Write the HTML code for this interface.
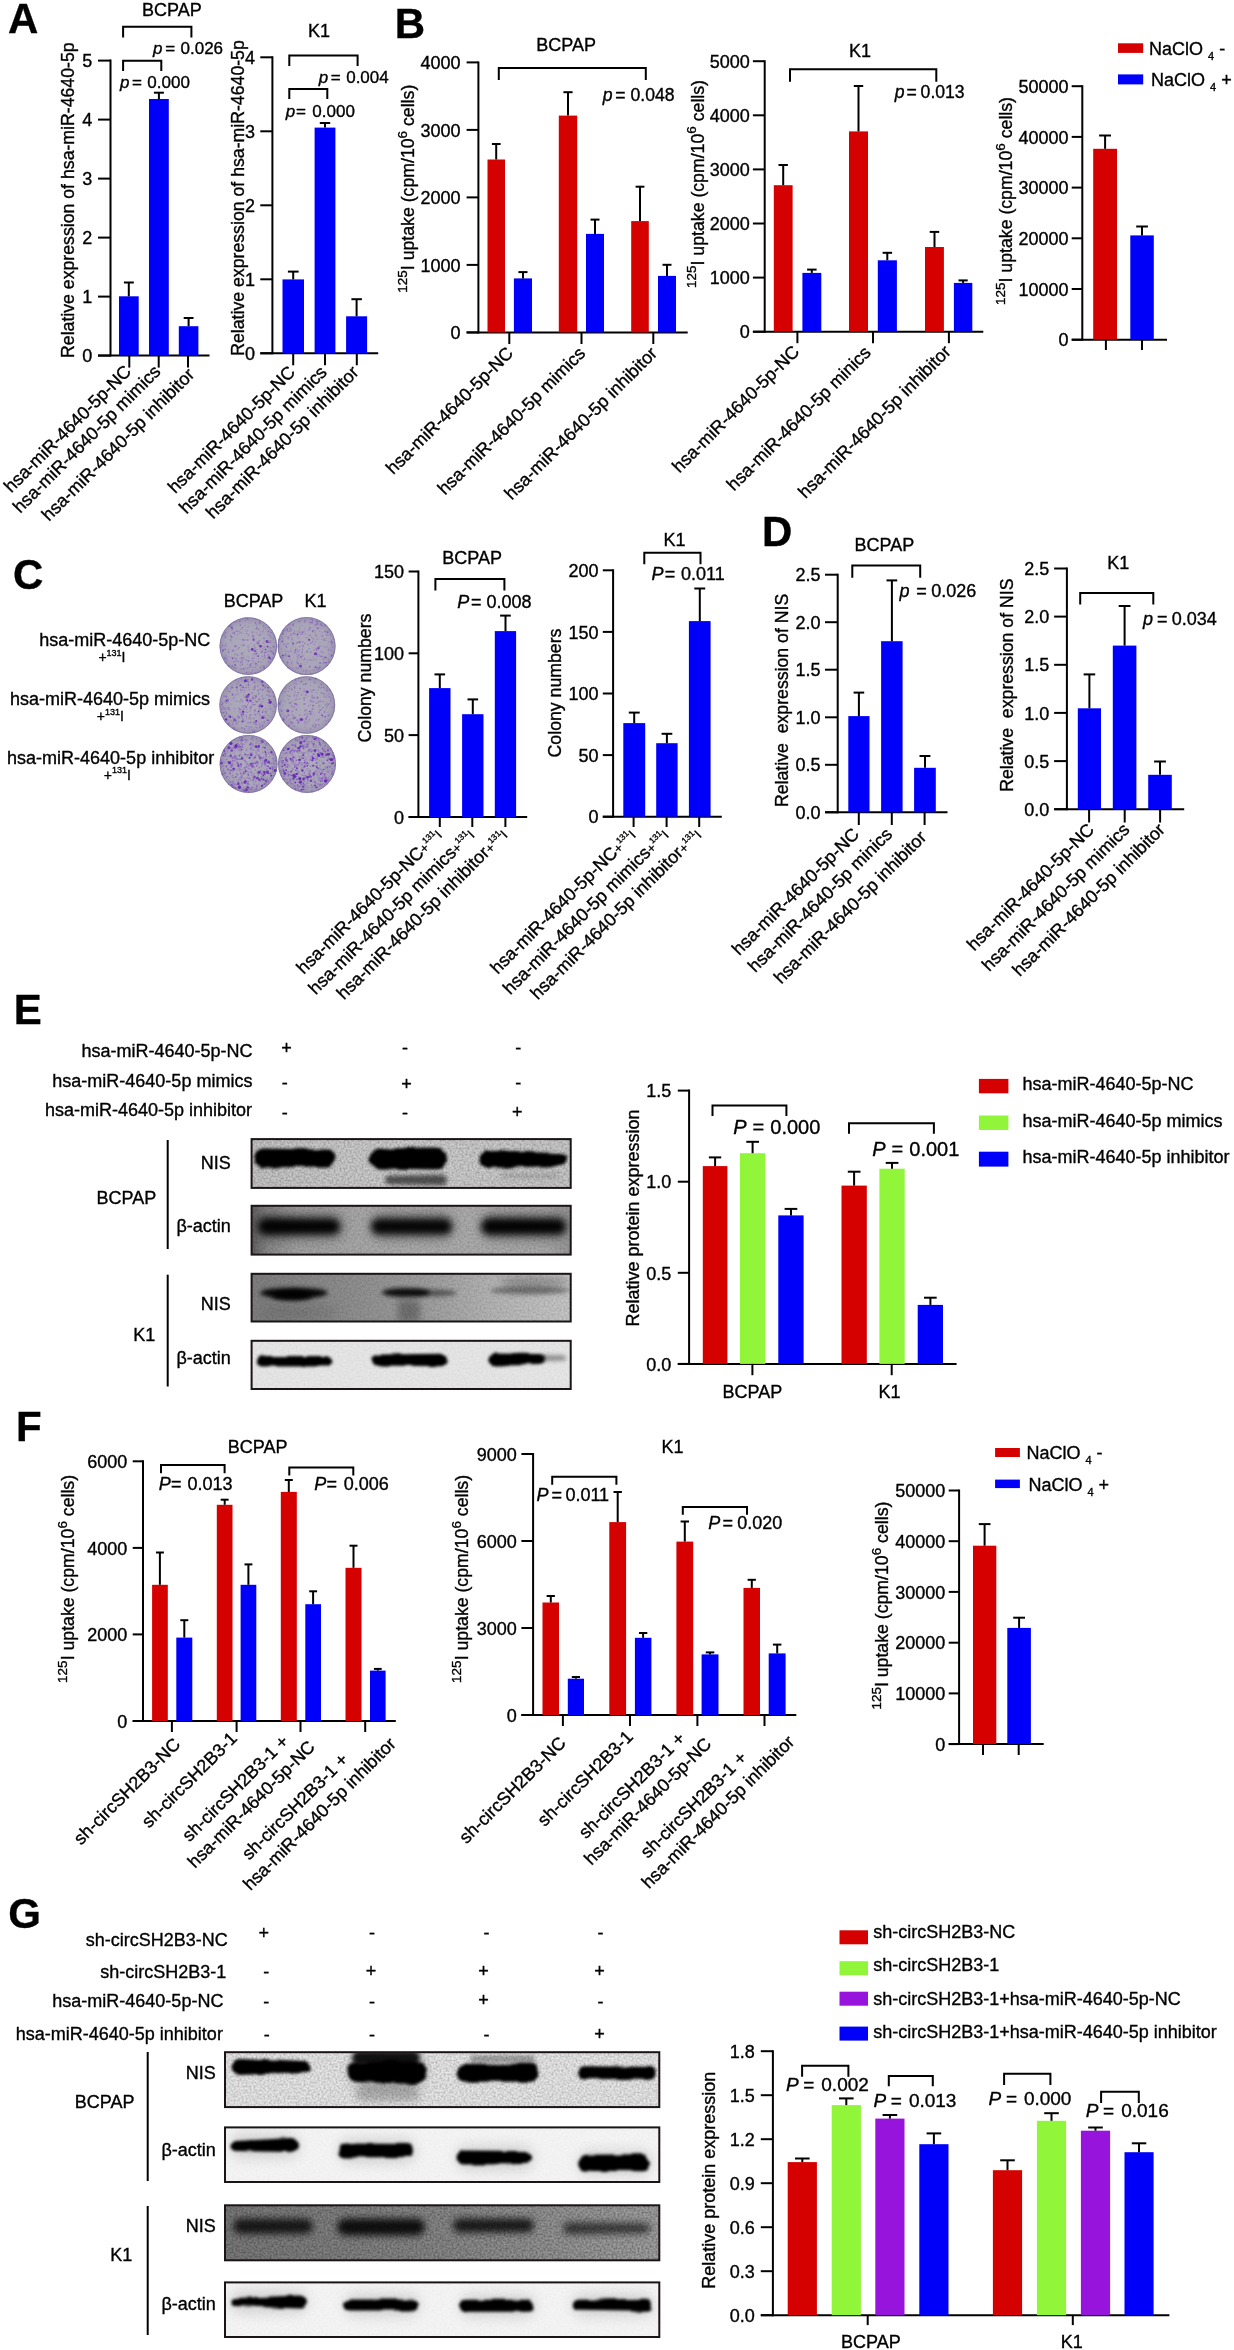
<!DOCTYPE html>
<html><head><meta charset="utf-8"><style>
html,body{margin:0;padding:0;background:#fff;overflow:hidden;}
svg{display:block;will-change:transform;}
text{font-family:"Liberation Sans",sans-serif;fill:#000;stroke:#000;stroke-width:0.35px;}
</style></head><body>
<svg width="1234" height="2350" viewBox="0 0 1234 2350">
<defs>
<radialGradient id="dishg" cx="0.5" cy="0.5" r="0.5"><stop offset="0" stop-color="#aeabbc"/><stop offset="0.75" stop-color="#a9a5b8"/><stop offset="1" stop-color="#9a94ae"/></radialGradient>
<filter id="b05" x="-5%" y="-5%" width="110%" height="110%"><feGaussianBlur stdDeviation="0.45"/></filter>
<filter id="b1" x="-20%" y="-80%" width="140%" height="260%"><feTurbulence type="fractalNoise" baseFrequency="0.045 0.12" numOctaves="2" seed="4" result="t"/><feDisplacementMap in="SourceGraphic" in2="t" scale="5" xChannelSelector="R" yChannelSelector="G" result="d"/><feGaussianBlur in="d" stdDeviation="1.4"/></filter>
<filter id="b2" x="-20%" y="-80%" width="140%" height="260%"><feGaussianBlur stdDeviation="2.2"/></filter>
<filter id="b3" x="-30%" y="-100%" width="160%" height="300%"><feGaussianBlur stdDeviation="3.5"/></filter>
<filter id="b5" x="-30%" y="-100%" width="160%" height="300%"><feGaussianBlur stdDeviation="6"/></filter>
<filter id="noise" x="0" y="0" width="100%" height="100%"><feTurbulence type="fractalNoise" baseFrequency="0.5" numOctaves="2" seed="3" result="n"/><feColorMatrix type="matrix" values="0 0 0 0 0  0 0 0 0 0  0 0 0 0 0  0 0 0 0.9 -0.3"/><feComposite in2="SourceGraphic" operator="in"/></filter>
</defs>
<rect width="1234" height="2350" fill="#fff"/>
<text x="7.9" y="33.0" font-size="42" font-weight="bold">A</text>
<text x="394.8" y="37.7" font-size="42" font-weight="bold">B</text>
<text x="12.9" y="589.4" font-size="42" font-weight="bold">C</text>
<text x="761.9" y="546.3" font-size="42" font-weight="bold">D</text>
<text x="13.8" y="1023.6" font-size="42" font-weight="bold">E</text>
<text x="16.0" y="1440.8" font-size="42" font-weight="bold">F</text>
<text x="8.2" y="1928.2" font-size="42" font-weight="bold">G</text>
<line x1="110.5" y1="59.6" x2="110.5" y2="356.6" stroke="#000" stroke-width="2"/>
<line x1="98.0" y1="355.6" x2="209.5" y2="355.6" stroke="#000" stroke-width="2"/>
<line x1="98.0" y1="355.6" x2="110.5" y2="355.6" stroke="#000" stroke-width="2"/>
<text x="92.3" y="362.3" font-size="18" text-anchor="end">0</text>
<line x1="98.0" y1="296.6" x2="110.5" y2="296.6" stroke="#000" stroke-width="2"/>
<text x="92.3" y="303.3" font-size="18" text-anchor="end">1</text>
<line x1="98.0" y1="237.6" x2="110.5" y2="237.6" stroke="#000" stroke-width="2"/>
<text x="92.3" y="244.3" font-size="18" text-anchor="end">2</text>
<line x1="98.0" y1="178.6" x2="110.5" y2="178.6" stroke="#000" stroke-width="2"/>
<text x="92.3" y="185.3" font-size="18" text-anchor="end">3</text>
<line x1="98.0" y1="119.6" x2="110.5" y2="119.6" stroke="#000" stroke-width="2"/>
<text x="92.3" y="126.3" font-size="18" text-anchor="end">4</text>
<line x1="98.0" y1="60.6" x2="110.5" y2="60.6" stroke="#000" stroke-width="2"/>
<text x="92.3" y="67.3" font-size="18" text-anchor="end">5</text>
<rect x="119.0" y="296.3" width="19.7" height="59.3" fill="#0000fa"/>
<line x1="128.8" y1="296.3" x2="128.8" y2="282.5" stroke="#000" stroke-width="2"/>
<line x1="123.9" y1="282.5" x2="133.8" y2="282.5" stroke="#000" stroke-width="2"/>
<rect x="149.0" y="99.0" width="19.8" height="256.6" fill="#0000fa"/>
<line x1="158.9" y1="99.0" x2="158.9" y2="92.7" stroke="#000" stroke-width="2"/>
<line x1="153.9" y1="92.7" x2="163.9" y2="92.7" stroke="#000" stroke-width="2"/>
<rect x="178.8" y="326.2" width="19.6" height="29.4" fill="#0000fa"/>
<line x1="188.6" y1="326.2" x2="188.6" y2="318.0" stroke="#000" stroke-width="2"/>
<line x1="183.7" y1="318.0" x2="193.5" y2="318.0" stroke="#000" stroke-width="2"/>
<line x1="129.3" y1="355.6" x2="129.3" y2="367.6" stroke="#000" stroke-width="2"/>
<line x1="158.7" y1="355.6" x2="158.7" y2="367.6" stroke="#000" stroke-width="2"/>
<line x1="188.0" y1="355.6" x2="188.0" y2="367.6" stroke="#000" stroke-width="2"/>
<polyline points="123.1,37.5 123.1,26.8 191.4,26.8 191.4,37.5" fill="none" stroke="#000" stroke-width="2" stroke-linejoin="miter"/>
<polyline points="123.1,71.0 123.1,60.7 161.3,60.7 161.3,71.0" fill="none" stroke="#000" stroke-width="2" stroke-linejoin="miter"/>
<text x="171.8" y="15.9" font-size="18" text-anchor="middle">BCPAP</text>
<text x="152.9" y="54.0" font-size="17" font-style="italic">p</text>
<text x="165.2" y="54.0" font-size="17">=</text>
<text x="180.5" y="54.0" font-size="17">0.026</text>
<text x="119.9" y="88.2" font-size="17" font-style="italic">p</text>
<text x="132.0" y="88.2" font-size="17">=</text>
<text x="147.3" y="88.2" font-size="17">0.000</text>
<text x="73.7" y="200.2" font-size="17.7" text-anchor="middle" transform="rotate(-90 73.7 200.2)">Relative expression of hsa-miR-4640-5p</text>
<text x="132.3" y="372.6" font-size="18" text-anchor="end" transform="rotate(-45 132.3 372.6)">hsa-miR-4640-5p-NC</text>
<text x="161.7" y="372.6" font-size="18" text-anchor="end" transform="rotate(-45 161.7 372.6)">hsa-miR-4640-5p mimics</text>
<text x="195.5" y="375.6" font-size="18" text-anchor="end" transform="rotate(-45 195.5 375.6)">hsa-miR-4640-5p inhibitor</text>
<line x1="272.4" y1="56.3" x2="272.4" y2="354.3" stroke="#000" stroke-width="2"/>
<line x1="260.3" y1="353.3" x2="378.2" y2="353.3" stroke="#000" stroke-width="2"/>
<line x1="260.3" y1="353.3" x2="272.4" y2="353.3" stroke="#000" stroke-width="2"/>
<text x="254.9" y="360.0" font-size="18" text-anchor="end">0</text>
<line x1="260.3" y1="279.3" x2="272.4" y2="279.3" stroke="#000" stroke-width="2"/>
<text x="254.9" y="286.0" font-size="18" text-anchor="end">1</text>
<line x1="260.3" y1="205.3" x2="272.4" y2="205.3" stroke="#000" stroke-width="2"/>
<text x="254.9" y="212.0" font-size="18" text-anchor="end">2</text>
<line x1="260.3" y1="131.3" x2="272.4" y2="131.3" stroke="#000" stroke-width="2"/>
<text x="254.9" y="138.0" font-size="18" text-anchor="end">3</text>
<line x1="260.3" y1="57.3" x2="272.4" y2="57.3" stroke="#000" stroke-width="2"/>
<text x="254.9" y="64.0" font-size="18" text-anchor="end">4</text>
<rect x="282.5" y="279.4" width="21.5" height="73.9" fill="#0000fa"/>
<line x1="293.2" y1="279.4" x2="293.2" y2="271.6" stroke="#000" stroke-width="2"/>
<line x1="287.9" y1="271.6" x2="298.6" y2="271.6" stroke="#000" stroke-width="2"/>
<rect x="314.6" y="127.6" width="20.8" height="225.7" fill="#0000fa"/>
<line x1="325.0" y1="127.6" x2="325.0" y2="123.0" stroke="#000" stroke-width="2"/>
<line x1="319.8" y1="123.0" x2="330.2" y2="123.0" stroke="#000" stroke-width="2"/>
<rect x="346.1" y="316.3" width="21.0" height="37.0" fill="#0000fa"/>
<line x1="356.6" y1="316.3" x2="356.6" y2="299.2" stroke="#000" stroke-width="2"/>
<line x1="351.4" y1="299.2" x2="361.9" y2="299.2" stroke="#000" stroke-width="2"/>
<line x1="293.2" y1="353.3" x2="293.2" y2="365.3" stroke="#000" stroke-width="2"/>
<line x1="325.0" y1="353.3" x2="325.0" y2="365.3" stroke="#000" stroke-width="2"/>
<line x1="356.8" y1="353.3" x2="356.8" y2="365.3" stroke="#000" stroke-width="2"/>
<polyline points="289.3,66.0 289.3,55.4 357.6,55.4 357.6,66.0" fill="none" stroke="#000" stroke-width="2" stroke-linejoin="miter"/>
<polyline points="289.3,99.0 289.3,89.0 327.3,89.0 327.3,99.0" fill="none" stroke="#000" stroke-width="2" stroke-linejoin="miter"/>
<text x="319.1" y="37.4" font-size="18" text-anchor="middle">K1</text>
<text x="318.8" y="83.0" font-size="17" font-style="italic">p</text>
<text x="330.8" y="83.0" font-size="17">=</text>
<text x="346.2" y="83.0" font-size="17">0.004</text>
<text x="285.8" y="116.8" font-size="17" font-style="italic">p</text>
<text x="296.1" y="116.8" font-size="17">=</text>
<text x="312.3" y="116.8" font-size="17">0.000</text>
<text x="243.5" y="198.0" font-size="17.7" text-anchor="middle" transform="rotate(-90 243.5 198.0)">Relative expression of hsa-miR-4640-5p</text>
<text x="296.2" y="373.3" font-size="18" text-anchor="end" transform="rotate(-45 296.2 373.3)">hsa-miR-4640-5p-NC</text>
<text x="328.0" y="373.3" font-size="18" text-anchor="end" transform="rotate(-45 328.0 373.3)">hsa-miR-4640-5p mimics</text>
<text x="359.8" y="373.3" font-size="18" text-anchor="end" transform="rotate(-45 359.8 373.3)">hsa-miR-4640-5p inhibitor</text>
<line x1="478.4" y1="61.4" x2="478.4" y2="333.4" stroke="#000" stroke-width="2"/>
<line x1="466.6" y1="332.4" x2="687.7" y2="332.4" stroke="#000" stroke-width="2"/>
<line x1="466.6" y1="332.4" x2="478.4" y2="332.4" stroke="#000" stroke-width="2"/>
<text x="460.5" y="339.1" font-size="18" text-anchor="end">0</text>
<line x1="466.6" y1="264.9" x2="478.4" y2="264.9" stroke="#000" stroke-width="2"/>
<text x="460.5" y="271.6" font-size="18" text-anchor="end">1000</text>
<line x1="466.6" y1="197.4" x2="478.4" y2="197.4" stroke="#000" stroke-width="2"/>
<text x="460.5" y="204.1" font-size="18" text-anchor="end">2000</text>
<line x1="466.6" y1="129.9" x2="478.4" y2="129.9" stroke="#000" stroke-width="2"/>
<text x="460.5" y="136.6" font-size="18" text-anchor="end">3000</text>
<line x1="466.6" y1="62.4" x2="478.4" y2="62.4" stroke="#000" stroke-width="2"/>
<text x="460.5" y="69.1" font-size="18" text-anchor="end">4000</text>
<rect x="487.5" y="159.5" width="17.5" height="172.9" fill="#d50000"/>
<line x1="496.2" y1="159.5" x2="496.2" y2="144.0" stroke="#000" stroke-width="2"/>
<line x1="491.9" y1="144.0" x2="500.6" y2="144.0" stroke="#000" stroke-width="2"/>
<rect x="513.9" y="278.4" width="18.1" height="54.0" fill="#0000fa"/>
<line x1="523.0" y1="278.4" x2="523.0" y2="272.1" stroke="#000" stroke-width="2"/>
<line x1="518.4" y1="272.1" x2="527.5" y2="272.1" stroke="#000" stroke-width="2"/>
<rect x="558.8" y="115.6" width="18.4" height="216.8" fill="#d50000"/>
<line x1="568.0" y1="115.6" x2="568.0" y2="92.2" stroke="#000" stroke-width="2"/>
<line x1="563.4" y1="92.2" x2="572.6" y2="92.2" stroke="#000" stroke-width="2"/>
<rect x="586.0" y="233.9" width="18.0" height="98.5" fill="#0000fa"/>
<line x1="595.0" y1="233.9" x2="595.0" y2="219.6" stroke="#000" stroke-width="2"/>
<line x1="590.5" y1="219.6" x2="599.5" y2="219.6" stroke="#000" stroke-width="2"/>
<rect x="631.2" y="221.1" width="17.6" height="111.3" fill="#d50000"/>
<line x1="640.0" y1="221.1" x2="640.0" y2="186.7" stroke="#000" stroke-width="2"/>
<line x1="635.6" y1="186.7" x2="644.4" y2="186.7" stroke="#000" stroke-width="2"/>
<rect x="658.0" y="275.9" width="18.0" height="56.5" fill="#0000fa"/>
<line x1="667.0" y1="275.9" x2="667.0" y2="264.8" stroke="#000" stroke-width="2"/>
<line x1="662.5" y1="264.8" x2="671.5" y2="264.8" stroke="#000" stroke-width="2"/>
<line x1="509.3" y1="332.4" x2="509.3" y2="344.0" stroke="#000" stroke-width="2"/>
<line x1="581.5" y1="332.4" x2="581.5" y2="344.0" stroke="#000" stroke-width="2"/>
<line x1="653.3" y1="332.4" x2="653.3" y2="344.0" stroke="#000" stroke-width="2"/>
<polyline points="498.8,80.0 498.8,68.0 645.8,68.0 645.8,80.0" fill="none" stroke="#000" stroke-width="2" stroke-linejoin="miter"/>
<text x="566.2" y="51.0" font-size="18" text-anchor="middle">BCPAP</text>
<text x="602.7" y="100.5" font-size="17.6" font-style="italic">p</text>
<text x="615.2" y="100.5" font-size="17.6">=</text>
<text x="630.5" y="100.5" font-size="17.6">0.048</text>
<text x="414.5" y="188.7" font-size="17.7" text-anchor="middle" transform="rotate(-90 414.5 188.7)"><tspan font-size="13.5" dy="-7.3">125</tspan><tspan dy="7.3">I uptake (cpm/10</tspan><tspan font-size="13.5" dy="-7.3">6</tspan><tspan dy="7.3"> cells)</tspan></text>
<text x="514.3" y="354.4" font-size="18" text-anchor="end" transform="rotate(-45 514.3 354.4)">hsa-miR-4640-5p-NC</text>
<text x="586.5" y="354.4" font-size="18" text-anchor="end" transform="rotate(-45 586.5 354.4)">hsa-miR-4640-5p mimics</text>
<text x="658.3" y="354.4" font-size="18" text-anchor="end" transform="rotate(-45 658.3 354.4)">hsa-miR-4640-5p inhibitor</text>
<line x1="764.7" y1="60.2" x2="764.7" y2="332.7" stroke="#000" stroke-width="2"/>
<line x1="752.9" y1="331.7" x2="983.3" y2="331.7" stroke="#000" stroke-width="2"/>
<line x1="752.9" y1="331.7" x2="764.7" y2="331.7" stroke="#000" stroke-width="2"/>
<text x="749.7" y="338.4" font-size="18" text-anchor="end">0</text>
<line x1="752.9" y1="277.6" x2="764.7" y2="277.6" stroke="#000" stroke-width="2"/>
<text x="749.7" y="284.3" font-size="18" text-anchor="end">1000</text>
<line x1="752.9" y1="223.5" x2="764.7" y2="223.5" stroke="#000" stroke-width="2"/>
<text x="749.7" y="230.2" font-size="18" text-anchor="end">2000</text>
<line x1="752.9" y1="169.4" x2="764.7" y2="169.4" stroke="#000" stroke-width="2"/>
<text x="749.7" y="176.1" font-size="18" text-anchor="end">3000</text>
<line x1="752.9" y1="115.3" x2="764.7" y2="115.3" stroke="#000" stroke-width="2"/>
<text x="749.7" y="122.0" font-size="18" text-anchor="end">4000</text>
<line x1="752.9" y1="61.2" x2="764.7" y2="61.2" stroke="#000" stroke-width="2"/>
<text x="749.7" y="67.9" font-size="18" text-anchor="end">5000</text>
<rect x="773.8" y="185.2" width="18.8" height="146.5" fill="#d50000"/>
<line x1="783.2" y1="185.2" x2="783.2" y2="165.0" stroke="#000" stroke-width="2"/>
<line x1="778.5" y1="165.0" x2="787.9" y2="165.0" stroke="#000" stroke-width="2"/>
<rect x="802.4" y="272.9" width="18.9" height="58.8" fill="#0000fa"/>
<line x1="811.8" y1="272.9" x2="811.8" y2="269.6" stroke="#000" stroke-width="2"/>
<line x1="807.1" y1="269.6" x2="816.6" y2="269.6" stroke="#000" stroke-width="2"/>
<rect x="849.0" y="131.4" width="19.0" height="200.3" fill="#d50000"/>
<line x1="858.5" y1="131.4" x2="858.5" y2="86.0" stroke="#000" stroke-width="2"/>
<line x1="853.8" y1="86.0" x2="863.2" y2="86.0" stroke="#000" stroke-width="2"/>
<rect x="877.8" y="260.3" width="19.1" height="71.4" fill="#0000fa"/>
<line x1="887.3" y1="260.3" x2="887.3" y2="252.8" stroke="#000" stroke-width="2"/>
<line x1="882.6" y1="252.8" x2="892.1" y2="252.8" stroke="#000" stroke-width="2"/>
<rect x="925.0" y="247.0" width="18.9" height="84.7" fill="#d50000"/>
<line x1="934.5" y1="247.0" x2="934.5" y2="231.9" stroke="#000" stroke-width="2"/>
<line x1="929.7" y1="231.9" x2="939.2" y2="231.9" stroke="#000" stroke-width="2"/>
<rect x="953.9" y="282.9" width="18.4" height="48.8" fill="#0000fa"/>
<line x1="963.1" y1="282.9" x2="963.1" y2="280.4" stroke="#000" stroke-width="2"/>
<line x1="958.5" y1="280.4" x2="967.7" y2="280.4" stroke="#000" stroke-width="2"/>
<line x1="797.4" y1="331.7" x2="797.4" y2="343.2" stroke="#000" stroke-width="2"/>
<line x1="873.0" y1="331.7" x2="873.0" y2="343.2" stroke="#000" stroke-width="2"/>
<line x1="948.9" y1="331.7" x2="948.9" y2="343.2" stroke="#000" stroke-width="2"/>
<polyline points="790.0,81.7 790.0,69.3 936.3,69.3 936.3,81.7" fill="none" stroke="#000" stroke-width="2" stroke-linejoin="miter"/>
<text x="859.9" y="56.5" font-size="18" text-anchor="middle">K1</text>
<text x="894.8" y="98.0" font-size="17.6" font-style="italic">p</text>
<text x="906.5" y="98.0" font-size="17.6">=</text>
<text x="920.6" y="98.0" font-size="17.6">0.013</text>
<text x="703.8" y="184.0" font-size="17.7" text-anchor="middle" transform="rotate(-90 703.8 184.0)"><tspan font-size="13.5" dy="-7.3">125</tspan><tspan dy="7.3">I uptake (cpm/10</tspan><tspan font-size="13.5" dy="-7.3">6</tspan><tspan dy="7.3"> cells)</tspan></text>
<text x="800.4" y="352.7" font-size="18" text-anchor="end" transform="rotate(-45 800.4 352.7)">hsa-miR-4640-5p-NC</text>
<text x="872.0" y="353.7" font-size="18" text-anchor="end" transform="rotate(-45 872.0 353.7)">hsa-miR-4640-5p minics</text>
<text x="951.9" y="352.7" font-size="18" text-anchor="end" transform="rotate(-45 951.9 352.7)">hsa-miR-4640-5p inhibitor</text>
<line x1="1082.3" y1="85.2" x2="1082.3" y2="340.7" stroke="#000" stroke-width="2"/>
<line x1="1071.7" y1="339.7" x2="1167.0" y2="339.7" stroke="#000" stroke-width="2"/>
<line x1="1071.7" y1="339.7" x2="1082.3" y2="339.7" stroke="#000" stroke-width="2"/>
<text x="1068.5" y="346.4" font-size="18" text-anchor="end">0</text>
<line x1="1071.7" y1="289.0" x2="1082.3" y2="289.0" stroke="#000" stroke-width="2"/>
<text x="1068.5" y="295.7" font-size="18" text-anchor="end">10000</text>
<line x1="1071.7" y1="238.3" x2="1082.3" y2="238.3" stroke="#000" stroke-width="2"/>
<text x="1068.5" y="245.0" font-size="18" text-anchor="end">20000</text>
<line x1="1071.7" y1="187.6" x2="1082.3" y2="187.6" stroke="#000" stroke-width="2"/>
<text x="1068.5" y="194.3" font-size="18" text-anchor="end">30000</text>
<line x1="1071.7" y1="136.9" x2="1082.3" y2="136.9" stroke="#000" stroke-width="2"/>
<text x="1068.5" y="143.6" font-size="18" text-anchor="end">40000</text>
<line x1="1071.7" y1="86.2" x2="1082.3" y2="86.2" stroke="#000" stroke-width="2"/>
<text x="1068.5" y="92.9" font-size="18" text-anchor="end">50000</text>
<rect x="1093.2" y="148.8" width="23.8" height="190.9" fill="#d50000"/>
<line x1="1105.1" y1="148.8" x2="1105.1" y2="135.5" stroke="#000" stroke-width="2"/>
<line x1="1099.1" y1="135.5" x2="1111.0" y2="135.5" stroke="#000" stroke-width="2"/>
<rect x="1130.3" y="235.4" width="23.5" height="104.3" fill="#0000fa"/>
<line x1="1142.0" y1="235.4" x2="1142.0" y2="226.5" stroke="#000" stroke-width="2"/>
<line x1="1136.2" y1="226.5" x2="1147.9" y2="226.5" stroke="#000" stroke-width="2"/>
<line x1="1105.9" y1="339.7" x2="1105.9" y2="350.0" stroke="#000" stroke-width="2"/>
<line x1="1142.0" y1="339.7" x2="1142.0" y2="350.0" stroke="#000" stroke-width="2"/>
<rect x="1118.0" y="43.3" width="25.2" height="9.6" fill="#d50000"/>
<rect x="1118.0" y="74.4" width="25.2" height="10.0" fill="#0000fa"/>
<text x="1149.0" y="54.9" font-size="18">NaClO <tspan font-size="11" dy="5">4</tspan><tspan dy="-5"> -</tspan></text>
<text x="1151.0" y="85.5" font-size="18">NaClO <tspan font-size="11" dy="5">4</tspan><tspan dy="-5"> +</tspan></text>
<text x="1012.0" y="201.0" font-size="17.7" text-anchor="middle" transform="rotate(-90 1012.0 201.0)"><tspan font-size="13.5" dy="-7.3">125</tspan><tspan dy="7.3">I uptake (cpm/10</tspan><tspan font-size="13.5" dy="-7.3">6</tspan><tspan dy="7.3"> cells)</tspan></text>
<text x="253.5" y="607.4" font-size="18" text-anchor="middle">BCPAP</text>
<text x="315.5" y="607.3" font-size="18" text-anchor="middle">K1</text>
<circle cx="248.3" cy="646.1" r="28.8" fill="url(#dishg)"/>
<g filter="url(#b05)">
<circle cx="243.4" cy="655.9" r="0.8" fill="#7438c0" opacity="0.18"/>
<circle cx="231.7" cy="642.3" r="0.5" fill="#7438c0" opacity="0.33"/>
<circle cx="266.4" cy="650.4" r="0.5" fill="#7438c0" opacity="0.18"/>
<circle cx="225.5" cy="657.8" r="0.5" fill="#7438c0" opacity="0.23"/>
<circle cx="229.2" cy="626.4" r="0.8" fill="#7438c0" opacity="0.29"/>
<circle cx="254.3" cy="645.2" r="1.0" fill="#7438c0" opacity="0.25"/>
<circle cx="254.3" cy="653.7" r="0.6" fill="#7438c0" opacity="0.44"/>
<circle cx="257.4" cy="665.6" r="0.8" fill="#7438c0" opacity="0.28"/>
<circle cx="241.5" cy="644.0" r="0.5" fill="#7438c0" opacity="0.22"/>
<circle cx="240.5" cy="629.4" r="0.6" fill="#7438c0" opacity="0.35"/>
<circle cx="233.5" cy="650.6" r="0.9" fill="#7438c0" opacity="0.39"/>
<circle cx="249.1" cy="667.5" r="0.8" fill="#7438c0" opacity="0.46"/>
<circle cx="246.3" cy="631.1" r="1.0" fill="#7438c0" opacity="0.19"/>
<circle cx="226.9" cy="658.2" r="0.5" fill="#7438c0" opacity="0.32"/>
<circle cx="270.7" cy="651.7" r="0.9" fill="#7438c0" opacity="0.35"/>
<circle cx="259.5" cy="635.0" r="0.9" fill="#7438c0" opacity="0.36"/>
<circle cx="231.6" cy="636.9" r="1.0" fill="#7438c0" opacity="0.48"/>
<circle cx="225.6" cy="649.8" r="0.5" fill="#7438c0" opacity="0.40"/>
<circle cx="231.4" cy="623.6" r="0.9" fill="#7438c0" opacity="0.25"/>
<circle cx="230.9" cy="661.3" r="0.5" fill="#7438c0" opacity="0.31"/>
<circle cx="253.1" cy="654.5" r="0.5" fill="#7438c0" opacity="0.42"/>
<circle cx="258.0" cy="656.3" r="0.7" fill="#7438c0" opacity="0.45"/>
<circle cx="264.8" cy="655.3" r="0.8" fill="#7438c0" opacity="0.46"/>
<circle cx="259.4" cy="622.3" r="0.6" fill="#7438c0" opacity="0.30"/>
<circle cx="231.5" cy="666.7" r="1.0" fill="#7438c0" opacity="0.20"/>
<circle cx="254.4" cy="658.3" r="0.6" fill="#7438c0" opacity="0.32"/>
<circle cx="236.0" cy="638.4" r="0.5" fill="#7438c0" opacity="0.30"/>
<circle cx="233.8" cy="661.7" r="1.0" fill="#7438c0" opacity="0.39"/>
<circle cx="226.2" cy="643.9" r="0.9" fill="#7438c0" opacity="0.17"/>
<circle cx="268.4" cy="631.4" r="1.0" fill="#7438c0" opacity="0.43"/>
<circle cx="234.4" cy="657.3" r="0.5" fill="#7438c0" opacity="0.37"/>
<circle cx="255.1" cy="648.9" r="0.6" fill="#7438c0" opacity="0.21"/>
<circle cx="244.8" cy="651.6" r="0.5" fill="#7438c0" opacity="0.20"/>
<circle cx="262.0" cy="656.2" r="0.5" fill="#7438c0" opacity="0.46"/>
<circle cx="240.1" cy="639.0" r="0.6" fill="#7438c0" opacity="0.27"/>
<circle cx="241.8" cy="653.6" r="1.0" fill="#7438c0" opacity="0.50"/>
<circle cx="229.1" cy="650.3" r="0.5" fill="#7438c0" opacity="0.19"/>
<circle cx="240.3" cy="658.2" r="0.9" fill="#7438c0" opacity="0.21"/>
<circle cx="275.5" cy="650.1" r="0.8" fill="#7438c0" opacity="0.20"/>
<circle cx="243.8" cy="644.9" r="0.8" fill="#7438c0" opacity="0.49"/>
<circle cx="263.7" cy="628.3" r="0.6" fill="#7438c0" opacity="0.28"/>
<circle cx="260.6" cy="667.6" r="0.8" fill="#7438c0" opacity="0.42"/>
<circle cx="241.9" cy="657.8" r="0.9" fill="#7438c0" opacity="0.49"/>
<circle cx="263.5" cy="625.8" r="0.9" fill="#7438c0" opacity="0.41"/>
<circle cx="251.3" cy="666.2" r="0.7" fill="#7438c0" opacity="0.16"/>
<circle cx="263.0" cy="648.7" r="0.6" fill="#7438c0" opacity="0.39"/>
<circle cx="266.5" cy="641.0" r="1.0" fill="#7438c0" opacity="0.50"/>
<circle cx="264.7" cy="641.3" r="0.6" fill="#7438c0" opacity="0.23"/>
<circle cx="252.5" cy="658.2" r="0.8" fill="#7438c0" opacity="0.47"/>
<circle cx="258.8" cy="629.6" r="0.8" fill="#7438c0" opacity="0.43"/>
<circle cx="268.1" cy="657.7" r="1.0" fill="#7438c0" opacity="0.42"/>
<circle cx="248.3" cy="626.6" r="0.6" fill="#7438c0" opacity="0.43"/>
<circle cx="235.8" cy="668.0" r="1.0" fill="#7438c0" opacity="0.29"/>
<circle cx="225.9" cy="662.0" r="0.9" fill="#7438c0" opacity="0.21"/>
<circle cx="256.0" cy="654.0" r="1.0" fill="#7438c0" opacity="0.43"/>
<circle cx="263.9" cy="666.5" r="1.0" fill="#7438c0" opacity="0.38"/>
<circle cx="236.0" cy="663.0" r="0.5" fill="#7438c0" opacity="0.15"/>
<circle cx="270.7" cy="642.0" r="0.8" fill="#7438c0" opacity="0.48"/>
<circle cx="224.2" cy="656.7" r="0.9" fill="#7438c0" opacity="0.22"/>
<circle cx="248.1" cy="661.4" r="0.6" fill="#7438c0" opacity="0.36"/>
<circle cx="247.2" cy="664.3" r="0.5" fill="#7438c0" opacity="0.47"/>
<circle cx="236.7" cy="661.3" r="0.8" fill="#7438c0" opacity="0.47"/>
<circle cx="224.6" cy="659.0" r="0.8" fill="#7438c0" opacity="0.34"/>
<circle cx="244.5" cy="645.5" r="0.7" fill="#7438c0" opacity="0.21"/>
<circle cx="273.5" cy="646.7" r="0.6" fill="#7438c0" opacity="0.32"/>
<circle cx="245.0" cy="625.3" r="0.6" fill="#7438c0" opacity="0.33"/>
<circle cx="224.8" cy="637.6" r="0.5" fill="#7438c0" opacity="0.35"/>
<circle cx="248.4" cy="661.0" r="0.9" fill="#7438c0" opacity="0.33"/>
<circle cx="225.5" cy="636.8" r="1.0" fill="#7438c0" opacity="0.31"/>
<circle cx="233.0" cy="633.1" r="0.8" fill="#7438c0" opacity="0.39"/>
<circle cx="228.6" cy="652.2" r="0.7" fill="#7438c0" opacity="0.48"/>
<circle cx="240.0" cy="621.0" r="1.0" fill="#7438c0" opacity="0.24"/>
<circle cx="222.8" cy="636.1" r="1.0" fill="#7438c0" opacity="0.20"/>
<circle cx="261.8" cy="659.1" r="0.5" fill="#7438c0" opacity="0.23"/>
<circle cx="269.0" cy="656.3" r="0.9" fill="#7438c0" opacity="0.46"/>
<circle cx="261.8" cy="665.8" r="0.8" fill="#7438c0" opacity="0.20"/>
<circle cx="268.9" cy="627.5" r="0.6" fill="#7438c0" opacity="0.48"/>
<circle cx="232.5" cy="657.9" r="1.0" fill="#7438c0" opacity="0.44"/>
<circle cx="258.1" cy="661.8" r="0.8" fill="#7438c0" opacity="0.27"/>
<circle cx="253.6" cy="661.1" r="0.9" fill="#7438c0" opacity="0.16"/>
<circle cx="230.6" cy="639.9" r="0.5" fill="#7438c0" opacity="0.27"/>
<circle cx="233.9" cy="631.9" r="0.5" fill="#7438c0" opacity="0.49"/>
<circle cx="254.9" cy="619.1" r="0.5" fill="#7438c0" opacity="0.24"/>
<circle cx="272.4" cy="652.2" r="0.6" fill="#7438c0" opacity="0.20"/>
<circle cx="224.5" cy="658.7" r="0.9" fill="#7438c0" opacity="0.24"/>
<circle cx="264.3" cy="667.9" r="0.8" fill="#7438c0" opacity="0.40"/>
<circle cx="254.0" cy="649.7" r="0.9" fill="#7438c0" opacity="0.30"/>
<circle cx="272.9" cy="658.1" r="0.8" fill="#7438c0" opacity="0.43"/>
<circle cx="270.9" cy="659.2" r="0.5" fill="#7438c0" opacity="0.45"/>
<circle cx="232.6" cy="650.8" r="0.8" fill="#7438c0" opacity="0.47"/>
<circle cx="247.2" cy="656.2" r="0.8" fill="#7438c0" opacity="0.23"/>
<circle cx="257.1" cy="653.3" r="0.5" fill="#7438c0" opacity="0.22"/>
<circle cx="242.4" cy="660.5" r="0.9" fill="#7438c0" opacity="0.25"/>
<circle cx="236.4" cy="646.1" r="0.7" fill="#7438c0" opacity="0.16"/>
<circle cx="248.3" cy="649.6" r="0.9" fill="#7438c0" opacity="0.34"/>
<circle cx="255.5" cy="664.2" r="1.0" fill="#7438c0" opacity="0.19"/>
<circle cx="256.1" cy="629.3" r="0.7" fill="#7438c0" opacity="0.44"/>
<circle cx="232.6" cy="658.6" r="0.9" fill="#7438c0" opacity="0.49"/>
<circle cx="234.1" cy="667.6" r="0.9" fill="#7438c0" opacity="0.37"/>
<circle cx="234.6" cy="655.5" r="0.5" fill="#7438c0" opacity="0.20"/>
<circle cx="270.2" cy="656.5" r="0.6" fill="#7438c0" opacity="0.21"/>
<circle cx="270.6" cy="659.2" r="1.0" fill="#7438c0" opacity="0.38"/>
<circle cx="245.5" cy="659.7" r="0.6" fill="#7438c0" opacity="0.31"/>
<circle cx="258.6" cy="661.9" r="0.6" fill="#7438c0" opacity="0.49"/>
<circle cx="268.9" cy="642.5" r="0.6" fill="#7438c0" opacity="0.49"/>
<circle cx="242.1" cy="661.8" r="0.5" fill="#7438c0" opacity="0.28"/>
<circle cx="228.5" cy="649.3" r="0.6" fill="#7438c0" opacity="0.33"/>
<circle cx="262.8" cy="646.6" r="0.5" fill="#7438c0" opacity="0.29"/>
<circle cx="252.4" cy="647.2" r="0.6" fill="#7438c0" opacity="0.23"/>
<circle cx="230.7" cy="635.6" r="0.9" fill="#7438c0" opacity="0.38"/>
<circle cx="242.7" cy="620.2" r="0.7" fill="#7438c0" opacity="0.26"/>
<circle cx="259.2" cy="645.1" r="0.9" fill="#7438c0" opacity="0.38"/>
<circle cx="273.1" cy="653.1" r="1.0" fill="#7438c0" opacity="0.37"/>
<circle cx="245.7" cy="620.8" r="0.5" fill="#7438c0" opacity="0.33"/>
<circle cx="222.5" cy="645.4" r="0.9" fill="#7438c0" opacity="0.44"/>
<circle cx="225.3" cy="632.7" r="0.9" fill="#7438c0" opacity="0.39"/>
<circle cx="248.9" cy="651.0" r="0.5" fill="#7438c0" opacity="0.28"/>
<circle cx="268.7" cy="661.9" r="0.8" fill="#7438c0" opacity="0.37"/>
<circle cx="232.0" cy="629.5" r="0.7" fill="#7438c0" opacity="0.15"/>
<circle cx="255.5" cy="622.8" r="0.8" fill="#7438c0" opacity="0.34"/>
<circle cx="244.4" cy="640.0" r="0.9" fill="#7438c0" opacity="0.24"/>
<circle cx="261.3" cy="652.7" r="0.9" fill="#7438c0" opacity="0.22"/>
<circle cx="246.5" cy="618.3" r="0.7" fill="#7438c0" opacity="0.28"/>
<circle cx="225.2" cy="649.2" r="0.9" fill="#7438c0" opacity="0.37"/>
<circle cx="243.4" cy="640.0" r="0.5" fill="#7438c0" opacity="0.24"/>
<circle cx="247.6" cy="630.5" r="0.8" fill="#7438c0" opacity="0.15"/>
<circle cx="261.9" cy="651.5" r="0.9" fill="#7438c0" opacity="0.39"/>
<circle cx="241.4" cy="632.5" r="0.8" fill="#7438c0" opacity="0.31"/>
<circle cx="238.8" cy="648.1" r="1.0" fill="#7438c0" opacity="0.22"/>
<circle cx="275.4" cy="642.4" r="0.5" fill="#7438c0" opacity="0.31"/>
<circle cx="260.1" cy="621.0" r="0.7" fill="#7438c0" opacity="0.24"/>
<circle cx="255.2" cy="672.7" r="0.6" fill="#7438c0" opacity="0.35"/>
<circle cx="261.2" cy="662.0" r="1.0" fill="#7438c0" opacity="0.20"/>
<circle cx="256.9" cy="627.9" r="1.0" fill="#7438c0" opacity="0.40"/>
<circle cx="251.4" cy="672.7" r="0.7" fill="#7438c0" opacity="0.16"/>
<circle cx="268.1" cy="646.5" r="0.7" fill="#7438c0" opacity="0.26"/>
<circle cx="258.8" cy="658.9" r="0.6" fill="#7438c0" opacity="0.44"/>
<circle cx="272.8" cy="646.4" r="1.0" fill="#7438c0" opacity="0.19"/>
<circle cx="269.6" cy="635.5" r="1.0" fill="#7438c0" opacity="0.25"/>
<circle cx="236.0" cy="658.8" r="1.0" fill="#7438c0" opacity="0.36"/>
<circle cx="236.5" cy="660.3" r="0.6" fill="#7438c0" opacity="0.17"/>
<circle cx="269.0" cy="661.5" r="0.6" fill="#7438c0" opacity="0.48"/>
<circle cx="248.4" cy="660.6" r="0.8" fill="#7438c0" opacity="0.22"/>
<circle cx="229.0" cy="665.8" r="1.0" fill="#7438c0" opacity="0.43"/>
<circle cx="229.9" cy="626.3" r="1.0" fill="#7438c0" opacity="0.34"/>
<circle cx="247.1" cy="639.9" r="0.9" fill="#7438c0" opacity="0.31"/>
<circle cx="248.7" cy="623.4" r="0.6" fill="#7438c0" opacity="0.17"/>
<circle cx="257.3" cy="641.6" r="0.7" fill="#7438c0" opacity="0.27"/>
<circle cx="241.1" cy="669.3" r="1.0" fill="#7438c0" opacity="0.24"/>
<circle cx="239.7" cy="633.2" r="0.8" fill="#7438c0" opacity="0.29"/>
<circle cx="253.9" cy="656.0" r="0.6" fill="#7438c0" opacity="0.47"/>
<circle cx="235.1" cy="646.3" r="1.0" fill="#7438c0" opacity="0.50"/>
<circle cx="238.3" cy="649.4" r="0.6" fill="#7438c0" opacity="0.18"/>
<circle cx="243.6" cy="653.2" r="0.6" fill="#7438c0" opacity="0.24"/>
<circle cx="224.2" cy="634.8" r="0.9" fill="#7438c0" opacity="0.29"/>
<circle cx="230.8" cy="656.6" r="0.7" fill="#7438c0" opacity="0.27"/>
<circle cx="262.1" cy="651.8" r="1.0" fill="#7438c0" opacity="0.19"/>
<circle cx="225.9" cy="645.6" r="1.0" fill="#7438c0" opacity="0.23"/>
<circle cx="246.4" cy="660.0" r="0.7" fill="#7438c0" opacity="0.31"/>
<circle cx="273.2" cy="638.7" r="1.0" fill="#7438c0" opacity="0.16"/>
<circle cx="271.6" cy="650.9" r="1.0" fill="#7438c0" opacity="0.32"/>
<circle cx="248.0" cy="645.9" r="0.7" fill="#7438c0" opacity="0.47"/>
<circle cx="260.2" cy="622.9" r="1.0" fill="#7438c0" opacity="0.24"/>
<circle cx="256.9" cy="653.1" r="0.8" fill="#7438c0" opacity="0.39"/>
<circle cx="270.7" cy="637.5" r="0.8" fill="#7438c0" opacity="0.42"/>
<circle cx="228.1" cy="651.7" r="0.5" fill="#7438c0" opacity="0.42"/>
<circle cx="251.3" cy="673.0" r="0.8" fill="#7438c0" opacity="0.26"/>
<circle cx="258.1" cy="656.3" r="0.8" fill="#7438c0" opacity="0.39"/>
<circle cx="254.0" cy="650.9" r="0.8" fill="#7438c0" opacity="0.35"/>
<circle cx="238.1" cy="654.7" r="0.8" fill="#7438c0" opacity="0.15"/>
<circle cx="242.2" cy="664.3" r="1.0" fill="#7438c0" opacity="0.38"/>
<circle cx="262.8" cy="633.1" r="0.6" fill="#7438c0" opacity="0.24"/>
<circle cx="271.3" cy="640.3" r="0.6" fill="#7438c0" opacity="0.16"/>
<circle cx="225.1" cy="646.3" r="0.7" fill="#7438c0" opacity="0.24"/>
<circle cx="234.8" cy="622.5" r="0.6" fill="#7438c0" opacity="0.16"/>
<circle cx="238.7" cy="661.7" r="0.9" fill="#7438c0" opacity="0.22"/>
<circle cx="255.4" cy="622.9" r="0.8" fill="#7438c0" opacity="0.22"/>
<circle cx="263.8" cy="643.1" r="0.9" fill="#7438c0" opacity="0.23"/>
<circle cx="252.7" cy="670.3" r="0.6" fill="#7438c0" opacity="0.48"/>
<circle cx="236.1" cy="646.4" r="0.6" fill="#7438c0" opacity="0.30"/>
<circle cx="234.3" cy="622.4" r="0.5" fill="#7438c0" opacity="0.29"/>
<circle cx="254.7" cy="673.2" r="0.5" fill="#7438c0" opacity="0.17"/>
<circle cx="264.8" cy="652.6" r="1.0" fill="#7438c0" opacity="0.46"/>
<circle cx="245.2" cy="618.1" r="1.0" fill="#7438c0" opacity="0.27"/>
<circle cx="259.1" cy="671.2" r="0.9" fill="#7438c0" opacity="0.16"/>
<circle cx="239.4" cy="631.2" r="0.7" fill="#7438c0" opacity="0.27"/>
<circle cx="249.0" cy="647.4" r="0.6" fill="#7438c0" opacity="0.27"/>
<circle cx="257.8" cy="643.4" r="1.0" fill="#7438c0" opacity="0.22"/>
<circle cx="232.4" cy="666.2" r="0.9" fill="#7438c0" opacity="0.30"/>
<circle cx="266.8" cy="652.0" r="0.7" fill="#7438c0" opacity="0.47"/>
<circle cx="254.3" cy="662.1" r="1.0" fill="#7438c0" opacity="0.16"/>
<circle cx="226.8" cy="659.6" r="0.9" fill="#7438c0" opacity="0.16"/>
<circle cx="255.2" cy="647.6" r="1.0" fill="#7438c0" opacity="0.24"/>
<circle cx="247.8" cy="619.3" r="0.7" fill="#7438c0" opacity="0.25"/>
<circle cx="269.7" cy="640.3" r="0.6" fill="#7438c0" opacity="0.40"/>
<circle cx="242.3" cy="659.6" r="0.5" fill="#7438c0" opacity="0.41"/>
<circle cx="267.7" cy="634.8" r="1.0" fill="#7438c0" opacity="0.16"/>
<circle cx="250.3" cy="665.5" r="1.0" fill="#7438c0" opacity="0.48"/>
<circle cx="237.6" cy="655.4" r="0.7" fill="#7438c0" opacity="0.32"/>
<circle cx="259.2" cy="640.8" r="0.9" fill="#7438c0" opacity="0.41"/>
<circle cx="259.3" cy="623.8" r="0.8" fill="#7438c0" opacity="0.26"/>
<circle cx="241.1" cy="661.5" r="0.9" fill="#7438c0" opacity="0.18"/>
<circle cx="256.3" cy="669.3" r="0.6" fill="#7438c0" opacity="0.17"/>
<circle cx="268.8" cy="650.5" r="0.6" fill="#7438c0" opacity="0.49"/>
<circle cx="269.2" cy="627.3" r="0.6" fill="#7438c0" opacity="0.18"/>
<circle cx="264.7" cy="657.4" r="0.9" fill="#7438c0" opacity="0.31"/>
<circle cx="250.1" cy="664.2" r="0.8" fill="#7438c0" opacity="0.39"/>
<circle cx="248.0" cy="620.1" r="0.8" fill="#7438c0" opacity="0.19"/>
<circle cx="256.6" cy="633.2" r="0.8" fill="#7438c0" opacity="0.28"/>
<circle cx="247.4" cy="633.5" r="0.6" fill="#7438c0" opacity="0.24"/>
<circle cx="263.4" cy="667.9" r="0.8" fill="#7438c0" opacity="0.26"/>
<circle cx="226.0" cy="663.2" r="0.8" fill="#7438c0" opacity="0.23"/>
<circle cx="256.5" cy="624.8" r="1.0" fill="#7438c0" opacity="0.19"/>
<circle cx="223.1" cy="650.1" r="1.0" fill="#7438c0" opacity="0.47"/>
<circle cx="263.1" cy="649.9" r="0.5" fill="#7438c0" opacity="0.22"/>
<circle cx="269.5" cy="642.5" r="1.0" fill="#7438c0" opacity="0.28"/>
<circle cx="260.9" cy="632.0" r="0.6" fill="#7438c0" opacity="0.42"/>
<circle cx="257.0" cy="643.0" r="0.8" fill="#7438c0" opacity="0.37"/>
<circle cx="251.8" cy="662.9" r="0.5" fill="#7438c0" opacity="0.22"/>
<circle cx="247.6" cy="667.9" r="0.8" fill="#7438c0" opacity="0.22"/>
<circle cx="264.4" cy="647.3" r="0.9" fill="#7438c0" opacity="0.21"/>
<circle cx="243.5" cy="657.9" r="0.9" fill="#7438c0" opacity="0.34"/>
<circle cx="256.6" cy="649.6" r="0.7" fill="#7438c0" opacity="0.34"/>
<circle cx="242.8" cy="639.6" r="0.5" fill="#7438c0" opacity="0.39"/>
<circle cx="235.6" cy="654.2" r="0.6" fill="#7438c0" opacity="0.48"/>
<circle cx="240.2" cy="665.7" r="0.7" fill="#7438c0" opacity="0.30"/>
<circle cx="266.8" cy="624.9" r="0.7" fill="#7438c0" opacity="0.22"/>
<circle cx="246.5" cy="633.5" r="0.5" fill="#7438c0" opacity="0.47"/>
<circle cx="225.6" cy="657.9" r="0.7" fill="#7438c0" opacity="0.46"/>
<circle cx="237.3" cy="648.9" r="0.5" fill="#7438c0" opacity="0.34"/>
<circle cx="231.2" cy="625.3" r="0.5" fill="#7438c0" opacity="0.37"/>
<circle cx="234.5" cy="660.6" r="0.5" fill="#7438c0" opacity="0.25"/>
<circle cx="221.4" cy="642.5" r="0.5" fill="#7438c0" opacity="0.32"/>
<circle cx="257.7" cy="620.0" r="0.6" fill="#7438c0" opacity="0.19"/>
<circle cx="274.4" cy="636.3" r="0.7" fill="#7438c0" opacity="0.17"/>
<circle cx="264.0" cy="638.2" r="1.0" fill="#7438c0" opacity="0.37"/>
<circle cx="253.4" cy="636.0" r="0.9" fill="#7438c0" opacity="0.23"/>
<circle cx="226.9" cy="660.8" r="0.9" fill="#7438c0" opacity="0.21"/>
<circle cx="251.8" cy="663.6" r="0.8" fill="#7438c0" opacity="0.28"/>
<circle cx="258.3" cy="655.9" r="0.9" fill="#7438c0" opacity="0.46"/>
<circle cx="268.8" cy="651.5" r="0.9" fill="#7438c0" opacity="0.16"/>
<circle cx="253.4" cy="637.9" r="0.8" fill="#7438c0" opacity="0.34"/>
<circle cx="237.4" cy="634.9" r="0.7" fill="#7438c0" opacity="0.35"/>
<circle cx="227.8" cy="656.4" r="0.7" fill="#7438c0" opacity="0.30"/>
<circle cx="270.3" cy="649.3" r="0.7" fill="#7438c0" opacity="0.23"/>
<circle cx="250.4" cy="621.3" r="0.7" fill="#7438c0" opacity="0.21"/>
<circle cx="239.2" cy="647.6" r="0.5" fill="#7438c0" opacity="0.30"/>
<circle cx="264.0" cy="656.3" r="0.8" fill="#7438c0" opacity="0.16"/>
<circle cx="243.0" cy="640.0" r="0.9" fill="#7438c0" opacity="0.42"/>
<circle cx="241.7" cy="645.6" r="0.8" fill="#7438c0" opacity="0.28"/>
<circle cx="258.2" cy="642.9" r="1.0" fill="#7438c0" opacity="0.50"/>
<circle cx="245.4" cy="620.8" r="0.6" fill="#7438c0" opacity="0.49"/>
<circle cx="220.7" cy="647.5" r="1.0" fill="#7438c0" opacity="0.21"/>
<circle cx="254.8" cy="619.7" r="0.5" fill="#7438c0" opacity="0.27"/>
<circle cx="248.7" cy="634.9" r="1.0" fill="#7438c0" opacity="0.25"/>
<circle cx="252.6" cy="636.3" r="0.8" fill="#7438c0" opacity="0.47"/>
<circle cx="252.0" cy="660.1" r="0.8" fill="#7438c0" opacity="0.26"/>
<circle cx="260.0" cy="648.9" r="0.5" fill="#7438c0" opacity="0.48"/>
<circle cx="236.9" cy="622.0" r="0.6" fill="#7438c0" opacity="0.42"/>
<circle cx="263.7" cy="659.7" r="0.8" fill="#7438c0" opacity="0.28"/>
<circle cx="263.0" cy="631.0" r="0.8" fill="#7438c0" opacity="0.46"/>
<circle cx="270.6" cy="663.3" r="0.8" fill="#7438c0" opacity="0.29"/>
<circle cx="252.6" cy="632.2" r="1.0" fill="#7438c0" opacity="0.35"/>
<circle cx="232.5" cy="665.1" r="0.7" fill="#7438c0" opacity="0.21"/>
<circle cx="248.1" cy="639.9" r="0.9" fill="#7438c0" opacity="0.24"/>
<circle cx="230.4" cy="624.6" r="0.8" fill="#7438c0" opacity="0.38"/>
<circle cx="247.8" cy="647.2" r="0.5" fill="#7438c0" opacity="0.20"/>
<circle cx="234.5" cy="633.7" r="0.8" fill="#7438c0" opacity="0.46"/>
<circle cx="257.4" cy="656.0" r="0.8" fill="#7438c0" opacity="0.16"/>
<circle cx="265.1" cy="646.4" r="0.5" fill="#7438c0" opacity="0.28"/>
<circle cx="251.8" cy="667.4" r="0.8" fill="#7438c0" opacity="0.22"/>
<circle cx="234.5" cy="632.4" r="0.5" fill="#7438c0" opacity="0.48"/>
<circle cx="248.7" cy="657.0" r="0.5" fill="#7438c0" opacity="0.37"/>
<circle cx="265.5" cy="628.0" r="0.7" fill="#7438c0" opacity="0.24"/>
<circle cx="270.9" cy="647.7" r="0.8" fill="#7438c0" opacity="0.27"/>
<circle cx="236.8" cy="631.2" r="1.0" fill="#7438c0" opacity="0.41"/>
<circle cx="248.6" cy="672.9" r="0.5" fill="#7438c0" opacity="0.34"/>
<circle cx="236.9" cy="653.8" r="0.5" fill="#7438c0" opacity="0.42"/>
<circle cx="269.2" cy="647.7" r="1.0" fill="#7438c0" opacity="0.20"/>
<circle cx="255.2" cy="667.0" r="0.8" fill="#7438c0" opacity="0.37"/>
<circle cx="252.9" cy="635.2" r="0.6" fill="#7438c0" opacity="0.26"/>
<circle cx="273.7" cy="654.1" r="0.9" fill="#7438c0" opacity="0.40"/>
<circle cx="274.2" cy="647.1" r="0.9" fill="#7438c0" opacity="0.31"/>
<circle cx="247.3" cy="627.1" r="0.6" fill="#7438c0" opacity="0.19"/>
<circle cx="248.9" cy="651.6" r="0.7" fill="#7438c0" opacity="0.41"/>
<circle cx="239.5" cy="621.7" r="0.9" fill="#7438c0" opacity="0.24"/>
<circle cx="230.7" cy="639.9" r="0.9" fill="#7438c0" opacity="0.33"/>
<circle cx="246.1" cy="668.6" r="1.0" fill="#7438c0" opacity="0.23"/>
<circle cx="250.8" cy="643.7" r="0.6" fill="#7438c0" opacity="0.23"/>
<circle cx="247.2" cy="618.7" r="0.9" fill="#7438c0" opacity="0.26"/>
<circle cx="260.1" cy="635.0" r="0.6" fill="#7438c0" opacity="0.47"/>
<circle cx="232.3" cy="628.9" r="0.8" fill="#7438c0" opacity="0.49"/>
<circle cx="222.9" cy="651.0" r="0.9" fill="#7438c0" opacity="0.45"/>
<circle cx="226.1" cy="655.3" r="0.8" fill="#7438c0" opacity="0.26"/>
<circle cx="253.6" cy="667.7" r="0.5" fill="#7438c0" opacity="0.47"/>
<circle cx="251.1" cy="649.8" r="0.5" fill="#7438c0" opacity="0.48"/>
<circle cx="242.3" cy="654.9" r="0.5" fill="#7438c0" opacity="0.16"/>
<circle cx="240.4" cy="625.1" r="0.9" fill="#7438c0" opacity="0.41"/>
<circle cx="268.2" cy="654.8" r="0.7" fill="#7438c0" opacity="0.44"/>
<circle cx="259.6" cy="622.0" r="0.5" fill="#7438c0" opacity="0.45"/>
<circle cx="271.1" cy="632.5" r="0.6" fill="#6420b8" opacity="0.59"/>
<circle cx="252.2" cy="649.4" r="1.4" fill="#6420b8" opacity="0.87"/>
<circle cx="231.8" cy="627.5" r="1.0" fill="#6420b8" opacity="0.63"/>
<circle cx="255.2" cy="651.1" r="1.2" fill="#6420b8" opacity="0.59"/>
<circle cx="240.8" cy="662.3" r="0.6" fill="#6420b8" opacity="0.62"/>
<circle cx="243.6" cy="668.8" r="0.7" fill="#6420b8" opacity="0.64"/>
<circle cx="267.2" cy="641.7" r="1.4" fill="#6420b8" opacity="0.78"/>
<circle cx="265.5" cy="649.5" r="0.8" fill="#6420b8" opacity="0.85"/>
<circle cx="235.2" cy="664.9" r="0.9" fill="#6420b8" opacity="0.60"/>
<circle cx="253.6" cy="639.8" r="1.3" fill="#6420b8" opacity="0.58"/>
<circle cx="260.6" cy="646.2" r="1.2" fill="#6420b8" opacity="0.94"/>
<circle cx="267.5" cy="646.6" r="0.9" fill="#6420b8" opacity="0.86"/>
<circle cx="256.0" cy="663.7" r="0.7" fill="#6420b8" opacity="0.87"/>
<circle cx="246.5" cy="672.6" r="0.7" fill="#6420b8" opacity="0.60"/>
<circle cx="242.3" cy="627.8" r="0.6" fill="#6420b8" opacity="0.79"/>
<circle cx="269.5" cy="657.9" r="1.1" fill="#6420b8" opacity="0.85"/>
</g>
<circle cx="248.3" cy="646.1" r="28.3" fill="none" stroke="#6e5a9e" stroke-width="1" stroke-opacity="0.5"/>
<circle cx="306.6" cy="646.1" r="29" fill="url(#dishg)"/>
<g filter="url(#b05)">
<circle cx="294.8" cy="633.9" r="0.7" fill="#7438c0" opacity="0.29"/>
<circle cx="313.0" cy="640.8" r="1.0" fill="#7438c0" opacity="0.16"/>
<circle cx="310.6" cy="660.1" r="1.0" fill="#7438c0" opacity="0.33"/>
<circle cx="287.2" cy="664.5" r="0.6" fill="#7438c0" opacity="0.31"/>
<circle cx="282.4" cy="641.2" r="0.9" fill="#7438c0" opacity="0.38"/>
<circle cx="297.2" cy="659.3" r="0.5" fill="#7438c0" opacity="0.45"/>
<circle cx="293.8" cy="625.3" r="0.6" fill="#7438c0" opacity="0.30"/>
<circle cx="309.8" cy="624.7" r="0.5" fill="#7438c0" opacity="0.31"/>
<circle cx="317.0" cy="636.9" r="0.6" fill="#7438c0" opacity="0.26"/>
<circle cx="299.0" cy="621.1" r="0.5" fill="#7438c0" opacity="0.20"/>
<circle cx="306.8" cy="662.3" r="0.8" fill="#7438c0" opacity="0.21"/>
<circle cx="300.8" cy="657.0" r="1.0" fill="#7438c0" opacity="0.41"/>
<circle cx="329.0" cy="662.7" r="0.5" fill="#7438c0" opacity="0.28"/>
<circle cx="331.8" cy="643.5" r="0.9" fill="#7438c0" opacity="0.30"/>
<circle cx="314.1" cy="667.5" r="0.5" fill="#7438c0" opacity="0.22"/>
<circle cx="302.6" cy="649.5" r="0.7" fill="#7438c0" opacity="0.43"/>
<circle cx="299.6" cy="627.3" r="0.8" fill="#7438c0" opacity="0.31"/>
<circle cx="320.5" cy="663.3" r="0.7" fill="#7438c0" opacity="0.41"/>
<circle cx="322.2" cy="635.9" r="0.8" fill="#7438c0" opacity="0.41"/>
<circle cx="294.6" cy="652.6" r="0.9" fill="#7438c0" opacity="0.46"/>
<circle cx="310.2" cy="622.6" r="1.0" fill="#7438c0" opacity="0.39"/>
<circle cx="294.5" cy="631.2" r="0.6" fill="#7438c0" opacity="0.37"/>
<circle cx="321.6" cy="656.7" r="0.9" fill="#7438c0" opacity="0.40"/>
<circle cx="296.8" cy="635.8" r="0.7" fill="#7438c0" opacity="0.31"/>
<circle cx="293.5" cy="633.5" r="0.9" fill="#7438c0" opacity="0.48"/>
<circle cx="316.0" cy="667.1" r="0.9" fill="#7438c0" opacity="0.29"/>
<circle cx="278.6" cy="647.9" r="0.5" fill="#7438c0" opacity="0.34"/>
<circle cx="320.0" cy="667.4" r="1.0" fill="#7438c0" opacity="0.33"/>
<circle cx="323.9" cy="658.9" r="0.8" fill="#7438c0" opacity="0.40"/>
<circle cx="283.9" cy="644.4" r="0.9" fill="#7438c0" opacity="0.33"/>
<circle cx="283.2" cy="660.9" r="0.6" fill="#7438c0" opacity="0.39"/>
<circle cx="287.2" cy="661.6" r="0.5" fill="#7438c0" opacity="0.49"/>
<circle cx="302.4" cy="651.4" r="0.6" fill="#7438c0" opacity="0.29"/>
<circle cx="324.9" cy="647.6" r="0.7" fill="#7438c0" opacity="0.39"/>
<circle cx="297.8" cy="657.8" r="0.6" fill="#7438c0" opacity="0.41"/>
<circle cx="325.8" cy="638.5" r="0.6" fill="#7438c0" opacity="0.43"/>
<circle cx="296.4" cy="654.3" r="0.5" fill="#7438c0" opacity="0.42"/>
<circle cx="314.9" cy="625.0" r="0.7" fill="#7438c0" opacity="0.35"/>
<circle cx="310.8" cy="673.7" r="0.7" fill="#7438c0" opacity="0.37"/>
<circle cx="317.3" cy="622.8" r="0.7" fill="#7438c0" opacity="0.25"/>
<circle cx="297.0" cy="643.1" r="1.0" fill="#7438c0" opacity="0.27"/>
<circle cx="315.3" cy="634.2" r="0.7" fill="#7438c0" opacity="0.24"/>
<circle cx="295.6" cy="651.6" r="0.5" fill="#7438c0" opacity="0.40"/>
<circle cx="303.9" cy="659.9" r="0.6" fill="#7438c0" opacity="0.32"/>
<circle cx="286.2" cy="656.0" r="0.8" fill="#7438c0" opacity="0.28"/>
<circle cx="330.3" cy="634.7" r="0.5" fill="#7438c0" opacity="0.44"/>
<circle cx="327.5" cy="632.1" r="0.5" fill="#7438c0" opacity="0.44"/>
<circle cx="304.3" cy="643.5" r="0.5" fill="#7438c0" opacity="0.48"/>
<circle cx="298.7" cy="634.3" r="0.5" fill="#7438c0" opacity="0.20"/>
<circle cx="309.2" cy="671.0" r="0.7" fill="#7438c0" opacity="0.20"/>
<circle cx="327.4" cy="631.8" r="0.6" fill="#7438c0" opacity="0.46"/>
<circle cx="287.1" cy="630.3" r="0.9" fill="#7438c0" opacity="0.46"/>
<circle cx="312.8" cy="620.8" r="0.6" fill="#7438c0" opacity="0.39"/>
<circle cx="282.6" cy="641.4" r="0.7" fill="#7438c0" opacity="0.46"/>
<circle cx="292.8" cy="641.1" r="0.6" fill="#7438c0" opacity="0.20"/>
<circle cx="299.7" cy="646.4" r="0.7" fill="#7438c0" opacity="0.20"/>
<circle cx="286.6" cy="647.2" r="0.8" fill="#7438c0" opacity="0.45"/>
<circle cx="332.6" cy="647.2" r="0.7" fill="#7438c0" opacity="0.35"/>
<circle cx="293.4" cy="623.6" r="0.7" fill="#7438c0" opacity="0.30"/>
<circle cx="314.2" cy="644.2" r="0.8" fill="#7438c0" opacity="0.37"/>
<circle cx="328.4" cy="650.1" r="0.9" fill="#7438c0" opacity="0.48"/>
<circle cx="293.0" cy="670.7" r="0.8" fill="#7438c0" opacity="0.32"/>
<circle cx="310.8" cy="643.0" r="0.9" fill="#7438c0" opacity="0.37"/>
<circle cx="292.7" cy="668.5" r="0.7" fill="#7438c0" opacity="0.32"/>
<circle cx="282.0" cy="642.1" r="0.6" fill="#7438c0" opacity="0.30"/>
<circle cx="287.9" cy="656.0" r="0.9" fill="#7438c0" opacity="0.25"/>
<circle cx="315.1" cy="630.2" r="0.8" fill="#7438c0" opacity="0.25"/>
<circle cx="278.6" cy="645.0" r="0.8" fill="#7438c0" opacity="0.43"/>
<circle cx="298.8" cy="660.1" r="0.6" fill="#7438c0" opacity="0.36"/>
<circle cx="289.9" cy="627.2" r="0.5" fill="#7438c0" opacity="0.40"/>
<circle cx="322.4" cy="632.3" r="0.5" fill="#7438c0" opacity="0.26"/>
<circle cx="319.0" cy="646.6" r="1.0" fill="#7438c0" opacity="0.36"/>
<circle cx="292.8" cy="625.0" r="1.0" fill="#7438c0" opacity="0.36"/>
<circle cx="289.9" cy="631.0" r="0.9" fill="#7438c0" opacity="0.36"/>
<circle cx="301.1" cy="634.2" r="0.9" fill="#7438c0" opacity="0.31"/>
<circle cx="307.3" cy="637.1" r="0.6" fill="#7438c0" opacity="0.16"/>
<circle cx="310.8" cy="619.3" r="0.8" fill="#7438c0" opacity="0.28"/>
<circle cx="317.7" cy="623.5" r="0.8" fill="#7438c0" opacity="0.24"/>
<circle cx="300.7" cy="663.6" r="0.6" fill="#7438c0" opacity="0.30"/>
<circle cx="289.3" cy="624.7" r="0.5" fill="#7438c0" opacity="0.35"/>
<circle cx="316.1" cy="648.5" r="0.9" fill="#7438c0" opacity="0.35"/>
<circle cx="323.2" cy="636.8" r="0.5" fill="#7438c0" opacity="0.29"/>
<circle cx="283.5" cy="631.1" r="1.0" fill="#7438c0" opacity="0.32"/>
<circle cx="298.9" cy="650.8" r="0.8" fill="#7438c0" opacity="0.22"/>
<circle cx="308.6" cy="649.0" r="0.5" fill="#7438c0" opacity="0.39"/>
<circle cx="326.8" cy="665.4" r="0.5" fill="#7438c0" opacity="0.45"/>
<circle cx="309.2" cy="648.8" r="0.9" fill="#7438c0" opacity="0.23"/>
<circle cx="305.3" cy="633.9" r="0.5" fill="#7438c0" opacity="0.42"/>
<circle cx="300.6" cy="620.5" r="0.9" fill="#7438c0" opacity="0.18"/>
<circle cx="290.1" cy="628.8" r="0.7" fill="#7438c0" opacity="0.48"/>
<circle cx="305.9" cy="674.0" r="0.9" fill="#7438c0" opacity="0.15"/>
<circle cx="329.4" cy="648.2" r="0.9" fill="#7438c0" opacity="0.18"/>
<circle cx="297.5" cy="668.6" r="0.5" fill="#7438c0" opacity="0.45"/>
<circle cx="299.7" cy="646.7" r="0.7" fill="#7438c0" opacity="0.35"/>
<circle cx="284.9" cy="654.9" r="0.5" fill="#7438c0" opacity="0.43"/>
<circle cx="291.7" cy="663.4" r="0.8" fill="#7438c0" opacity="0.30"/>
<circle cx="287.6" cy="662.7" r="1.0" fill="#7438c0" opacity="0.42"/>
<circle cx="292.6" cy="639.8" r="0.5" fill="#7438c0" opacity="0.49"/>
<circle cx="299.1" cy="621.4" r="0.6" fill="#7438c0" opacity="0.36"/>
<circle cx="332.3" cy="642.4" r="0.8" fill="#7438c0" opacity="0.26"/>
<circle cx="282.5" cy="657.7" r="0.7" fill="#7438c0" opacity="0.39"/>
<circle cx="285.0" cy="630.0" r="0.9" fill="#7438c0" opacity="0.25"/>
<circle cx="321.2" cy="646.3" r="0.7" fill="#7438c0" opacity="0.36"/>
<circle cx="317.4" cy="621.6" r="0.5" fill="#7438c0" opacity="0.44"/>
<circle cx="316.6" cy="621.6" r="0.8" fill="#7438c0" opacity="0.25"/>
<circle cx="321.8" cy="625.6" r="0.9" fill="#7438c0" opacity="0.47"/>
<circle cx="301.9" cy="652.9" r="0.8" fill="#7438c0" opacity="0.43"/>
<circle cx="314.1" cy="669.5" r="1.0" fill="#7438c0" opacity="0.23"/>
<circle cx="288.3" cy="631.5" r="0.7" fill="#7438c0" opacity="0.22"/>
<circle cx="305.9" cy="670.7" r="0.9" fill="#7438c0" opacity="0.31"/>
<circle cx="328.3" cy="659.5" r="0.9" fill="#7438c0" opacity="0.23"/>
<circle cx="283.0" cy="633.2" r="1.0" fill="#7438c0" opacity="0.33"/>
<circle cx="285.0" cy="649.3" r="0.6" fill="#7438c0" opacity="0.22"/>
<circle cx="316.6" cy="667.7" r="0.7" fill="#7438c0" opacity="0.35"/>
<circle cx="289.9" cy="657.9" r="0.5" fill="#7438c0" opacity="0.17"/>
<circle cx="324.0" cy="645.8" r="0.5" fill="#7438c0" opacity="0.37"/>
<circle cx="309.2" cy="635.2" r="0.8" fill="#7438c0" opacity="0.27"/>
<circle cx="302.6" cy="645.6" r="0.5" fill="#7438c0" opacity="0.50"/>
<circle cx="319.8" cy="631.3" r="0.8" fill="#7438c0" opacity="0.24"/>
<circle cx="310.0" cy="627.9" r="1.0" fill="#7438c0" opacity="0.42"/>
<circle cx="318.3" cy="620.8" r="0.6" fill="#7438c0" opacity="0.16"/>
<circle cx="310.3" cy="657.6" r="0.5" fill="#7438c0" opacity="0.17"/>
<circle cx="281.8" cy="636.7" r="0.7" fill="#7438c0" opacity="0.48"/>
<circle cx="312.7" cy="642.2" r="0.8" fill="#7438c0" opacity="0.29"/>
<circle cx="326.9" cy="665.1" r="0.6" fill="#7438c0" opacity="0.35"/>
<circle cx="289.0" cy="624.6" r="0.9" fill="#7438c0" opacity="0.29"/>
<circle cx="295.8" cy="649.7" r="1.0" fill="#7438c0" opacity="0.50"/>
<circle cx="307.6" cy="651.6" r="0.6" fill="#7438c0" opacity="0.27"/>
<circle cx="328.7" cy="630.6" r="1.0" fill="#7438c0" opacity="0.17"/>
<circle cx="312.0" cy="622.8" r="0.8" fill="#7438c0" opacity="0.49"/>
<circle cx="316.8" cy="649.8" r="0.9" fill="#7438c0" opacity="0.48"/>
<circle cx="299.7" cy="632.2" r="0.8" fill="#7438c0" opacity="0.42"/>
<circle cx="319.4" cy="656.0" r="0.6" fill="#7438c0" opacity="0.19"/>
<circle cx="295.0" cy="647.5" r="0.6" fill="#7438c0" opacity="0.20"/>
<circle cx="305.2" cy="643.2" r="0.9" fill="#7438c0" opacity="0.22"/>
<circle cx="333.3" cy="652.2" r="0.6" fill="#7438c0" opacity="0.48"/>
<circle cx="324.5" cy="626.2" r="0.5" fill="#7438c0" opacity="0.31"/>
<circle cx="329.1" cy="661.8" r="1.0" fill="#7438c0" opacity="0.37"/>
<circle cx="290.8" cy="651.0" r="0.9" fill="#7438c0" opacity="0.32"/>
<circle cx="299.2" cy="638.4" r="0.6" fill="#7438c0" opacity="0.17"/>
<circle cx="301.8" cy="625.5" r="0.5" fill="#7438c0" opacity="0.45"/>
<circle cx="304.7" cy="664.2" r="0.5" fill="#7438c0" opacity="0.24"/>
<circle cx="315.4" cy="632.2" r="0.6" fill="#7438c0" opacity="0.32"/>
<circle cx="295.4" cy="670.7" r="0.5" fill="#7438c0" opacity="0.49"/>
<circle cx="331.8" cy="655.5" r="0.9" fill="#7438c0" opacity="0.22"/>
<circle cx="291.5" cy="648.2" r="0.6" fill="#7438c0" opacity="0.22"/>
<circle cx="288.0" cy="667.4" r="1.0" fill="#7438c0" opacity="0.47"/>
<circle cx="319.1" cy="654.9" r="1.0" fill="#7438c0" opacity="0.17"/>
<circle cx="304.3" cy="630.9" r="1.0" fill="#7438c0" opacity="0.16"/>
<circle cx="312.4" cy="630.6" r="0.5" fill="#7438c0" opacity="0.15"/>
<circle cx="316.8" cy="628.2" r="0.6" fill="#7438c0" opacity="0.30"/>
<circle cx="317.9" cy="639.1" r="0.8" fill="#7438c0" opacity="0.20"/>
<circle cx="317.2" cy="668.7" r="0.9" fill="#7438c0" opacity="0.22"/>
<circle cx="314.0" cy="650.1" r="0.8" fill="#7438c0" opacity="0.32"/>
<circle cx="304.7" cy="658.9" r="0.8" fill="#7438c0" opacity="0.40"/>
<circle cx="314.8" cy="626.0" r="0.6" fill="#7438c0" opacity="0.17"/>
<circle cx="304.6" cy="628.1" r="0.9" fill="#7438c0" opacity="0.17"/>
<circle cx="312.7" cy="630.8" r="1.0" fill="#7438c0" opacity="0.45"/>
<circle cx="303.1" cy="646.3" r="1.0" fill="#7438c0" opacity="0.32"/>
<circle cx="316.8" cy="635.5" r="0.6" fill="#7438c0" opacity="0.44"/>
<circle cx="298.9" cy="654.6" r="0.7" fill="#7438c0" opacity="0.36"/>
<circle cx="327.1" cy="646.7" r="0.7" fill="#7438c0" opacity="0.33"/>
<circle cx="324.0" cy="662.6" r="0.9" fill="#7438c0" opacity="0.45"/>
<circle cx="296.3" cy="667.7" r="0.7" fill="#7438c0" opacity="0.41"/>
<circle cx="331.2" cy="656.1" r="1.0" fill="#7438c0" opacity="0.32"/>
<circle cx="286.0" cy="644.4" r="0.8" fill="#7438c0" opacity="0.16"/>
<circle cx="319.8" cy="643.4" r="0.6" fill="#7438c0" opacity="0.19"/>
<circle cx="306.5" cy="671.8" r="0.5" fill="#7438c0" opacity="0.18"/>
<circle cx="302.6" cy="634.2" r="0.5" fill="#7438c0" opacity="0.36"/>
<circle cx="288.4" cy="636.6" r="0.9" fill="#7438c0" opacity="0.19"/>
<circle cx="323.0" cy="628.5" r="0.5" fill="#7438c0" opacity="0.19"/>
<circle cx="286.5" cy="646.9" r="0.6" fill="#7438c0" opacity="0.19"/>
<circle cx="297.9" cy="652.0" r="0.8" fill="#7438c0" opacity="0.45"/>
<circle cx="319.5" cy="663.3" r="0.9" fill="#7438c0" opacity="0.21"/>
<circle cx="319.2" cy="621.7" r="0.7" fill="#7438c0" opacity="0.30"/>
<circle cx="317.6" cy="628.7" r="0.7" fill="#7438c0" opacity="0.48"/>
<circle cx="309.4" cy="629.8" r="0.6" fill="#7438c0" opacity="0.27"/>
<circle cx="280.7" cy="657.2" r="0.9" fill="#7438c0" opacity="0.47"/>
<circle cx="317.0" cy="622.1" r="0.5" fill="#7438c0" opacity="0.33"/>
<circle cx="333.1" cy="638.9" r="0.6" fill="#7438c0" opacity="0.30"/>
<circle cx="295.1" cy="633.4" r="0.8" fill="#7438c0" opacity="0.17"/>
<circle cx="288.2" cy="654.3" r="0.5" fill="#7438c0" opacity="0.20"/>
<circle cx="331.2" cy="641.4" r="1.0" fill="#7438c0" opacity="0.37"/>
<circle cx="316.3" cy="621.2" r="1.0" fill="#7438c0" opacity="0.16"/>
<circle cx="297.4" cy="634.7" r="0.9" fill="#7438c0" opacity="0.25"/>
<circle cx="280.2" cy="638.9" r="0.8" fill="#7438c0" opacity="0.24"/>
<circle cx="288.0" cy="643.7" r="1.0" fill="#7438c0" opacity="0.25"/>
<circle cx="298.8" cy="667.6" r="0.5" fill="#7438c0" opacity="0.36"/>
<circle cx="326.2" cy="640.6" r="0.6" fill="#7438c0" opacity="0.31"/>
<circle cx="295.9" cy="643.8" r="0.5" fill="#7438c0" opacity="0.20"/>
<circle cx="301.7" cy="663.5" r="0.6" fill="#7438c0" opacity="0.24"/>
<circle cx="324.5" cy="657.1" r="1.0" fill="#7438c0" opacity="0.36"/>
<circle cx="285.9" cy="636.3" r="0.6" fill="#7438c0" opacity="0.40"/>
<circle cx="286.2" cy="651.2" r="0.8" fill="#7438c0" opacity="0.31"/>
<circle cx="301.4" cy="659.1" r="0.6" fill="#7438c0" opacity="0.33"/>
<circle cx="290.5" cy="660.7" r="0.5" fill="#7438c0" opacity="0.27"/>
<circle cx="315.6" cy="635.5" r="0.8" fill="#7438c0" opacity="0.32"/>
<circle cx="300.5" cy="673.7" r="0.6" fill="#7438c0" opacity="0.42"/>
<circle cx="310.6" cy="652.3" r="1.0" fill="#7438c0" opacity="0.30"/>
<circle cx="323.0" cy="652.8" r="0.7" fill="#7438c0" opacity="0.41"/>
<circle cx="317.0" cy="654.6" r="1.0" fill="#7438c0" opacity="0.41"/>
<circle cx="315.9" cy="659.7" r="0.7" fill="#7438c0" opacity="0.39"/>
<circle cx="287.1" cy="628.6" r="0.9" fill="#7438c0" opacity="0.33"/>
<circle cx="304.9" cy="621.7" r="0.9" fill="#7438c0" opacity="0.32"/>
<circle cx="311.8" cy="622.8" r="1.0" fill="#7438c0" opacity="0.19"/>
<circle cx="307.9" cy="644.7" r="0.9" fill="#7438c0" opacity="0.36"/>
<circle cx="278.7" cy="646.5" r="0.8" fill="#7438c0" opacity="0.30"/>
<circle cx="312.2" cy="620.1" r="0.8" fill="#7438c0" opacity="0.28"/>
<circle cx="288.2" cy="651.8" r="0.9" fill="#7438c0" opacity="0.25"/>
<circle cx="290.2" cy="659.5" r="0.7" fill="#7438c0" opacity="0.26"/>
<circle cx="312.6" cy="620.6" r="0.7" fill="#7438c0" opacity="0.31"/>
<circle cx="312.9" cy="660.5" r="0.5" fill="#7438c0" opacity="0.35"/>
<circle cx="299.3" cy="642.0" r="1.0" fill="#7438c0" opacity="0.26"/>
<circle cx="321.0" cy="624.4" r="1.0" fill="#7438c0" opacity="0.22"/>
<circle cx="282.3" cy="658.2" r="0.5" fill="#7438c0" opacity="0.17"/>
<circle cx="288.2" cy="638.1" r="1.0" fill="#7438c0" opacity="0.42"/>
<circle cx="279.0" cy="639.3" r="0.8" fill="#7438c0" opacity="0.33"/>
<circle cx="299.6" cy="629.8" r="0.7" fill="#7438c0" opacity="0.36"/>
<circle cx="290.2" cy="668.4" r="0.9" fill="#7438c0" opacity="0.33"/>
<circle cx="320.7" cy="656.2" r="0.7" fill="#7438c0" opacity="0.35"/>
<circle cx="282.8" cy="634.1" r="1.0" fill="#7438c0" opacity="0.32"/>
<circle cx="285.7" cy="654.3" r="1.0" fill="#7438c0" opacity="0.27"/>
<circle cx="281.4" cy="641.3" r="0.6" fill="#7438c0" opacity="0.26"/>
<circle cx="332.2" cy="642.6" r="0.8" fill="#7438c0" opacity="0.19"/>
<circle cx="325.2" cy="631.6" r="0.9" fill="#7438c0" opacity="0.50"/>
<circle cx="320.7" cy="634.2" r="0.5" fill="#7438c0" opacity="0.25"/>
<circle cx="286.5" cy="644.6" r="0.6" fill="#7438c0" opacity="0.21"/>
<circle cx="291.5" cy="630.0" r="0.7" fill="#7438c0" opacity="0.50"/>
<circle cx="302.8" cy="641.7" r="0.7" fill="#7438c0" opacity="0.43"/>
<circle cx="298.4" cy="668.2" r="0.5" fill="#7438c0" opacity="0.26"/>
<circle cx="318.5" cy="627.9" r="0.9" fill="#7438c0" opacity="0.22"/>
<circle cx="285.5" cy="646.4" r="0.6" fill="#7438c0" opacity="0.38"/>
<circle cx="278.8" cy="640.5" r="0.8" fill="#7438c0" opacity="0.29"/>
<circle cx="314.7" cy="653.9" r="0.9" fill="#7438c0" opacity="0.19"/>
<circle cx="316.1" cy="653.0" r="0.8" fill="#7438c0" opacity="0.44"/>
<circle cx="287.2" cy="629.5" r="0.5" fill="#7438c0" opacity="0.15"/>
<circle cx="308.7" cy="630.1" r="0.9" fill="#7438c0" opacity="0.27"/>
<circle cx="313.7" cy="658.9" r="0.5" fill="#7438c0" opacity="0.47"/>
<circle cx="292.0" cy="637.8" r="0.7" fill="#7438c0" opacity="0.28"/>
<circle cx="331.9" cy="655.1" r="0.8" fill="#7438c0" opacity="0.49"/>
<circle cx="285.8" cy="654.4" r="0.6" fill="#7438c0" opacity="0.17"/>
<circle cx="330.4" cy="635.0" r="0.6" fill="#7438c0" opacity="0.46"/>
<circle cx="312.9" cy="631.8" r="0.8" fill="#7438c0" opacity="0.49"/>
<circle cx="278.9" cy="646.9" r="0.6" fill="#7438c0" opacity="0.29"/>
<circle cx="304.0" cy="633.0" r="0.6" fill="#7438c0" opacity="0.46"/>
<circle cx="281.4" cy="648.6" r="0.6" fill="#7438c0" opacity="0.21"/>
<circle cx="298.9" cy="655.6" r="1.0" fill="#7438c0" opacity="0.25"/>
<circle cx="297.7" cy="642.5" r="0.8" fill="#7438c0" opacity="0.28"/>
<circle cx="300.6" cy="650.3" r="0.5" fill="#7438c0" opacity="0.44"/>
<circle cx="298.2" cy="657.4" r="0.6" fill="#7438c0" opacity="0.25"/>
<circle cx="307.0" cy="651.4" r="0.8" fill="#7438c0" opacity="0.27"/>
<circle cx="319.9" cy="665.9" r="0.5" fill="#7438c0" opacity="0.24"/>
<circle cx="311.8" cy="637.4" r="0.7" fill="#7438c0" opacity="0.44"/>
<circle cx="310.4" cy="635.4" r="0.7" fill="#7438c0" opacity="0.40"/>
<circle cx="286.7" cy="665.5" r="0.6" fill="#7438c0" opacity="0.48"/>
<circle cx="293.1" cy="645.7" r="0.7" fill="#7438c0" opacity="0.20"/>
<circle cx="302.7" cy="632.1" r="1.0" fill="#7438c0" opacity="0.36"/>
<circle cx="297.1" cy="656.5" r="0.8" fill="#7438c0" opacity="0.22"/>
<circle cx="313.5" cy="638.9" r="0.8" fill="#7438c0" opacity="0.34"/>
<circle cx="303.4" cy="670.9" r="0.7" fill="#7438c0" opacity="0.38"/>
<circle cx="292.2" cy="639.6" r="0.7" fill="#7438c0" opacity="0.18"/>
<circle cx="318.2" cy="669.6" r="0.6" fill="#7438c0" opacity="0.38"/>
<circle cx="323.1" cy="659.6" r="0.7" fill="#7438c0" opacity="0.33"/>
<circle cx="304.5" cy="653.1" r="0.6" fill="#7438c0" opacity="0.23"/>
<circle cx="323.5" cy="663.2" r="0.6" fill="#7438c0" opacity="0.29"/>
<circle cx="327.6" cy="632.6" r="1.0" fill="#7438c0" opacity="0.45"/>
<circle cx="316.7" cy="657.1" r="0.5" fill="#7438c0" opacity="0.39"/>
<circle cx="297.9" cy="631.7" r="0.7" fill="#7438c0" opacity="0.38"/>
<circle cx="302.2" cy="632.6" r="1.0" fill="#7438c0" opacity="0.27"/>
<circle cx="298.2" cy="637.3" r="0.5" fill="#7438c0" opacity="0.47"/>
<circle cx="304.2" cy="622.2" r="0.5" fill="#7438c0" opacity="0.16"/>
<circle cx="313.2" cy="656.9" r="0.6" fill="#7438c0" opacity="0.28"/>
<circle cx="322.0" cy="650.0" r="0.8" fill="#7438c0" opacity="0.21"/>
<circle cx="318.0" cy="627.9" r="0.9" fill="#7438c0" opacity="0.24"/>
<circle cx="285.0" cy="655.4" r="0.7" fill="#7438c0" opacity="0.15"/>
<circle cx="319.2" cy="624.5" r="0.6" fill="#7438c0" opacity="0.17"/>
<circle cx="320.1" cy="628.5" r="0.5" fill="#7438c0" opacity="0.24"/>
<circle cx="326.0" cy="662.4" r="0.6" fill="#7438c0" opacity="0.47"/>
<circle cx="306.6" cy="637.8" r="0.9" fill="#7438c0" opacity="0.29"/>
<circle cx="306.2" cy="620.2" r="0.6" fill="#7438c0" opacity="0.18"/>
<circle cx="324.1" cy="640.0" r="1.0" fill="#7438c0" opacity="0.39"/>
<circle cx="304.7" cy="620.3" r="0.8" fill="#7438c0" opacity="0.31"/>
<circle cx="329.0" cy="654.0" r="0.7" fill="#7438c0" opacity="0.33"/>
<circle cx="315.7" cy="641.7" r="0.9" fill="#7438c0" opacity="0.17"/>
<circle cx="299.1" cy="621.7" r="0.6" fill="#7438c0" opacity="0.34"/>
<circle cx="328.9" cy="641.8" r="0.8" fill="#7438c0" opacity="0.24"/>
<circle cx="322.4" cy="652.3" r="0.7" fill="#7438c0" opacity="0.22"/>
<circle cx="302.7" cy="655.9" r="0.9" fill="#7438c0" opacity="0.38"/>
<circle cx="307.7" cy="660.0" r="0.8" fill="#7438c0" opacity="0.31"/>
<circle cx="322.1" cy="639.5" r="0.6" fill="#7438c0" opacity="0.46"/>
<circle cx="320.0" cy="662.7" r="0.7" fill="#7438c0" opacity="0.44"/>
<circle cx="282.9" cy="638.7" r="0.6" fill="#7438c0" opacity="0.38"/>
<circle cx="290.9" cy="634.9" r="0.9" fill="#7438c0" opacity="0.44"/>
<circle cx="318.1" cy="656.2" r="0.7" fill="#7438c0" opacity="0.22"/>
<circle cx="320.6" cy="651.7" r="0.6" fill="#7438c0" opacity="0.40"/>
<circle cx="297.6" cy="649.2" r="0.6" fill="#7438c0" opacity="0.31"/>
<circle cx="299.0" cy="654.9" r="0.5" fill="#7438c0" opacity="0.15"/>
<circle cx="331.2" cy="644.9" r="0.5" fill="#7438c0" opacity="0.40"/>
<circle cx="327.8" cy="643.5" r="0.5" fill="#7438c0" opacity="0.32"/>
<circle cx="295.3" cy="651.1" r="0.8" fill="#7438c0" opacity="0.15"/>
<circle cx="326.6" cy="635.1" r="0.8" fill="#7438c0" opacity="0.48"/>
<circle cx="298.4" cy="634.4" r="0.6" fill="#7438c0" opacity="0.20"/>
<circle cx="331.2" cy="650.4" r="1.0" fill="#7438c0" opacity="0.25"/>
<circle cx="315.5" cy="667.0" r="1.0" fill="#7438c0" opacity="0.47"/>
<circle cx="318.9" cy="668.0" r="0.9" fill="#7438c0" opacity="0.41"/>
<circle cx="300.9" cy="656.9" r="0.9" fill="#7438c0" opacity="0.26"/>
<circle cx="292.3" cy="661.6" r="0.7" fill="#7438c0" opacity="0.44"/>
<circle cx="307.0" cy="651.9" r="0.8" fill="#7438c0" opacity="0.37"/>
<circle cx="316.7" cy="624.5" r="1.0" fill="#7438c0" opacity="0.48"/>
<circle cx="286.5" cy="646.8" r="0.5" fill="#7438c0" opacity="0.25"/>
<circle cx="299.6" cy="642.2" r="0.9" fill="#7438c0" opacity="0.21"/>
<circle cx="280.4" cy="655.9" r="0.5" fill="#7438c0" opacity="0.16"/>
<circle cx="295.1" cy="650.7" r="0.9" fill="#7438c0" opacity="0.15"/>
<circle cx="320.8" cy="624.0" r="0.9" fill="#7438c0" opacity="0.30"/>
<circle cx="301.8" cy="668.7" r="0.8" fill="#7438c0" opacity="0.30"/>
<circle cx="296.6" cy="662.1" r="0.8" fill="#7438c0" opacity="0.44"/>
<circle cx="316.1" cy="639.6" r="0.6" fill="#7438c0" opacity="0.31"/>
<circle cx="291.1" cy="639.6" r="0.6" fill="#7438c0" opacity="0.18"/>
<circle cx="298.0" cy="663.4" r="1.0" fill="#7438c0" opacity="0.47"/>
<circle cx="325.2" cy="625.1" r="1.0" fill="#7438c0" opacity="0.37"/>
<circle cx="309.1" cy="639.8" r="1.1" fill="#6420b8" opacity="0.77"/>
<circle cx="300.5" cy="666.0" r="1.6" fill="#6420b8" opacity="0.72"/>
<circle cx="297.5" cy="634.1" r="0.7" fill="#6420b8" opacity="0.90"/>
<circle cx="318.4" cy="648.2" r="1.1" fill="#6420b8" opacity="0.70"/>
<circle cx="325.9" cy="657.5" r="0.8" fill="#6420b8" opacity="0.76"/>
<circle cx="289.2" cy="656.2" r="1.0" fill="#6420b8" opacity="0.68"/>
<circle cx="315.4" cy="653.8" r="1.5" fill="#6420b8" opacity="0.75"/>
<circle cx="326.1" cy="662.7" r="0.7" fill="#6420b8" opacity="0.54"/>
<circle cx="293.0" cy="643.4" r="0.9" fill="#6420b8" opacity="0.75"/>
<circle cx="309.7" cy="666.7" r="0.6" fill="#6420b8" opacity="0.73"/>
<circle cx="300.0" cy="642.0" r="0.8" fill="#6420b8" opacity="0.53"/>
<circle cx="282.8" cy="655.6" r="0.9" fill="#6420b8" opacity="0.82"/>
</g>
<circle cx="306.6" cy="646.1" r="28.5" fill="none" stroke="#6e5a9e" stroke-width="1" stroke-opacity="0.5"/>
<circle cx="248.1" cy="705" r="28.8" fill="url(#dishg)"/>
<g filter="url(#b05)">
<circle cx="248.5" cy="695.5" r="1.0" fill="#7438c0" opacity="0.40"/>
<circle cx="268.7" cy="720.4" r="0.7" fill="#7438c0" opacity="0.21"/>
<circle cx="268.6" cy="699.7" r="0.9" fill="#7438c0" opacity="0.20"/>
<circle cx="249.2" cy="698.3" r="0.6" fill="#7438c0" opacity="0.28"/>
<circle cx="269.8" cy="707.1" r="0.6" fill="#7438c0" opacity="0.25"/>
<circle cx="243.2" cy="687.2" r="1.0" fill="#7438c0" opacity="0.37"/>
<circle cx="262.8" cy="689.8" r="1.0" fill="#7438c0" opacity="0.45"/>
<circle cx="260.1" cy="726.2" r="0.7" fill="#7438c0" opacity="0.42"/>
<circle cx="237.3" cy="681.8" r="0.5" fill="#7438c0" opacity="0.28"/>
<circle cx="245.9" cy="677.6" r="0.9" fill="#7438c0" opacity="0.17"/>
<circle cx="241.0" cy="699.6" r="0.8" fill="#7438c0" opacity="0.43"/>
<circle cx="268.7" cy="722.7" r="0.9" fill="#7438c0" opacity="0.24"/>
<circle cx="254.7" cy="722.7" r="1.0" fill="#7438c0" opacity="0.35"/>
<circle cx="251.2" cy="707.7" r="0.5" fill="#7438c0" opacity="0.43"/>
<circle cx="256.4" cy="724.3" r="0.6" fill="#7438c0" opacity="0.39"/>
<circle cx="240.2" cy="712.3" r="1.0" fill="#7438c0" opacity="0.34"/>
<circle cx="238.7" cy="681.4" r="1.0" fill="#7438c0" opacity="0.15"/>
<circle cx="242.1" cy="714.2" r="0.8" fill="#7438c0" opacity="0.46"/>
<circle cx="249.8" cy="700.0" r="0.6" fill="#7438c0" opacity="0.44"/>
<circle cx="240.5" cy="689.0" r="0.7" fill="#7438c0" opacity="0.21"/>
<circle cx="258.1" cy="690.4" r="1.0" fill="#7438c0" opacity="0.36"/>
<circle cx="262.5" cy="712.4" r="0.6" fill="#7438c0" opacity="0.46"/>
<circle cx="243.1" cy="701.9" r="0.6" fill="#7438c0" opacity="0.28"/>
<circle cx="227.1" cy="709.3" r="0.7" fill="#7438c0" opacity="0.27"/>
<circle cx="269.6" cy="705.8" r="0.7" fill="#7438c0" opacity="0.16"/>
<circle cx="221.0" cy="712.1" r="0.5" fill="#7438c0" opacity="0.20"/>
<circle cx="241.1" cy="692.0" r="0.6" fill="#7438c0" opacity="0.33"/>
<circle cx="246.5" cy="726.2" r="0.8" fill="#7438c0" opacity="0.48"/>
<circle cx="253.3" cy="704.7" r="0.8" fill="#7438c0" opacity="0.42"/>
<circle cx="265.4" cy="687.2" r="0.8" fill="#7438c0" opacity="0.37"/>
<circle cx="238.3" cy="716.4" r="0.9" fill="#7438c0" opacity="0.46"/>
<circle cx="269.7" cy="696.2" r="0.6" fill="#7438c0" opacity="0.42"/>
<circle cx="246.8" cy="684.9" r="0.8" fill="#7438c0" opacity="0.27"/>
<circle cx="231.0" cy="699.4" r="0.5" fill="#7438c0" opacity="0.27"/>
<circle cx="235.6" cy="730.1" r="0.7" fill="#7438c0" opacity="0.28"/>
<circle cx="248.7" cy="718.7" r="0.7" fill="#7438c0" opacity="0.20"/>
<circle cx="274.4" cy="706.2" r="0.7" fill="#7438c0" opacity="0.31"/>
<circle cx="234.0" cy="698.5" r="0.6" fill="#7438c0" opacity="0.17"/>
<circle cx="243.1" cy="719.9" r="0.9" fill="#7438c0" opacity="0.34"/>
<circle cx="263.3" cy="698.7" r="1.0" fill="#7438c0" opacity="0.35"/>
<circle cx="258.6" cy="710.8" r="0.8" fill="#7438c0" opacity="0.50"/>
<circle cx="232.6" cy="724.4" r="0.7" fill="#7438c0" opacity="0.45"/>
<circle cx="266.0" cy="713.1" r="1.0" fill="#7438c0" opacity="0.25"/>
<circle cx="247.9" cy="709.3" r="0.5" fill="#7438c0" opacity="0.24"/>
<circle cx="244.4" cy="692.4" r="0.7" fill="#7438c0" opacity="0.22"/>
<circle cx="227.2" cy="689.2" r="0.8" fill="#7438c0" opacity="0.22"/>
<circle cx="245.3" cy="677.4" r="0.8" fill="#7438c0" opacity="0.18"/>
<circle cx="257.7" cy="680.4" r="0.7" fill="#7438c0" opacity="0.20"/>
<circle cx="255.9" cy="724.1" r="1.0" fill="#7438c0" opacity="0.37"/>
<circle cx="259.6" cy="698.9" r="0.6" fill="#7438c0" opacity="0.41"/>
<circle cx="237.4" cy="690.5" r="0.9" fill="#7438c0" opacity="0.27"/>
<circle cx="265.1" cy="711.4" r="0.5" fill="#7438c0" opacity="0.37"/>
<circle cx="238.0" cy="722.1" r="0.8" fill="#7438c0" opacity="0.24"/>
<circle cx="244.9" cy="705.8" r="1.0" fill="#7438c0" opacity="0.35"/>
<circle cx="254.8" cy="704.5" r="0.8" fill="#7438c0" opacity="0.40"/>
<circle cx="244.0" cy="712.6" r="0.5" fill="#7438c0" opacity="0.20"/>
<circle cx="249.0" cy="696.6" r="0.9" fill="#7438c0" opacity="0.30"/>
<circle cx="227.1" cy="699.8" r="0.8" fill="#7438c0" opacity="0.38"/>
<circle cx="235.1" cy="695.3" r="0.9" fill="#7438c0" opacity="0.24"/>
<circle cx="242.2" cy="681.1" r="0.9" fill="#7438c0" opacity="0.26"/>
<circle cx="252.0" cy="677.4" r="0.7" fill="#7438c0" opacity="0.25"/>
<circle cx="221.0" cy="701.0" r="0.5" fill="#7438c0" opacity="0.15"/>
<circle cx="225.5" cy="708.5" r="0.9" fill="#7438c0" opacity="0.28"/>
<circle cx="261.6" cy="704.1" r="0.9" fill="#7438c0" opacity="0.18"/>
<circle cx="258.3" cy="706.8" r="0.5" fill="#7438c0" opacity="0.33"/>
<circle cx="236.8" cy="700.9" r="1.0" fill="#7438c0" opacity="0.28"/>
<circle cx="255.1" cy="714.6" r="0.9" fill="#7438c0" opacity="0.47"/>
<circle cx="250.6" cy="709.1" r="0.9" fill="#7438c0" opacity="0.23"/>
<circle cx="267.9" cy="702.8" r="0.8" fill="#7438c0" opacity="0.27"/>
<circle cx="254.1" cy="686.8" r="0.6" fill="#7438c0" opacity="0.47"/>
<circle cx="266.9" cy="720.1" r="0.5" fill="#7438c0" opacity="0.38"/>
<circle cx="226.7" cy="720.2" r="0.5" fill="#7438c0" opacity="0.35"/>
<circle cx="225.3" cy="719.5" r="1.0" fill="#7438c0" opacity="0.37"/>
<circle cx="250.4" cy="719.0" r="0.6" fill="#7438c0" opacity="0.30"/>
<circle cx="249.6" cy="717.6" r="0.9" fill="#7438c0" opacity="0.37"/>
<circle cx="239.7" cy="731.8" r="0.6" fill="#7438c0" opacity="0.35"/>
<circle cx="262.6" cy="726.8" r="1.0" fill="#7438c0" opacity="0.24"/>
<circle cx="248.3" cy="679.4" r="0.6" fill="#7438c0" opacity="0.27"/>
<circle cx="221.6" cy="707.4" r="0.5" fill="#7438c0" opacity="0.39"/>
<circle cx="232.6" cy="694.1" r="0.8" fill="#7438c0" opacity="0.46"/>
<circle cx="254.7" cy="730.7" r="0.7" fill="#7438c0" opacity="0.42"/>
<circle cx="256.0" cy="695.9" r="1.0" fill="#7438c0" opacity="0.50"/>
<circle cx="246.8" cy="709.2" r="0.5" fill="#7438c0" opacity="0.49"/>
<circle cx="275.0" cy="706.6" r="0.5" fill="#7438c0" opacity="0.41"/>
<circle cx="257.6" cy="711.7" r="0.9" fill="#7438c0" opacity="0.18"/>
<circle cx="233.7" cy="727.9" r="0.9" fill="#7438c0" opacity="0.46"/>
<circle cx="253.2" cy="704.3" r="0.6" fill="#7438c0" opacity="0.43"/>
<circle cx="246.1" cy="699.9" r="0.8" fill="#7438c0" opacity="0.23"/>
<circle cx="239.8" cy="708.9" r="0.5" fill="#7438c0" opacity="0.50"/>
<circle cx="237.4" cy="729.2" r="0.5" fill="#7438c0" opacity="0.32"/>
<circle cx="260.2" cy="718.9" r="0.6" fill="#7438c0" opacity="0.39"/>
<circle cx="262.6" cy="724.4" r="0.8" fill="#7438c0" opacity="0.19"/>
<circle cx="236.1" cy="720.8" r="1.0" fill="#7438c0" opacity="0.27"/>
<circle cx="254.1" cy="732.1" r="1.0" fill="#7438c0" opacity="0.41"/>
<circle cx="246.4" cy="716.8" r="0.6" fill="#7438c0" opacity="0.17"/>
<circle cx="267.5" cy="710.4" r="0.7" fill="#7438c0" opacity="0.34"/>
<circle cx="246.2" cy="707.2" r="0.9" fill="#7438c0" opacity="0.38"/>
<circle cx="228.0" cy="699.3" r="0.9" fill="#7438c0" opacity="0.49"/>
<circle cx="264.9" cy="688.0" r="0.7" fill="#7438c0" opacity="0.26"/>
<circle cx="223.8" cy="718.5" r="0.7" fill="#7438c0" opacity="0.28"/>
<circle cx="239.1" cy="710.7" r="1.0" fill="#7438c0" opacity="0.15"/>
<circle cx="226.9" cy="688.0" r="0.6" fill="#7438c0" opacity="0.36"/>
<circle cx="238.2" cy="714.7" r="0.6" fill="#7438c0" opacity="0.19"/>
<circle cx="261.9" cy="684.2" r="1.0" fill="#7438c0" opacity="0.17"/>
<circle cx="242.6" cy="689.9" r="0.8" fill="#7438c0" opacity="0.34"/>
<circle cx="237.0" cy="730.5" r="0.5" fill="#7438c0" opacity="0.41"/>
<circle cx="260.3" cy="689.0" r="0.8" fill="#7438c0" opacity="0.50"/>
<circle cx="250.3" cy="727.3" r="0.9" fill="#7438c0" opacity="0.28"/>
<circle cx="243.9" cy="687.8" r="0.8" fill="#7438c0" opacity="0.36"/>
<circle cx="241.0" cy="690.6" r="0.8" fill="#7438c0" opacity="0.34"/>
<circle cx="251.8" cy="726.8" r="0.6" fill="#7438c0" opacity="0.47"/>
<circle cx="224.5" cy="709.0" r="0.8" fill="#7438c0" opacity="0.32"/>
<circle cx="250.0" cy="715.5" r="1.0" fill="#7438c0" opacity="0.34"/>
<circle cx="227.8" cy="701.9" r="0.9" fill="#7438c0" opacity="0.23"/>
<circle cx="260.1" cy="727.6" r="0.7" fill="#7438c0" opacity="0.37"/>
<circle cx="260.6" cy="681.4" r="1.0" fill="#7438c0" opacity="0.17"/>
<circle cx="229.2" cy="722.5" r="0.9" fill="#7438c0" opacity="0.19"/>
<circle cx="256.1" cy="716.6" r="0.5" fill="#7438c0" opacity="0.27"/>
<circle cx="254.8" cy="685.7" r="0.7" fill="#7438c0" opacity="0.18"/>
<circle cx="225.8" cy="722.2" r="0.9" fill="#7438c0" opacity="0.31"/>
<circle cx="223.1" cy="708.4" r="0.9" fill="#7438c0" opacity="0.20"/>
<circle cx="240.8" cy="689.5" r="0.8" fill="#7438c0" opacity="0.23"/>
<circle cx="236.8" cy="716.9" r="0.7" fill="#7438c0" opacity="0.16"/>
<circle cx="254.6" cy="725.3" r="0.5" fill="#7438c0" opacity="0.21"/>
<circle cx="245.2" cy="690.5" r="0.6" fill="#7438c0" opacity="0.23"/>
<circle cx="252.4" cy="697.6" r="0.8" fill="#7438c0" opacity="0.45"/>
<circle cx="253.6" cy="722.5" r="0.9" fill="#7438c0" opacity="0.37"/>
<circle cx="244.0" cy="709.3" r="0.7" fill="#7438c0" opacity="0.28"/>
<circle cx="244.5" cy="690.1" r="0.7" fill="#7438c0" opacity="0.38"/>
<circle cx="254.3" cy="689.5" r="0.7" fill="#7438c0" opacity="0.35"/>
<circle cx="259.1" cy="699.4" r="1.0" fill="#7438c0" opacity="0.40"/>
<circle cx="232.1" cy="721.6" r="0.6" fill="#7438c0" opacity="0.17"/>
<circle cx="248.8" cy="687.6" r="0.8" fill="#7438c0" opacity="0.32"/>
<circle cx="268.1" cy="690.7" r="0.5" fill="#7438c0" opacity="0.36"/>
<circle cx="229.4" cy="709.5" r="1.0" fill="#7438c0" opacity="0.30"/>
<circle cx="221.8" cy="709.4" r="0.7" fill="#7438c0" opacity="0.32"/>
<circle cx="222.5" cy="703.1" r="0.9" fill="#7438c0" opacity="0.41"/>
<circle cx="243.5" cy="708.3" r="0.9" fill="#7438c0" opacity="0.34"/>
<circle cx="251.1" cy="680.4" r="0.5" fill="#7438c0" opacity="0.23"/>
<circle cx="270.7" cy="716.9" r="0.5" fill="#7438c0" opacity="0.18"/>
<circle cx="248.5" cy="683.8" r="0.5" fill="#7438c0" opacity="0.39"/>
<circle cx="243.3" cy="686.0" r="0.5" fill="#7438c0" opacity="0.39"/>
<circle cx="229.3" cy="715.6" r="1.0" fill="#7438c0" opacity="0.44"/>
<circle cx="255.6" cy="697.2" r="0.7" fill="#7438c0" opacity="0.33"/>
<circle cx="276.1" cy="706.1" r="0.6" fill="#7438c0" opacity="0.24"/>
<circle cx="242.6" cy="718.1" r="1.0" fill="#7438c0" opacity="0.34"/>
<circle cx="229.8" cy="703.7" r="0.5" fill="#7438c0" opacity="0.26"/>
<circle cx="265.0" cy="686.2" r="1.0" fill="#7438c0" opacity="0.24"/>
<circle cx="250.0" cy="711.2" r="0.8" fill="#7438c0" opacity="0.28"/>
<circle cx="228.9" cy="709.4" r="0.8" fill="#7438c0" opacity="0.28"/>
<circle cx="252.1" cy="693.0" r="1.0" fill="#7438c0" opacity="0.34"/>
<circle cx="263.1" cy="710.0" r="0.8" fill="#7438c0" opacity="0.29"/>
<circle cx="233.4" cy="698.6" r="0.6" fill="#7438c0" opacity="0.43"/>
<circle cx="242.0" cy="728.0" r="0.9" fill="#7438c0" opacity="0.36"/>
<circle cx="221.9" cy="712.7" r="0.7" fill="#7438c0" opacity="0.46"/>
<circle cx="265.5" cy="711.6" r="0.8" fill="#7438c0" opacity="0.17"/>
<circle cx="253.0" cy="699.2" r="0.8" fill="#7438c0" opacity="0.21"/>
<circle cx="266.8" cy="695.1" r="0.9" fill="#7438c0" opacity="0.32"/>
<circle cx="237.4" cy="684.4" r="0.6" fill="#7438c0" opacity="0.22"/>
<circle cx="253.8" cy="695.8" r="1.0" fill="#7438c0" opacity="0.22"/>
<circle cx="255.1" cy="710.2" r="0.9" fill="#7438c0" opacity="0.48"/>
<circle cx="228.4" cy="716.7" r="0.6" fill="#7438c0" opacity="0.47"/>
<circle cx="243.7" cy="694.8" r="0.5" fill="#7438c0" opacity="0.39"/>
<circle cx="273.0" cy="711.7" r="0.6" fill="#7438c0" opacity="0.23"/>
<circle cx="234.2" cy="697.1" r="0.8" fill="#7438c0" opacity="0.20"/>
<circle cx="261.8" cy="696.5" r="1.0" fill="#7438c0" opacity="0.20"/>
<circle cx="256.6" cy="678.4" r="0.7" fill="#7438c0" opacity="0.16"/>
<circle cx="231.6" cy="720.5" r="0.6" fill="#7438c0" opacity="0.34"/>
<circle cx="264.1" cy="715.7" r="0.9" fill="#7438c0" opacity="0.30"/>
<circle cx="244.0" cy="696.4" r="0.9" fill="#7438c0" opacity="0.19"/>
<circle cx="273.1" cy="691.9" r="1.0" fill="#7438c0" opacity="0.33"/>
<circle cx="243.9" cy="721.1" r="0.9" fill="#7438c0" opacity="0.32"/>
<circle cx="255.9" cy="701.3" r="0.7" fill="#7438c0" opacity="0.45"/>
<circle cx="231.1" cy="693.0" r="0.5" fill="#7438c0" opacity="0.20"/>
<circle cx="244.6" cy="731.4" r="1.0" fill="#7438c0" opacity="0.23"/>
<circle cx="252.6" cy="702.7" r="0.8" fill="#7438c0" opacity="0.49"/>
<circle cx="232.8" cy="727.8" r="0.8" fill="#7438c0" opacity="0.17"/>
<circle cx="238.7" cy="721.4" r="0.6" fill="#7438c0" opacity="0.41"/>
<circle cx="258.9" cy="727.6" r="0.6" fill="#7438c0" opacity="0.17"/>
<circle cx="240.0" cy="701.8" r="0.8" fill="#7438c0" opacity="0.43"/>
<circle cx="232.3" cy="694.2" r="0.5" fill="#7438c0" opacity="0.33"/>
<circle cx="266.7" cy="718.0" r="0.5" fill="#7438c0" opacity="0.35"/>
<circle cx="237.7" cy="718.8" r="0.8" fill="#7438c0" opacity="0.21"/>
<circle cx="261.3" cy="729.0" r="0.6" fill="#7438c0" opacity="0.44"/>
<circle cx="261.8" cy="691.0" r="0.5" fill="#7438c0" opacity="0.18"/>
<circle cx="255.1" cy="698.3" r="0.7" fill="#7438c0" opacity="0.34"/>
<circle cx="262.4" cy="718.0" r="0.5" fill="#7438c0" opacity="0.34"/>
<circle cx="231.0" cy="704.3" r="0.6" fill="#7438c0" opacity="0.29"/>
<circle cx="251.0" cy="714.6" r="0.6" fill="#7438c0" opacity="0.46"/>
<circle cx="221.5" cy="704.7" r="0.5" fill="#7438c0" opacity="0.48"/>
<circle cx="223.1" cy="706.8" r="0.8" fill="#7438c0" opacity="0.39"/>
<circle cx="251.3" cy="729.2" r="0.5" fill="#7438c0" opacity="0.24"/>
<circle cx="265.5" cy="708.4" r="0.8" fill="#7438c0" opacity="0.25"/>
<circle cx="254.4" cy="699.8" r="0.8" fill="#7438c0" opacity="0.23"/>
<circle cx="227.5" cy="690.9" r="0.9" fill="#7438c0" opacity="0.17"/>
<circle cx="248.7" cy="726.8" r="1.0" fill="#7438c0" opacity="0.16"/>
<circle cx="230.8" cy="689.1" r="0.9" fill="#7438c0" opacity="0.27"/>
<circle cx="255.2" cy="687.2" r="1.0" fill="#7438c0" opacity="0.15"/>
<circle cx="265.0" cy="698.4" r="0.7" fill="#7438c0" opacity="0.18"/>
<circle cx="248.9" cy="729.2" r="0.9" fill="#7438c0" opacity="0.20"/>
<circle cx="242.2" cy="713.8" r="0.6" fill="#7438c0" opacity="0.23"/>
<circle cx="234.5" cy="729.3" r="1.0" fill="#7438c0" opacity="0.43"/>
<circle cx="228.4" cy="707.5" r="0.9" fill="#7438c0" opacity="0.47"/>
<circle cx="248.3" cy="682.5" r="0.6" fill="#7438c0" opacity="0.37"/>
<circle cx="262.3" cy="684.4" r="0.5" fill="#7438c0" opacity="0.40"/>
<circle cx="241.5" cy="714.2" r="1.0" fill="#7438c0" opacity="0.39"/>
<circle cx="247.8" cy="694.6" r="0.9" fill="#7438c0" opacity="0.48"/>
<circle cx="268.2" cy="691.3" r="0.9" fill="#7438c0" opacity="0.43"/>
<circle cx="232.4" cy="695.0" r="0.9" fill="#7438c0" opacity="0.42"/>
<circle cx="258.7" cy="693.8" r="1.0" fill="#7438c0" opacity="0.34"/>
<circle cx="257.2" cy="701.8" r="1.0" fill="#7438c0" opacity="0.43"/>
<circle cx="247.8" cy="730.8" r="0.6" fill="#7438c0" opacity="0.22"/>
<circle cx="234.8" cy="708.6" r="0.7" fill="#7438c0" opacity="0.47"/>
<circle cx="238.7" cy="683.1" r="0.7" fill="#7438c0" opacity="0.42"/>
<circle cx="254.4" cy="682.5" r="1.0" fill="#7438c0" opacity="0.44"/>
<circle cx="241.2" cy="709.6" r="0.8" fill="#7438c0" opacity="0.44"/>
<circle cx="236.5" cy="723.4" r="1.0" fill="#7438c0" opacity="0.43"/>
<circle cx="267.8" cy="705.6" r="0.5" fill="#7438c0" opacity="0.19"/>
<circle cx="255.1" cy="688.1" r="0.8" fill="#7438c0" opacity="0.31"/>
<circle cx="241.4" cy="716.2" r="0.7" fill="#7438c0" opacity="0.45"/>
<circle cx="236.9" cy="694.6" r="0.5" fill="#7438c0" opacity="0.24"/>
<circle cx="242.4" cy="687.1" r="0.8" fill="#7438c0" opacity="0.43"/>
<circle cx="265.0" cy="721.0" r="0.5" fill="#7438c0" opacity="0.44"/>
<circle cx="254.0" cy="718.5" r="1.0" fill="#7438c0" opacity="0.28"/>
<circle cx="252.4" cy="731.3" r="0.8" fill="#7438c0" opacity="0.46"/>
<circle cx="232.4" cy="717.3" r="1.0" fill="#7438c0" opacity="0.33"/>
<circle cx="260.4" cy="704.1" r="0.9" fill="#7438c0" opacity="0.21"/>
<circle cx="247.6" cy="704.9" r="0.6" fill="#7438c0" opacity="0.48"/>
<circle cx="223.7" cy="712.1" r="0.6" fill="#7438c0" opacity="0.27"/>
<circle cx="265.0" cy="717.4" r="1.0" fill="#7438c0" opacity="0.33"/>
<circle cx="228.7" cy="724.0" r="1.0" fill="#7438c0" opacity="0.38"/>
<circle cx="267.9" cy="715.2" r="0.7" fill="#7438c0" opacity="0.49"/>
<circle cx="233.3" cy="722.5" r="0.8" fill="#7438c0" opacity="0.28"/>
<circle cx="225.1" cy="701.8" r="1.0" fill="#7438c0" opacity="0.32"/>
<circle cx="229.8" cy="726.1" r="0.5" fill="#7438c0" opacity="0.44"/>
<circle cx="239.6" cy="685.7" r="0.7" fill="#7438c0" opacity="0.41"/>
<circle cx="266.8" cy="689.8" r="0.9" fill="#7438c0" opacity="0.16"/>
<circle cx="243.3" cy="714.3" r="1.0" fill="#7438c0" opacity="0.46"/>
<circle cx="261.4" cy="722.1" r="0.8" fill="#7438c0" opacity="0.17"/>
<circle cx="229.1" cy="720.3" r="0.8" fill="#7438c0" opacity="0.25"/>
<circle cx="249.3" cy="689.8" r="0.8" fill="#7438c0" opacity="0.30"/>
<circle cx="270.6" cy="701.9" r="0.9" fill="#7438c0" opacity="0.39"/>
<circle cx="227.9" cy="723.9" r="0.9" fill="#7438c0" opacity="0.39"/>
<circle cx="246.1" cy="716.2" r="0.8" fill="#7438c0" opacity="0.44"/>
<circle cx="252.6" cy="689.0" r="0.5" fill="#7438c0" opacity="0.33"/>
<circle cx="256.3" cy="697.1" r="0.9" fill="#7438c0" opacity="0.21"/>
<circle cx="245.6" cy="711.0" r="0.6" fill="#7438c0" opacity="0.28"/>
<circle cx="275.2" cy="699.3" r="0.6" fill="#7438c0" opacity="0.26"/>
<circle cx="259.9" cy="700.7" r="0.6" fill="#7438c0" opacity="0.30"/>
<circle cx="259.3" cy="714.1" r="0.7" fill="#7438c0" opacity="0.28"/>
<circle cx="262.3" cy="701.7" r="0.6" fill="#7438c0" opacity="0.47"/>
<circle cx="223.5" cy="712.9" r="0.8" fill="#7438c0" opacity="0.42"/>
<circle cx="243.7" cy="715.1" r="0.9" fill="#7438c0" opacity="0.31"/>
<circle cx="226.5" cy="696.7" r="0.9" fill="#7438c0" opacity="0.25"/>
<circle cx="230.5" cy="725.5" r="0.8" fill="#7438c0" opacity="0.25"/>
<circle cx="238.3" cy="694.5" r="0.9" fill="#7438c0" opacity="0.16"/>
<circle cx="257.9" cy="686.2" r="0.7" fill="#7438c0" opacity="0.48"/>
<circle cx="246.7" cy="718.9" r="0.5" fill="#7438c0" opacity="0.34"/>
<circle cx="248.6" cy="681.8" r="0.7" fill="#7438c0" opacity="0.43"/>
<circle cx="260.1" cy="715.1" r="0.8" fill="#7438c0" opacity="0.49"/>
<circle cx="232.5" cy="687.5" r="0.9" fill="#7438c0" opacity="0.29"/>
<circle cx="270.7" cy="696.1" r="0.7" fill="#7438c0" opacity="0.29"/>
<circle cx="253.8" cy="689.3" r="0.6" fill="#7438c0" opacity="0.46"/>
<circle cx="228.1" cy="701.0" r="0.9" fill="#7438c0" opacity="0.47"/>
<circle cx="259.1" cy="717.2" r="0.5" fill="#7438c0" opacity="0.29"/>
<circle cx="222.1" cy="704.7" r="0.9" fill="#7438c0" opacity="0.35"/>
<circle cx="230.5" cy="717.2" r="0.6" fill="#7438c0" opacity="0.45"/>
<circle cx="254.3" cy="679.9" r="0.5" fill="#7438c0" opacity="0.39"/>
<circle cx="248.6" cy="685.0" r="1.0" fill="#7438c0" opacity="0.46"/>
<circle cx="247.0" cy="679.5" r="0.8" fill="#7438c0" opacity="0.46"/>
<circle cx="264.2" cy="722.4" r="0.9" fill="#7438c0" opacity="0.36"/>
<circle cx="247.0" cy="712.2" r="0.8" fill="#7438c0" opacity="0.44"/>
<circle cx="246.2" cy="717.9" r="0.6" fill="#7438c0" opacity="0.18"/>
<circle cx="235.6" cy="680.1" r="0.9" fill="#7438c0" opacity="0.28"/>
<circle cx="245.7" cy="697.8" r="1.0" fill="#7438c0" opacity="0.26"/>
<circle cx="270.5" cy="705.5" r="0.5" fill="#7438c0" opacity="0.25"/>
<circle cx="265.7" cy="711.8" r="0.8" fill="#7438c0" opacity="0.43"/>
<circle cx="273.0" cy="711.3" r="0.5" fill="#7438c0" opacity="0.23"/>
<circle cx="236.8" cy="693.0" r="0.6" fill="#7438c0" opacity="0.35"/>
<circle cx="253.1" cy="729.6" r="0.6" fill="#7438c0" opacity="0.44"/>
<circle cx="255.6" cy="685.7" r="0.5" fill="#7438c0" opacity="0.42"/>
<circle cx="267.8" cy="708.6" r="0.7" fill="#7438c0" opacity="0.17"/>
<circle cx="231.7" cy="687.5" r="0.8" fill="#7438c0" opacity="0.29"/>
<circle cx="226.5" cy="703.4" r="0.6" fill="#7438c0" opacity="0.45"/>
<circle cx="273.4" cy="704.3" r="1.0" fill="#7438c0" opacity="0.27"/>
<circle cx="255.6" cy="704.3" r="0.7" fill="#7438c0" opacity="0.20"/>
<circle cx="225.7" cy="711.7" r="0.9" fill="#7438c0" opacity="0.31"/>
<circle cx="241.4" cy="715.3" r="0.7" fill="#7438c0" opacity="0.25"/>
<circle cx="256.4" cy="727.7" r="0.8" fill="#7438c0" opacity="0.30"/>
<circle cx="255.7" cy="727.4" r="0.6" fill="#7438c0" opacity="0.24"/>
<circle cx="226.1" cy="696.3" r="1.0" fill="#7438c0" opacity="0.41"/>
<circle cx="273.8" cy="696.4" r="0.9" fill="#7438c0" opacity="0.40"/>
<circle cx="259.9" cy="709.9" r="0.5" fill="#7438c0" opacity="0.45"/>
<circle cx="244.2" cy="682.9" r="0.6" fill="#7438c0" opacity="0.27"/>
<circle cx="259.7" cy="724.2" r="1.0" fill="#7438c0" opacity="0.26"/>
<circle cx="259.5" cy="708.2" r="0.7" fill="#7438c0" opacity="0.46"/>
<circle cx="254.5" cy="687.1" r="0.5" fill="#7438c0" opacity="0.19"/>
<circle cx="262.2" cy="725.5" r="0.7" fill="#7438c0" opacity="0.50"/>
<circle cx="269.5" cy="691.7" r="0.7" fill="#7438c0" opacity="0.44"/>
<circle cx="254.5" cy="711.7" r="0.8" fill="#7438c0" opacity="0.33"/>
<circle cx="251.7" cy="718.7" r="0.5" fill="#7438c0" opacity="0.47"/>
<circle cx="241.3" cy="678.4" r="1.0" fill="#7438c0" opacity="0.30"/>
<circle cx="246.2" cy="687.6" r="0.9" fill="#7438c0" opacity="0.44"/>
<circle cx="250.2" cy="707.4" r="0.6" fill="#7438c0" opacity="0.35"/>
<circle cx="246.1" cy="706.9" r="0.9" fill="#7438c0" opacity="0.43"/>
<circle cx="242.4" cy="706.3" r="1.0" fill="#7438c0" opacity="0.34"/>
<circle cx="262.6" cy="711.9" r="0.8" fill="#7438c0" opacity="0.46"/>
<circle cx="225.6" cy="707.2" r="0.6" fill="#7438c0" opacity="0.24"/>
<circle cx="262.6" cy="695.3" r="0.5" fill="#7438c0" opacity="0.36"/>
<circle cx="257.0" cy="714.0" r="0.7" fill="#7438c0" opacity="0.35"/>
<circle cx="232.6" cy="687.1" r="0.7" fill="#7438c0" opacity="0.17"/>
<circle cx="247.1" cy="698.5" r="0.7" fill="#7438c0" opacity="0.29"/>
<circle cx="237.0" cy="683.9" r="0.6" fill="#7438c0" opacity="0.38"/>
<circle cx="241.2" cy="686.9" r="0.5" fill="#7438c0" opacity="0.47"/>
<circle cx="242.4" cy="700.9" r="0.6" fill="#7438c0" opacity="0.50"/>
<circle cx="250.5" cy="722.5" r="0.9" fill="#7438c0" opacity="0.44"/>
<circle cx="231.9" cy="686.9" r="0.5" fill="#7438c0" opacity="0.18"/>
<circle cx="273.1" cy="701.2" r="0.5" fill="#7438c0" opacity="0.17"/>
<circle cx="249.7" cy="732.2" r="0.6" fill="#7438c0" opacity="0.39"/>
<circle cx="268.5" cy="695.4" r="1.0" fill="#7438c0" opacity="0.24"/>
<circle cx="250.3" cy="708.1" r="0.9" fill="#7438c0" opacity="0.19"/>
<circle cx="271.5" cy="701.0" r="0.6" fill="#7438c0" opacity="0.43"/>
<circle cx="258.6" cy="722.2" r="0.5" fill="#7438c0" opacity="0.43"/>
<circle cx="268.9" cy="687.7" r="0.5" fill="#7438c0" opacity="0.45"/>
<circle cx="224.1" cy="696.2" r="0.8" fill="#7438c0" opacity="0.37"/>
<circle cx="227.2" cy="690.9" r="0.5" fill="#7438c0" opacity="0.17"/>
<circle cx="233.5" cy="700.7" r="0.7" fill="#7438c0" opacity="0.15"/>
<circle cx="248.0" cy="700.6" r="0.9" fill="#7438c0" opacity="0.43"/>
<circle cx="238.6" cy="707.6" r="0.8" fill="#7438c0" opacity="0.22"/>
<circle cx="239.6" cy="709.0" r="1.0" fill="#7438c0" opacity="0.34"/>
<circle cx="243.1" cy="711.7" r="1.2" fill="#6420b8" opacity="0.88"/>
<circle cx="253.1" cy="697.9" r="0.7" fill="#6420b8" opacity="0.64"/>
<circle cx="248.9" cy="694.5" r="1.0" fill="#6420b8" opacity="0.94"/>
<circle cx="248.4" cy="702.7" r="0.6" fill="#6420b8" opacity="0.55"/>
<circle cx="240.6" cy="685.2" r="0.9" fill="#6420b8" opacity="0.71"/>
<circle cx="230.2" cy="716.8" r="1.1" fill="#6420b8" opacity="0.91"/>
<circle cx="245.4" cy="680.7" r="1.5" fill="#6420b8" opacity="0.88"/>
<circle cx="247.1" cy="700.3" r="1.1" fill="#6420b8" opacity="0.88"/>
<circle cx="224.8" cy="715.8" r="0.6" fill="#6420b8" opacity="0.92"/>
<circle cx="226.6" cy="713.2" r="0.7" fill="#6420b8" opacity="0.64"/>
<circle cx="239.1" cy="717.7" r="0.6" fill="#6420b8" opacity="0.70"/>
<circle cx="270.1" cy="702.3" r="1.6" fill="#6420b8" opacity="0.84"/>
<circle cx="262.3" cy="681.7" r="1.2" fill="#6420b8" opacity="0.62"/>
<circle cx="248.1" cy="722.6" r="0.6" fill="#6420b8" opacity="0.60"/>
<circle cx="267.9" cy="687.8" r="0.7" fill="#6420b8" opacity="0.85"/>
<circle cx="252.1" cy="679.5" r="1.3" fill="#6420b8" opacity="0.74"/>
<circle cx="267.8" cy="720.2" r="0.7" fill="#6420b8" opacity="0.78"/>
<circle cx="234.6" cy="719.9" r="1.6" fill="#6420b8" opacity="0.57"/>
<circle cx="226.5" cy="700.7" r="0.9" fill="#6420b8" opacity="0.92"/>
<circle cx="226.2" cy="719.4" r="1.1" fill="#6420b8" opacity="0.94"/>
<circle cx="258.8" cy="711.7" r="0.7" fill="#6420b8" opacity="0.91"/>
<circle cx="262.0" cy="706.2" r="1.2" fill="#6420b8" opacity="0.95"/>
<circle cx="256.2" cy="721.2" r="1.1" fill="#6420b8" opacity="0.81"/>
<circle cx="247.5" cy="681.3" r="0.7" fill="#6420b8" opacity="0.62"/>
<circle cx="270.5" cy="708.9" r="0.6" fill="#6420b8" opacity="0.62"/>
<circle cx="269.5" cy="700.1" r="1.0" fill="#6420b8" opacity="0.80"/>
<circle cx="229.5" cy="691.8" r="0.7" fill="#6420b8" opacity="0.53"/>
<circle cx="251.1" cy="706.3" r="0.7" fill="#6420b8" opacity="0.56"/>
<circle cx="262.7" cy="717.5" r="1.6" fill="#6420b8" opacity="0.81"/>
<circle cx="244.6" cy="728.7" r="0.6" fill="#6420b8" opacity="0.55"/>
<circle cx="242.4" cy="721.5" r="1.1" fill="#6420b8" opacity="0.70"/>
<circle cx="247.0" cy="696.7" r="1.6" fill="#6420b8" opacity="0.65"/>
<circle cx="250.5" cy="700.8" r="1.4" fill="#6420b8" opacity="0.60"/>
<circle cx="263.1" cy="685.6" r="1.1" fill="#6420b8" opacity="0.62"/>
<circle cx="260.0" cy="705.7" r="1.5" fill="#6420b8" opacity="0.57"/>
<circle cx="236.8" cy="687.4" r="1.1" fill="#6420b8" opacity="0.58"/>
</g>
<circle cx="248.1" cy="705" r="28.3" fill="none" stroke="#6e5a9e" stroke-width="1" stroke-opacity="0.5"/>
<circle cx="306.4" cy="705" r="28.8" fill="url(#dishg)"/>
<g filter="url(#b05)">
<circle cx="311.8" cy="711.9" r="1.0" fill="#7438c0" opacity="0.28"/>
<circle cx="294.1" cy="687.6" r="0.6" fill="#7438c0" opacity="0.17"/>
<circle cx="332.3" cy="707.4" r="0.5" fill="#7438c0" opacity="0.49"/>
<circle cx="290.7" cy="723.1" r="0.5" fill="#7438c0" opacity="0.43"/>
<circle cx="306.2" cy="722.1" r="0.8" fill="#7438c0" opacity="0.19"/>
<circle cx="306.7" cy="730.2" r="0.6" fill="#7438c0" opacity="0.28"/>
<circle cx="307.6" cy="691.7" r="0.6" fill="#7438c0" opacity="0.23"/>
<circle cx="293.7" cy="716.3" r="0.8" fill="#7438c0" opacity="0.32"/>
<circle cx="310.7" cy="700.4" r="0.8" fill="#7438c0" opacity="0.44"/>
<circle cx="306.9" cy="709.8" r="0.7" fill="#7438c0" opacity="0.19"/>
<circle cx="283.3" cy="710.9" r="0.5" fill="#7438c0" opacity="0.19"/>
<circle cx="294.7" cy="706.5" r="0.6" fill="#7438c0" opacity="0.30"/>
<circle cx="311.8" cy="710.0" r="0.7" fill="#7438c0" opacity="0.31"/>
<circle cx="325.8" cy="696.8" r="0.5" fill="#7438c0" opacity="0.23"/>
<circle cx="305.6" cy="683.8" r="1.0" fill="#7438c0" opacity="0.49"/>
<circle cx="312.3" cy="697.7" r="1.0" fill="#7438c0" opacity="0.33"/>
<circle cx="307.2" cy="716.6" r="1.0" fill="#7438c0" opacity="0.22"/>
<circle cx="319.0" cy="712.2" r="1.0" fill="#7438c0" opacity="0.31"/>
<circle cx="305.5" cy="697.4" r="0.7" fill="#7438c0" opacity="0.26"/>
<circle cx="312.8" cy="727.1" r="0.7" fill="#7438c0" opacity="0.19"/>
<circle cx="325.9" cy="703.1" r="0.6" fill="#7438c0" opacity="0.15"/>
<circle cx="294.8" cy="688.4" r="0.5" fill="#7438c0" opacity="0.31"/>
<circle cx="305.2" cy="684.4" r="0.6" fill="#7438c0" opacity="0.32"/>
<circle cx="288.4" cy="691.0" r="0.5" fill="#7438c0" opacity="0.43"/>
<circle cx="329.3" cy="696.9" r="1.0" fill="#7438c0" opacity="0.28"/>
<circle cx="316.3" cy="698.1" r="0.6" fill="#7438c0" opacity="0.36"/>
<circle cx="313.0" cy="700.3" r="0.6" fill="#7438c0" opacity="0.16"/>
<circle cx="296.6" cy="709.0" r="0.6" fill="#7438c0" opacity="0.41"/>
<circle cx="282.7" cy="691.3" r="0.7" fill="#7438c0" opacity="0.39"/>
<circle cx="333.8" cy="707.2" r="0.6" fill="#7438c0" opacity="0.32"/>
<circle cx="279.0" cy="703.0" r="0.7" fill="#7438c0" opacity="0.50"/>
<circle cx="296.9" cy="695.9" r="1.0" fill="#7438c0" opacity="0.22"/>
<circle cx="325.5" cy="704.9" r="0.6" fill="#7438c0" opacity="0.49"/>
<circle cx="298.6" cy="721.2" r="0.7" fill="#7438c0" opacity="0.38"/>
<circle cx="323.5" cy="707.5" r="0.5" fill="#7438c0" opacity="0.44"/>
<circle cx="328.4" cy="705.0" r="0.6" fill="#7438c0" opacity="0.31"/>
<circle cx="284.4" cy="696.0" r="0.5" fill="#7438c0" opacity="0.23"/>
<circle cx="326.5" cy="724.0" r="0.5" fill="#7438c0" opacity="0.20"/>
<circle cx="285.1" cy="702.0" r="1.0" fill="#7438c0" opacity="0.17"/>
<circle cx="307.5" cy="716.5" r="0.8" fill="#7438c0" opacity="0.31"/>
<circle cx="284.0" cy="719.4" r="0.8" fill="#7438c0" opacity="0.45"/>
<circle cx="320.5" cy="701.1" r="1.0" fill="#7438c0" opacity="0.29"/>
<circle cx="332.0" cy="713.6" r="0.5" fill="#7438c0" opacity="0.16"/>
<circle cx="302.7" cy="719.7" r="1.0" fill="#7438c0" opacity="0.45"/>
<circle cx="288.4" cy="714.9" r="1.0" fill="#7438c0" opacity="0.43"/>
<circle cx="294.9" cy="688.4" r="0.5" fill="#7438c0" opacity="0.24"/>
<circle cx="294.6" cy="686.9" r="0.9" fill="#7438c0" opacity="0.46"/>
<circle cx="318.4" cy="702.1" r="0.5" fill="#7438c0" opacity="0.46"/>
<circle cx="295.5" cy="699.9" r="0.9" fill="#7438c0" opacity="0.24"/>
<circle cx="307.8" cy="722.0" r="0.8" fill="#7438c0" opacity="0.39"/>
<circle cx="328.2" cy="715.8" r="0.8" fill="#7438c0" opacity="0.32"/>
<circle cx="294.5" cy="682.7" r="0.5" fill="#7438c0" opacity="0.32"/>
<circle cx="296.0" cy="683.6" r="0.8" fill="#7438c0" opacity="0.21"/>
<circle cx="330.6" cy="698.5" r="0.6" fill="#7438c0" opacity="0.30"/>
<circle cx="318.8" cy="701.6" r="0.7" fill="#7438c0" opacity="0.49"/>
<circle cx="317.4" cy="697.0" r="0.9" fill="#7438c0" opacity="0.28"/>
<circle cx="293.6" cy="683.9" r="0.5" fill="#7438c0" opacity="0.23"/>
<circle cx="309.6" cy="719.2" r="0.5" fill="#7438c0" opacity="0.20"/>
<circle cx="291.2" cy="715.2" r="0.5" fill="#7438c0" opacity="0.35"/>
<circle cx="326.4" cy="697.4" r="0.7" fill="#7438c0" opacity="0.40"/>
<circle cx="295.5" cy="709.5" r="0.7" fill="#7438c0" opacity="0.16"/>
<circle cx="301.3" cy="694.9" r="0.7" fill="#7438c0" opacity="0.49"/>
<circle cx="309.1" cy="679.3" r="0.8" fill="#7438c0" opacity="0.37"/>
<circle cx="298.6" cy="678.4" r="0.6" fill="#7438c0" opacity="0.42"/>
<circle cx="301.9" cy="718.6" r="0.9" fill="#7438c0" opacity="0.36"/>
<circle cx="321.9" cy="683.6" r="0.8" fill="#7438c0" opacity="0.22"/>
<circle cx="326.9" cy="706.9" r="0.9" fill="#7438c0" opacity="0.25"/>
<circle cx="308.2" cy="705.8" r="0.6" fill="#7438c0" opacity="0.39"/>
<circle cx="319.9" cy="705.3" r="0.6" fill="#7438c0" opacity="0.40"/>
<circle cx="310.3" cy="704.7" r="0.5" fill="#7438c0" opacity="0.48"/>
<circle cx="317.1" cy="703.0" r="0.7" fill="#7438c0" opacity="0.33"/>
<circle cx="298.6" cy="721.5" r="0.7" fill="#7438c0" opacity="0.24"/>
<circle cx="314.1" cy="707.8" r="0.5" fill="#7438c0" opacity="0.18"/>
<circle cx="289.6" cy="688.4" r="0.6" fill="#7438c0" opacity="0.43"/>
<circle cx="304.2" cy="688.6" r="0.7" fill="#7438c0" opacity="0.22"/>
<circle cx="325.5" cy="695.9" r="0.5" fill="#7438c0" opacity="0.20"/>
<circle cx="300.2" cy="688.6" r="0.9" fill="#7438c0" opacity="0.23"/>
<circle cx="313.8" cy="680.8" r="0.5" fill="#7438c0" opacity="0.36"/>
<circle cx="315.0" cy="727.1" r="0.9" fill="#7438c0" opacity="0.43"/>
<circle cx="307.4" cy="713.6" r="0.8" fill="#7438c0" opacity="0.35"/>
<circle cx="314.4" cy="714.5" r="0.8" fill="#7438c0" opacity="0.19"/>
<circle cx="297.2" cy="694.7" r="0.6" fill="#7438c0" opacity="0.30"/>
<circle cx="282.9" cy="700.0" r="0.5" fill="#7438c0" opacity="0.40"/>
<circle cx="309.2" cy="720.0" r="0.8" fill="#7438c0" opacity="0.39"/>
<circle cx="286.3" cy="687.3" r="0.6" fill="#7438c0" opacity="0.26"/>
<circle cx="298.9" cy="692.7" r="0.5" fill="#7438c0" opacity="0.23"/>
<circle cx="309.8" cy="679.6" r="0.9" fill="#7438c0" opacity="0.49"/>
<circle cx="310.7" cy="689.9" r="0.6" fill="#7438c0" opacity="0.40"/>
<circle cx="327.1" cy="712.5" r="0.5" fill="#7438c0" opacity="0.17"/>
<circle cx="295.5" cy="704.1" r="1.0" fill="#7438c0" opacity="0.46"/>
<circle cx="294.2" cy="708.0" r="0.5" fill="#7438c0" opacity="0.33"/>
<circle cx="289.6" cy="702.7" r="0.9" fill="#7438c0" opacity="0.34"/>
<circle cx="307.9" cy="695.9" r="0.5" fill="#7438c0" opacity="0.29"/>
<circle cx="292.3" cy="706.5" r="0.9" fill="#7438c0" opacity="0.23"/>
<circle cx="298.3" cy="722.7" r="0.9" fill="#7438c0" opacity="0.42"/>
<circle cx="293.3" cy="718.6" r="1.0" fill="#7438c0" opacity="0.48"/>
<circle cx="299.7" cy="698.8" r="0.7" fill="#7438c0" opacity="0.37"/>
<circle cx="305.4" cy="710.4" r="1.0" fill="#7438c0" opacity="0.47"/>
<circle cx="319.7" cy="719.0" r="0.8" fill="#7438c0" opacity="0.25"/>
<circle cx="328.6" cy="715.2" r="0.9" fill="#7438c0" opacity="0.30"/>
<circle cx="321.6" cy="714.1" r="0.5" fill="#7438c0" opacity="0.49"/>
<circle cx="320.8" cy="709.8" r="0.9" fill="#7438c0" opacity="0.20"/>
<circle cx="312.3" cy="709.7" r="0.5" fill="#7438c0" opacity="0.34"/>
<circle cx="312.2" cy="694.9" r="0.6" fill="#7438c0" opacity="0.42"/>
<circle cx="291.7" cy="712.4" r="0.5" fill="#7438c0" opacity="0.23"/>
<circle cx="315.9" cy="703.3" r="0.6" fill="#7438c0" opacity="0.41"/>
<circle cx="327.3" cy="688.1" r="0.7" fill="#7438c0" opacity="0.48"/>
<circle cx="294.4" cy="695.8" r="0.7" fill="#7438c0" opacity="0.40"/>
<circle cx="305.4" cy="694.9" r="0.6" fill="#7438c0" opacity="0.49"/>
<circle cx="326.3" cy="720.9" r="0.7" fill="#7438c0" opacity="0.24"/>
<circle cx="305.8" cy="724.3" r="1.0" fill="#7438c0" opacity="0.20"/>
<circle cx="316.2" cy="692.3" r="0.6" fill="#7438c0" opacity="0.41"/>
<circle cx="299.7" cy="715.3" r="0.7" fill="#7438c0" opacity="0.44"/>
<circle cx="320.4" cy="688.8" r="0.5" fill="#7438c0" opacity="0.42"/>
<circle cx="285.4" cy="688.4" r="1.0" fill="#7438c0" opacity="0.26"/>
<circle cx="321.2" cy="684.2" r="0.6" fill="#7438c0" opacity="0.28"/>
<circle cx="294.6" cy="716.9" r="0.7" fill="#7438c0" opacity="0.19"/>
<circle cx="310.3" cy="731.6" r="0.7" fill="#7438c0" opacity="0.37"/>
<circle cx="325.0" cy="689.0" r="0.6" fill="#7438c0" opacity="0.47"/>
<circle cx="315.8" cy="678.5" r="0.9" fill="#7438c0" opacity="0.41"/>
<circle cx="311.9" cy="691.9" r="0.8" fill="#7438c0" opacity="0.28"/>
<circle cx="311.9" cy="696.3" r="0.8" fill="#7438c0" opacity="0.27"/>
<circle cx="313.5" cy="690.0" r="1.0" fill="#7438c0" opacity="0.45"/>
<circle cx="314.0" cy="697.7" r="1.0" fill="#7438c0" opacity="0.41"/>
<circle cx="296.3" cy="684.6" r="0.5" fill="#7438c0" opacity="0.45"/>
<circle cx="288.2" cy="699.4" r="0.7" fill="#7438c0" opacity="0.42"/>
<circle cx="311.7" cy="679.2" r="0.6" fill="#7438c0" opacity="0.27"/>
<circle cx="306.4" cy="713.9" r="0.6" fill="#7438c0" opacity="0.16"/>
<circle cx="310.3" cy="692.1" r="0.5" fill="#7438c0" opacity="0.17"/>
<circle cx="305.7" cy="692.4" r="0.7" fill="#7438c0" opacity="0.29"/>
<circle cx="315.3" cy="678.9" r="0.6" fill="#7438c0" opacity="0.37"/>
<circle cx="321.7" cy="693.1" r="1.0" fill="#7438c0" opacity="0.41"/>
<circle cx="296.5" cy="729.4" r="0.8" fill="#7438c0" opacity="0.19"/>
<circle cx="284.5" cy="691.6" r="0.8" fill="#7438c0" opacity="0.32"/>
<circle cx="283.5" cy="718.3" r="0.8" fill="#7438c0" opacity="0.22"/>
<circle cx="295.4" cy="717.9" r="1.0" fill="#7438c0" opacity="0.39"/>
<circle cx="325.5" cy="724.1" r="0.5" fill="#7438c0" opacity="0.36"/>
<circle cx="284.6" cy="714.9" r="0.7" fill="#7438c0" opacity="0.18"/>
<circle cx="281.1" cy="701.2" r="0.9" fill="#7438c0" opacity="0.27"/>
<circle cx="310.6" cy="729.0" r="0.9" fill="#7438c0" opacity="0.23"/>
<circle cx="327.3" cy="686.2" r="0.7" fill="#7438c0" opacity="0.28"/>
<circle cx="299.6" cy="678.6" r="0.6" fill="#7438c0" opacity="0.26"/>
<circle cx="294.9" cy="726.2" r="0.6" fill="#7438c0" opacity="0.34"/>
<circle cx="283.3" cy="705.0" r="0.5" fill="#7438c0" opacity="0.48"/>
<circle cx="327.5" cy="705.0" r="0.9" fill="#7438c0" opacity="0.21"/>
<circle cx="324.1" cy="693.8" r="0.9" fill="#7438c0" opacity="0.45"/>
<circle cx="288.9" cy="725.7" r="0.6" fill="#7438c0" opacity="0.16"/>
<circle cx="279.6" cy="704.6" r="1.0" fill="#7438c0" opacity="0.48"/>
<circle cx="279.2" cy="703.2" r="0.8" fill="#7438c0" opacity="0.20"/>
<circle cx="289.2" cy="686.4" r="0.7" fill="#7438c0" opacity="0.36"/>
<circle cx="305.5" cy="719.8" r="0.7" fill="#7438c0" opacity="0.33"/>
<circle cx="298.0" cy="706.7" r="0.5" fill="#7438c0" opacity="0.27"/>
<circle cx="301.4" cy="681.1" r="0.6" fill="#7438c0" opacity="0.24"/>
<circle cx="294.6" cy="703.8" r="0.8" fill="#7438c0" opacity="0.47"/>
<circle cx="312.8" cy="725.6" r="0.9" fill="#7438c0" opacity="0.41"/>
<circle cx="300.8" cy="681.9" r="0.6" fill="#7438c0" opacity="0.44"/>
<circle cx="312.2" cy="702.1" r="1.0" fill="#7438c0" opacity="0.30"/>
<circle cx="312.8" cy="708.8" r="0.9" fill="#7438c0" opacity="0.39"/>
<circle cx="318.4" cy="719.9" r="0.8" fill="#7438c0" opacity="0.50"/>
<circle cx="293.7" cy="726.2" r="0.6" fill="#7438c0" opacity="0.22"/>
<circle cx="316.0" cy="720.3" r="0.8" fill="#7438c0" opacity="0.26"/>
<circle cx="313.3" cy="716.2" r="0.5" fill="#7438c0" opacity="0.22"/>
<circle cx="298.3" cy="723.4" r="0.6" fill="#7438c0" opacity="0.32"/>
<circle cx="280.5" cy="715.3" r="0.7" fill="#7438c0" opacity="0.48"/>
<circle cx="294.0" cy="707.2" r="0.8" fill="#7438c0" opacity="0.20"/>
<circle cx="310.1" cy="711.7" r="0.9" fill="#7438c0" opacity="0.49"/>
<circle cx="292.6" cy="714.6" r="0.7" fill="#7438c0" opacity="0.27"/>
<circle cx="300.0" cy="688.5" r="0.5" fill="#7438c0" opacity="0.45"/>
<circle cx="304.4" cy="704.0" r="1.0" fill="#7438c0" opacity="0.40"/>
<circle cx="292.7" cy="722.7" r="1.0" fill="#7438c0" opacity="0.29"/>
<circle cx="292.3" cy="711.3" r="0.8" fill="#7438c0" opacity="0.38"/>
<circle cx="303.8" cy="677.6" r="0.5" fill="#7438c0" opacity="0.28"/>
<circle cx="321.4" cy="684.8" r="0.8" fill="#7438c0" opacity="0.39"/>
<circle cx="291.7" cy="728.2" r="0.8" fill="#7438c0" opacity="0.29"/>
<circle cx="310.4" cy="713.7" r="1.0" fill="#7438c0" opacity="0.43"/>
<circle cx="322.2" cy="707.7" r="0.7" fill="#7438c0" opacity="0.32"/>
<circle cx="288.9" cy="725.2" r="0.7" fill="#7438c0" opacity="0.34"/>
<circle cx="326.8" cy="695.3" r="0.7" fill="#7438c0" opacity="0.27"/>
<circle cx="289.7" cy="719.3" r="0.9" fill="#7438c0" opacity="0.24"/>
<circle cx="294.3" cy="717.8" r="0.7" fill="#7438c0" opacity="0.47"/>
<circle cx="292.0" cy="701.4" r="0.6" fill="#7438c0" opacity="0.44"/>
<circle cx="318.9" cy="724.8" r="0.5" fill="#7438c0" opacity="0.22"/>
<circle cx="330.0" cy="714.2" r="0.5" fill="#7438c0" opacity="0.23"/>
<circle cx="320.0" cy="710.1" r="0.9" fill="#7438c0" opacity="0.40"/>
<circle cx="329.6" cy="690.3" r="0.8" fill="#7438c0" opacity="0.47"/>
<circle cx="329.4" cy="719.5" r="0.7" fill="#7438c0" opacity="0.22"/>
<circle cx="306.1" cy="678.8" r="0.7" fill="#7438c0" opacity="0.18"/>
<circle cx="323.5" cy="687.5" r="0.8" fill="#7438c0" opacity="0.49"/>
<circle cx="312.9" cy="706.6" r="0.5" fill="#7438c0" opacity="0.16"/>
<circle cx="300.6" cy="683.4" r="0.5" fill="#7438c0" opacity="0.21"/>
<circle cx="315.7" cy="725.0" r="0.9" fill="#7438c0" opacity="0.49"/>
<circle cx="288.5" cy="726.4" r="0.7" fill="#7438c0" opacity="0.29"/>
<circle cx="306.1" cy="718.6" r="1.0" fill="#7438c0" opacity="0.50"/>
<circle cx="303.2" cy="693.6" r="0.6" fill="#7438c0" opacity="0.20"/>
<circle cx="292.0" cy="724.5" r="0.5" fill="#7438c0" opacity="0.34"/>
<circle cx="304.2" cy="700.3" r="0.7" fill="#7438c0" opacity="0.43"/>
<circle cx="289.5" cy="696.3" r="1.0" fill="#7438c0" opacity="0.36"/>
<circle cx="297.2" cy="720.2" r="1.0" fill="#7438c0" opacity="0.45"/>
<circle cx="324.6" cy="694.2" r="0.5" fill="#7438c0" opacity="0.21"/>
<circle cx="289.0" cy="720.7" r="0.5" fill="#7438c0" opacity="0.43"/>
<circle cx="310.9" cy="685.3" r="0.5" fill="#7438c0" opacity="0.43"/>
<circle cx="286.6" cy="716.9" r="0.8" fill="#7438c0" opacity="0.40"/>
<circle cx="283.2" cy="720.0" r="1.0" fill="#7438c0" opacity="0.48"/>
<circle cx="294.5" cy="694.5" r="0.7" fill="#7438c0" opacity="0.24"/>
<circle cx="327.1" cy="690.7" r="0.9" fill="#7438c0" opacity="0.44"/>
<circle cx="329.8" cy="703.6" r="0.6" fill="#7438c0" opacity="0.42"/>
<circle cx="304.7" cy="727.0" r="0.5" fill="#7438c0" opacity="0.45"/>
<circle cx="291.6" cy="706.0" r="1.0" fill="#7438c0" opacity="0.18"/>
<circle cx="328.6" cy="694.6" r="0.5" fill="#7438c0" opacity="0.42"/>
<circle cx="282.3" cy="693.0" r="0.8" fill="#7438c0" opacity="0.30"/>
<circle cx="314.0" cy="701.6" r="0.9" fill="#7438c0" opacity="0.19"/>
<circle cx="304.8" cy="714.4" r="1.0" fill="#7438c0" opacity="0.30"/>
<circle cx="304.3" cy="690.9" r="0.9" fill="#7438c0" opacity="0.38"/>
<circle cx="322.6" cy="716.4" r="0.9" fill="#7438c0" opacity="0.23"/>
<circle cx="298.0" cy="692.7" r="0.7" fill="#7438c0" opacity="0.47"/>
<circle cx="332.8" cy="695.1" r="0.7" fill="#7438c0" opacity="0.35"/>
<circle cx="315.2" cy="682.1" r="0.7" fill="#7438c0" opacity="0.45"/>
<circle cx="284.0" cy="721.0" r="0.7" fill="#7438c0" opacity="0.19"/>
<circle cx="306.3" cy="694.3" r="0.9" fill="#7438c0" opacity="0.17"/>
<circle cx="327.1" cy="703.5" r="0.9" fill="#7438c0" opacity="0.20"/>
<circle cx="295.1" cy="691.9" r="0.6" fill="#7438c0" opacity="0.44"/>
<circle cx="325.5" cy="709.0" r="0.5" fill="#7438c0" opacity="0.45"/>
<circle cx="310.5" cy="701.7" r="0.7" fill="#7438c0" opacity="0.31"/>
<circle cx="301.7" cy="681.4" r="0.7" fill="#7438c0" opacity="0.48"/>
<circle cx="310.5" cy="714.6" r="0.9" fill="#7438c0" opacity="0.19"/>
<circle cx="314.2" cy="723.4" r="0.7" fill="#7438c0" opacity="0.21"/>
<circle cx="324.0" cy="696.7" r="0.9" fill="#7438c0" opacity="0.24"/>
<circle cx="317.7" cy="698.1" r="1.0" fill="#7438c0" opacity="0.36"/>
<circle cx="330.8" cy="700.5" r="0.8" fill="#7438c0" opacity="0.34"/>
<circle cx="317.9" cy="690.1" r="0.5" fill="#7438c0" opacity="0.47"/>
<circle cx="314.4" cy="683.1" r="0.9" fill="#7438c0" opacity="0.23"/>
<circle cx="281.5" cy="710.8" r="1.0" fill="#7438c0" opacity="0.47"/>
<circle cx="318.8" cy="724.7" r="0.8" fill="#7438c0" opacity="0.29"/>
<circle cx="311.6" cy="714.1" r="0.7" fill="#7438c0" opacity="0.32"/>
<circle cx="304.5" cy="722.0" r="0.8" fill="#7438c0" opacity="0.42"/>
<circle cx="296.8" cy="698.9" r="1.0" fill="#7438c0" opacity="0.28"/>
<circle cx="333.5" cy="698.0" r="0.5" fill="#7438c0" opacity="0.35"/>
<circle cx="323.5" cy="701.4" r="0.8" fill="#7438c0" opacity="0.26"/>
<circle cx="319.0" cy="707.3" r="0.5" fill="#7438c0" opacity="0.25"/>
<circle cx="291.9" cy="689.6" r="1.0" fill="#7438c0" opacity="0.39"/>
<circle cx="288.6" cy="725.9" r="0.8" fill="#7438c0" opacity="0.34"/>
<circle cx="321.4" cy="687.4" r="0.7" fill="#7438c0" opacity="0.36"/>
<circle cx="297.8" cy="731.4" r="0.6" fill="#7438c0" opacity="0.49"/>
<circle cx="309.0" cy="706.1" r="0.8" fill="#7438c0" opacity="0.22"/>
<circle cx="296.7" cy="704.5" r="1.0" fill="#7438c0" opacity="0.38"/>
<circle cx="295.5" cy="680.1" r="1.0" fill="#7438c0" opacity="0.39"/>
<circle cx="306.1" cy="703.8" r="0.5" fill="#7438c0" opacity="0.30"/>
<circle cx="321.9" cy="702.0" r="0.8" fill="#7438c0" opacity="0.15"/>
<circle cx="283.3" cy="718.5" r="0.8" fill="#7438c0" opacity="0.44"/>
<circle cx="319.1" cy="706.0" r="0.6" fill="#7438c0" opacity="0.44"/>
<circle cx="328.3" cy="721.2" r="0.6" fill="#7438c0" opacity="0.46"/>
<circle cx="290.4" cy="703.4" r="1.0" fill="#7438c0" opacity="0.29"/>
<circle cx="304.0" cy="698.1" r="0.9" fill="#7438c0" opacity="0.49"/>
<circle cx="325.1" cy="720.6" r="0.6" fill="#7438c0" opacity="0.20"/>
<circle cx="291.3" cy="722.3" r="1.0" fill="#7438c0" opacity="0.50"/>
<circle cx="328.7" cy="704.1" r="0.8" fill="#7438c0" opacity="0.21"/>
<circle cx="303.3" cy="684.3" r="0.7" fill="#7438c0" opacity="0.47"/>
<circle cx="306.1" cy="715.6" r="0.5" fill="#7438c0" opacity="0.20"/>
<circle cx="285.0" cy="691.7" r="0.5" fill="#7438c0" opacity="0.33"/>
<circle cx="287.5" cy="695.5" r="0.7" fill="#7438c0" opacity="0.34"/>
<circle cx="313.0" cy="705.6" r="0.8" fill="#6420b8" opacity="0.61"/>
<circle cx="307.0" cy="691.6" r="1.3" fill="#6420b8" opacity="0.61"/>
<circle cx="322.2" cy="715.4" r="0.8" fill="#6420b8" opacity="0.65"/>
<circle cx="307.6" cy="692.2" r="1.1" fill="#6420b8" opacity="0.88"/>
<circle cx="287.8" cy="710.7" r="1.5" fill="#6420b8" opacity="0.77"/>
<circle cx="309.4" cy="711.5" r="0.6" fill="#6420b8" opacity="0.65"/>
<circle cx="325.1" cy="716.7" r="0.8" fill="#6420b8" opacity="0.64"/>
<circle cx="280.0" cy="703.0" r="0.7" fill="#6420b8" opacity="0.57"/>
<circle cx="301.1" cy="719.6" r="1.5" fill="#6420b8" opacity="0.82"/>
<circle cx="296.3" cy="709.8" r="0.6" fill="#6420b8" opacity="0.56"/>
<circle cx="319.1" cy="687.0" r="0.6" fill="#6420b8" opacity="0.78"/>
<circle cx="324.6" cy="712.0" r="0.7" fill="#6420b8" opacity="0.55"/>
</g>
<circle cx="306.4" cy="705" r="28.3" fill="none" stroke="#6e5a9e" stroke-width="1" stroke-opacity="0.5"/>
<circle cx="248.6" cy="763.9" r="29" fill="url(#dishg)"/>
<g filter="url(#b05)">
<circle cx="247.5" cy="739.9" r="0.8" fill="#7438c0" opacity="0.21"/>
<circle cx="239.5" cy="747.5" r="0.8" fill="#7438c0" opacity="0.18"/>
<circle cx="250.0" cy="762.9" r="0.6" fill="#7438c0" opacity="0.29"/>
<circle cx="251.3" cy="771.9" r="0.9" fill="#7438c0" opacity="0.50"/>
<circle cx="241.1" cy="776.5" r="0.9" fill="#7438c0" opacity="0.23"/>
<circle cx="229.5" cy="777.7" r="0.7" fill="#7438c0" opacity="0.20"/>
<circle cx="267.5" cy="772.9" r="1.0" fill="#7438c0" opacity="0.47"/>
<circle cx="264.9" cy="775.7" r="0.7" fill="#7438c0" opacity="0.22"/>
<circle cx="238.9" cy="746.4" r="0.9" fill="#7438c0" opacity="0.25"/>
<circle cx="272.1" cy="753.5" r="0.7" fill="#7438c0" opacity="0.20"/>
<circle cx="238.5" cy="764.9" r="0.9" fill="#7438c0" opacity="0.39"/>
<circle cx="223.8" cy="750.7" r="0.5" fill="#7438c0" opacity="0.40"/>
<circle cx="251.6" cy="754.8" r="0.6" fill="#7438c0" opacity="0.17"/>
<circle cx="227.6" cy="751.9" r="0.7" fill="#7438c0" opacity="0.39"/>
<circle cx="232.5" cy="781.7" r="0.6" fill="#7438c0" opacity="0.49"/>
<circle cx="247.0" cy="764.5" r="0.5" fill="#7438c0" opacity="0.40"/>
<circle cx="263.6" cy="746.9" r="0.5" fill="#7438c0" opacity="0.46"/>
<circle cx="246.6" cy="754.5" r="0.7" fill="#7438c0" opacity="0.39"/>
<circle cx="254.4" cy="764.0" r="0.7" fill="#7438c0" opacity="0.46"/>
<circle cx="264.6" cy="763.5" r="1.0" fill="#7438c0" opacity="0.43"/>
<circle cx="263.0" cy="747.6" r="1.0" fill="#7438c0" opacity="0.38"/>
<circle cx="268.8" cy="757.0" r="0.6" fill="#7438c0" opacity="0.33"/>
<circle cx="232.2" cy="765.7" r="0.7" fill="#7438c0" opacity="0.33"/>
<circle cx="237.2" cy="756.9" r="0.6" fill="#7438c0" opacity="0.33"/>
<circle cx="230.2" cy="763.5" r="0.8" fill="#7438c0" opacity="0.21"/>
<circle cx="234.0" cy="760.9" r="0.9" fill="#7438c0" opacity="0.40"/>
<circle cx="252.6" cy="743.8" r="0.6" fill="#7438c0" opacity="0.47"/>
<circle cx="231.2" cy="762.7" r="0.6" fill="#7438c0" opacity="0.29"/>
<circle cx="242.0" cy="739.0" r="0.7" fill="#7438c0" opacity="0.41"/>
<circle cx="253.0" cy="782.5" r="0.7" fill="#7438c0" opacity="0.26"/>
<circle cx="232.9" cy="783.0" r="0.9" fill="#7438c0" opacity="0.22"/>
<circle cx="251.2" cy="788.9" r="0.8" fill="#7438c0" opacity="0.39"/>
<circle cx="233.0" cy="746.1" r="0.6" fill="#7438c0" opacity="0.17"/>
<circle cx="245.3" cy="767.8" r="1.0" fill="#7438c0" opacity="0.33"/>
<circle cx="235.2" cy="739.4" r="0.9" fill="#7438c0" opacity="0.23"/>
<circle cx="243.7" cy="771.9" r="0.9" fill="#7438c0" opacity="0.41"/>
<circle cx="231.4" cy="765.2" r="0.6" fill="#7438c0" opacity="0.32"/>
<circle cx="242.2" cy="737.8" r="1.0" fill="#7438c0" opacity="0.45"/>
<circle cx="231.5" cy="770.8" r="0.6" fill="#7438c0" opacity="0.49"/>
<circle cx="253.2" cy="774.2" r="0.6" fill="#7438c0" opacity="0.47"/>
<circle cx="258.4" cy="750.8" r="1.0" fill="#7438c0" opacity="0.46"/>
<circle cx="237.4" cy="769.4" r="0.9" fill="#7438c0" opacity="0.28"/>
<circle cx="268.4" cy="782.3" r="0.7" fill="#7438c0" opacity="0.29"/>
<circle cx="236.7" cy="755.8" r="0.5" fill="#7438c0" opacity="0.29"/>
<circle cx="246.4" cy="766.0" r="0.7" fill="#7438c0" opacity="0.42"/>
<circle cx="236.9" cy="784.2" r="0.8" fill="#7438c0" opacity="0.22"/>
<circle cx="271.7" cy="766.9" r="0.8" fill="#7438c0" opacity="0.25"/>
<circle cx="256.7" cy="788.9" r="1.0" fill="#7438c0" opacity="0.23"/>
<circle cx="230.1" cy="752.8" r="0.6" fill="#7438c0" opacity="0.16"/>
<circle cx="238.2" cy="784.2" r="0.8" fill="#7438c0" opacity="0.33"/>
<circle cx="258.0" cy="773.0" r="0.6" fill="#7438c0" opacity="0.30"/>
<circle cx="231.0" cy="784.3" r="0.5" fill="#7438c0" opacity="0.50"/>
<circle cx="250.2" cy="790.2" r="0.6" fill="#7438c0" opacity="0.36"/>
<circle cx="244.6" cy="767.8" r="0.9" fill="#7438c0" opacity="0.43"/>
<circle cx="245.6" cy="788.8" r="0.7" fill="#7438c0" opacity="0.50"/>
<circle cx="265.1" cy="769.8" r="0.6" fill="#7438c0" opacity="0.37"/>
<circle cx="253.2" cy="738.2" r="0.8" fill="#7438c0" opacity="0.29"/>
<circle cx="251.4" cy="755.2" r="0.6" fill="#7438c0" opacity="0.41"/>
<circle cx="222.2" cy="774.3" r="0.5" fill="#7438c0" opacity="0.31"/>
<circle cx="248.9" cy="765.2" r="0.5" fill="#7438c0" opacity="0.18"/>
<circle cx="235.9" cy="777.6" r="0.8" fill="#7438c0" opacity="0.25"/>
<circle cx="242.5" cy="744.4" r="1.0" fill="#7438c0" opacity="0.21"/>
<circle cx="228.7" cy="762.6" r="0.7" fill="#7438c0" opacity="0.45"/>
<circle cx="255.3" cy="789.7" r="0.7" fill="#7438c0" opacity="0.27"/>
<circle cx="232.6" cy="749.8" r="0.6" fill="#7438c0" opacity="0.18"/>
<circle cx="265.2" cy="759.1" r="0.5" fill="#7438c0" opacity="0.38"/>
<circle cx="232.7" cy="760.7" r="0.6" fill="#7438c0" opacity="0.45"/>
<circle cx="238.9" cy="779.5" r="1.0" fill="#7438c0" opacity="0.28"/>
<circle cx="239.3" cy="770.5" r="0.8" fill="#7438c0" opacity="0.38"/>
<circle cx="231.5" cy="769.9" r="0.6" fill="#7438c0" opacity="0.43"/>
<circle cx="223.6" cy="770.8" r="0.7" fill="#7438c0" opacity="0.41"/>
<circle cx="261.7" cy="766.3" r="1.0" fill="#7438c0" opacity="0.39"/>
<circle cx="239.6" cy="746.0" r="0.7" fill="#7438c0" opacity="0.22"/>
<circle cx="259.2" cy="784.1" r="0.9" fill="#7438c0" opacity="0.24"/>
<circle cx="242.1" cy="755.6" r="0.8" fill="#7438c0" opacity="0.21"/>
<circle cx="232.7" cy="762.9" r="0.8" fill="#7438c0" opacity="0.20"/>
<circle cx="226.4" cy="766.2" r="0.5" fill="#7438c0" opacity="0.26"/>
<circle cx="239.5" cy="745.0" r="0.8" fill="#7438c0" opacity="0.42"/>
<circle cx="236.5" cy="758.1" r="0.7" fill="#7438c0" opacity="0.44"/>
<circle cx="226.1" cy="753.9" r="0.7" fill="#7438c0" opacity="0.31"/>
<circle cx="273.9" cy="759.0" r="0.8" fill="#7438c0" opacity="0.19"/>
<circle cx="244.6" cy="760.6" r="1.0" fill="#7438c0" opacity="0.49"/>
<circle cx="246.6" cy="749.3" r="1.0" fill="#7438c0" opacity="0.21"/>
<circle cx="258.2" cy="745.8" r="0.5" fill="#7438c0" opacity="0.46"/>
<circle cx="224.5" cy="773.4" r="0.9" fill="#7438c0" opacity="0.34"/>
<circle cx="256.9" cy="754.2" r="1.0" fill="#7438c0" opacity="0.27"/>
<circle cx="264.9" cy="766.6" r="0.5" fill="#7438c0" opacity="0.18"/>
<circle cx="241.6" cy="757.0" r="0.5" fill="#7438c0" opacity="0.25"/>
<circle cx="243.7" cy="790.7" r="1.0" fill="#7438c0" opacity="0.45"/>
<circle cx="267.4" cy="762.7" r="0.9" fill="#7438c0" opacity="0.25"/>
<circle cx="271.5" cy="752.5" r="0.9" fill="#7438c0" opacity="0.23"/>
<circle cx="271.5" cy="778.8" r="0.8" fill="#7438c0" opacity="0.36"/>
<circle cx="255.6" cy="755.7" r="0.9" fill="#7438c0" opacity="0.31"/>
<circle cx="252.9" cy="745.2" r="0.6" fill="#7438c0" opacity="0.48"/>
<circle cx="243.8" cy="788.0" r="0.9" fill="#7438c0" opacity="0.24"/>
<circle cx="242.5" cy="747.1" r="0.6" fill="#7438c0" opacity="0.23"/>
<circle cx="265.1" cy="759.0" r="0.8" fill="#7438c0" opacity="0.33"/>
<circle cx="272.9" cy="768.0" r="0.9" fill="#7438c0" opacity="0.46"/>
<circle cx="240.5" cy="774.1" r="0.7" fill="#7438c0" opacity="0.41"/>
<circle cx="238.7" cy="748.7" r="0.8" fill="#7438c0" opacity="0.20"/>
<circle cx="265.6" cy="754.3" r="0.8" fill="#7438c0" opacity="0.43"/>
<circle cx="256.4" cy="786.8" r="0.7" fill="#7438c0" opacity="0.43"/>
<circle cx="261.0" cy="772.2" r="0.8" fill="#7438c0" opacity="0.32"/>
<circle cx="233.1" cy="779.0" r="0.6" fill="#7438c0" opacity="0.30"/>
<circle cx="274.0" cy="764.2" r="0.6" fill="#7438c0" opacity="0.44"/>
<circle cx="227.7" cy="756.8" r="0.8" fill="#7438c0" opacity="0.19"/>
<circle cx="251.2" cy="748.8" r="1.0" fill="#7438c0" opacity="0.43"/>
<circle cx="237.4" cy="740.8" r="0.7" fill="#7438c0" opacity="0.39"/>
<circle cx="260.4" cy="760.3" r="0.5" fill="#7438c0" opacity="0.29"/>
<circle cx="237.6" cy="763.2" r="0.6" fill="#7438c0" opacity="0.45"/>
<circle cx="240.2" cy="771.0" r="0.6" fill="#7438c0" opacity="0.35"/>
<circle cx="255.8" cy="782.1" r="0.8" fill="#7438c0" opacity="0.30"/>
<circle cx="222.6" cy="763.3" r="0.5" fill="#7438c0" opacity="0.48"/>
<circle cx="250.3" cy="769.2" r="0.9" fill="#7438c0" opacity="0.35"/>
<circle cx="235.7" cy="760.8" r="0.9" fill="#7438c0" opacity="0.26"/>
<circle cx="246.6" cy="750.5" r="0.8" fill="#7438c0" opacity="0.38"/>
<circle cx="235.0" cy="778.1" r="0.5" fill="#7438c0" opacity="0.38"/>
<circle cx="244.6" cy="753.5" r="0.8" fill="#7438c0" opacity="0.41"/>
<circle cx="269.6" cy="779.3" r="1.0" fill="#7438c0" opacity="0.17"/>
<circle cx="248.7" cy="772.1" r="0.6" fill="#7438c0" opacity="0.18"/>
<circle cx="234.4" cy="764.9" r="0.6" fill="#7438c0" opacity="0.31"/>
<circle cx="231.1" cy="782.1" r="0.9" fill="#7438c0" opacity="0.19"/>
<circle cx="249.0" cy="766.4" r="0.6" fill="#7438c0" opacity="0.19"/>
<circle cx="240.4" cy="740.2" r="1.0" fill="#7438c0" opacity="0.22"/>
<circle cx="272.7" cy="769.5" r="0.7" fill="#7438c0" opacity="0.48"/>
<circle cx="236.2" cy="773.8" r="0.5" fill="#7438c0" opacity="0.48"/>
<circle cx="229.8" cy="762.5" r="0.7" fill="#7438c0" opacity="0.42"/>
<circle cx="258.1" cy="746.8" r="0.6" fill="#7438c0" opacity="0.29"/>
<circle cx="262.7" cy="752.4" r="0.8" fill="#7438c0" opacity="0.35"/>
<circle cx="227.7" cy="769.1" r="0.6" fill="#7438c0" opacity="0.35"/>
<circle cx="253.9" cy="757.9" r="0.7" fill="#7438c0" opacity="0.46"/>
<circle cx="251.8" cy="763.5" r="0.8" fill="#7438c0" opacity="0.37"/>
<circle cx="259.4" cy="747.7" r="0.5" fill="#7438c0" opacity="0.26"/>
<circle cx="243.0" cy="740.3" r="0.6" fill="#7438c0" opacity="0.37"/>
<circle cx="235.9" cy="744.7" r="0.5" fill="#7438c0" opacity="0.30"/>
<circle cx="238.6" cy="783.5" r="0.7" fill="#7438c0" opacity="0.19"/>
<circle cx="241.3" cy="750.5" r="0.9" fill="#7438c0" opacity="0.26"/>
<circle cx="224.1" cy="756.6" r="0.5" fill="#7438c0" opacity="0.41"/>
<circle cx="273.6" cy="775.3" r="0.5" fill="#7438c0" opacity="0.40"/>
<circle cx="240.4" cy="772.7" r="0.7" fill="#7438c0" opacity="0.33"/>
<circle cx="240.0" cy="769.0" r="0.8" fill="#7438c0" opacity="0.26"/>
<circle cx="265.8" cy="760.3" r="0.7" fill="#7438c0" opacity="0.23"/>
<circle cx="264.4" cy="760.8" r="0.8" fill="#7438c0" opacity="0.44"/>
<circle cx="229.3" cy="779.3" r="0.6" fill="#7438c0" opacity="0.19"/>
<circle cx="267.0" cy="768.9" r="1.0" fill="#7438c0" opacity="0.22"/>
<circle cx="225.5" cy="773.0" r="0.6" fill="#7438c0" opacity="0.20"/>
<circle cx="230.2" cy="761.7" r="1.0" fill="#7438c0" opacity="0.46"/>
<circle cx="250.2" cy="785.1" r="0.7" fill="#7438c0" opacity="0.16"/>
<circle cx="223.1" cy="773.2" r="0.6" fill="#7438c0" opacity="0.36"/>
<circle cx="246.8" cy="757.0" r="1.0" fill="#7438c0" opacity="0.19"/>
<circle cx="240.9" cy="786.7" r="0.5" fill="#7438c0" opacity="0.28"/>
<circle cx="262.3" cy="777.9" r="0.5" fill="#7438c0" opacity="0.20"/>
<circle cx="250.0" cy="771.9" r="0.5" fill="#7438c0" opacity="0.22"/>
<circle cx="238.1" cy="762.7" r="0.9" fill="#7438c0" opacity="0.30"/>
<circle cx="248.4" cy="777.9" r="1.0" fill="#7438c0" opacity="0.17"/>
<circle cx="248.2" cy="755.0" r="1.0" fill="#7438c0" opacity="0.29"/>
<circle cx="227.0" cy="748.7" r="0.5" fill="#7438c0" opacity="0.17"/>
<circle cx="241.0" cy="743.5" r="0.9" fill="#7438c0" opacity="0.25"/>
<circle cx="236.3" cy="764.1" r="0.7" fill="#7438c0" opacity="0.25"/>
<circle cx="235.3" cy="755.9" r="0.6" fill="#7438c0" opacity="0.37"/>
<circle cx="270.5" cy="776.9" r="0.7" fill="#7438c0" opacity="0.23"/>
<circle cx="263.8" cy="777.3" r="0.8" fill="#7438c0" opacity="0.40"/>
<circle cx="235.8" cy="776.9" r="1.0" fill="#7438c0" opacity="0.25"/>
<circle cx="275.3" cy="760.7" r="1.0" fill="#7438c0" opacity="0.48"/>
<circle cx="247.4" cy="789.5" r="0.8" fill="#7438c0" opacity="0.22"/>
<circle cx="271.5" cy="763.5" r="0.9" fill="#7438c0" opacity="0.35"/>
<circle cx="271.8" cy="776.6" r="0.6" fill="#7438c0" opacity="0.24"/>
<circle cx="239.3" cy="755.6" r="0.7" fill="#7438c0" opacity="0.40"/>
<circle cx="267.6" cy="777.0" r="0.5" fill="#7438c0" opacity="0.32"/>
<circle cx="234.7" cy="744.9" r="0.5" fill="#7438c0" opacity="0.22"/>
<circle cx="265.8" cy="759.5" r="0.7" fill="#7438c0" opacity="0.28"/>
<circle cx="240.5" cy="740.8" r="0.8" fill="#7438c0" opacity="0.29"/>
<circle cx="230.1" cy="755.3" r="0.6" fill="#7438c0" opacity="0.48"/>
<circle cx="273.1" cy="758.4" r="1.0" fill="#7438c0" opacity="0.31"/>
<circle cx="256.0" cy="752.1" r="0.9" fill="#7438c0" opacity="0.40"/>
<circle cx="272.6" cy="754.1" r="1.0" fill="#7438c0" opacity="0.24"/>
<circle cx="253.2" cy="744.8" r="0.6" fill="#7438c0" opacity="0.28"/>
<circle cx="256.5" cy="739.0" r="1.0" fill="#7438c0" opacity="0.38"/>
<circle cx="254.0" cy="773.7" r="0.8" fill="#7438c0" opacity="0.22"/>
<circle cx="243.9" cy="771.7" r="0.5" fill="#7438c0" opacity="0.40"/>
<circle cx="252.9" cy="789.7" r="0.6" fill="#7438c0" opacity="0.45"/>
<circle cx="243.8" cy="777.8" r="0.7" fill="#7438c0" opacity="0.15"/>
<circle cx="232.5" cy="770.8" r="0.5" fill="#7438c0" opacity="0.45"/>
<circle cx="248.2" cy="764.3" r="1.0" fill="#7438c0" opacity="0.23"/>
<circle cx="248.5" cy="768.3" r="0.5" fill="#7438c0" opacity="0.40"/>
<circle cx="231.0" cy="754.0" r="0.6" fill="#7438c0" opacity="0.25"/>
<circle cx="265.6" cy="760.7" r="1.0" fill="#7438c0" opacity="0.46"/>
<circle cx="267.2" cy="782.4" r="0.5" fill="#7438c0" opacity="0.40"/>
<circle cx="257.3" cy="741.8" r="0.8" fill="#7438c0" opacity="0.43"/>
<circle cx="260.4" cy="781.1" r="0.6" fill="#7438c0" opacity="0.29"/>
<circle cx="257.2" cy="786.2" r="0.8" fill="#7438c0" opacity="0.42"/>
<circle cx="233.4" cy="748.0" r="1.0" fill="#7438c0" opacity="0.43"/>
<circle cx="233.8" cy="757.3" r="1.0" fill="#7438c0" opacity="0.28"/>
<circle cx="261.7" cy="773.7" r="0.9" fill="#7438c0" opacity="0.48"/>
<circle cx="234.5" cy="745.6" r="1.0" fill="#7438c0" opacity="0.42"/>
<circle cx="230.4" cy="770.4" r="0.9" fill="#7438c0" opacity="0.26"/>
<circle cx="265.9" cy="778.1" r="0.9" fill="#7438c0" opacity="0.24"/>
<circle cx="237.7" cy="739.3" r="0.5" fill="#7438c0" opacity="0.20"/>
<circle cx="232.2" cy="764.6" r="1.0" fill="#7438c0" opacity="0.50"/>
<circle cx="224.8" cy="772.4" r="0.8" fill="#7438c0" opacity="0.21"/>
<circle cx="260.3" cy="761.8" r="0.5" fill="#7438c0" opacity="0.31"/>
<circle cx="268.2" cy="766.1" r="0.7" fill="#7438c0" opacity="0.48"/>
<circle cx="226.2" cy="777.4" r="0.9" fill="#7438c0" opacity="0.36"/>
<circle cx="249.8" cy="779.5" r="0.7" fill="#7438c0" opacity="0.29"/>
<circle cx="236.3" cy="747.9" r="0.6" fill="#7438c0" opacity="0.36"/>
<circle cx="261.4" cy="763.6" r="0.7" fill="#7438c0" opacity="0.15"/>
<circle cx="254.2" cy="767.6" r="0.7" fill="#7438c0" opacity="0.44"/>
<circle cx="239.6" cy="737.5" r="1.0" fill="#7438c0" opacity="0.36"/>
<circle cx="245.8" cy="762.4" r="0.7" fill="#7438c0" opacity="0.24"/>
<circle cx="243.3" cy="758.9" r="0.8" fill="#7438c0" opacity="0.28"/>
<circle cx="230.6" cy="764.8" r="0.5" fill="#7438c0" opacity="0.41"/>
<circle cx="255.4" cy="743.0" r="0.5" fill="#7438c0" opacity="0.36"/>
<circle cx="268.1" cy="743.4" r="0.9" fill="#7438c0" opacity="0.17"/>
<circle cx="265.3" cy="747.9" r="0.6" fill="#7438c0" opacity="0.47"/>
<circle cx="261.0" cy="740.0" r="0.6" fill="#7438c0" opacity="0.35"/>
<circle cx="237.4" cy="774.6" r="0.9" fill="#7438c0" opacity="0.37"/>
<circle cx="238.3" cy="782.1" r="1.0" fill="#7438c0" opacity="0.35"/>
<circle cx="266.9" cy="752.8" r="1.0" fill="#7438c0" opacity="0.16"/>
<circle cx="228.1" cy="769.2" r="0.9" fill="#7438c0" opacity="0.49"/>
<circle cx="234.6" cy="750.2" r="0.8" fill="#7438c0" opacity="0.34"/>
<circle cx="240.9" cy="737.3" r="0.5" fill="#7438c0" opacity="0.26"/>
<circle cx="253.5" cy="759.0" r="0.9" fill="#7438c0" opacity="0.16"/>
<circle cx="233.4" cy="743.5" r="0.6" fill="#7438c0" opacity="0.28"/>
<circle cx="252.1" cy="787.5" r="0.8" fill="#7438c0" opacity="0.36"/>
<circle cx="238.7" cy="783.3" r="1.0" fill="#7438c0" opacity="0.42"/>
<circle cx="262.1" cy="759.7" r="0.8" fill="#7438c0" opacity="0.28"/>
<circle cx="234.1" cy="784.9" r="0.6" fill="#7438c0" opacity="0.35"/>
<circle cx="252.7" cy="736.7" r="0.5" fill="#7438c0" opacity="0.24"/>
<circle cx="221.1" cy="765.1" r="0.5" fill="#7438c0" opacity="0.44"/>
<circle cx="231.8" cy="776.6" r="1.0" fill="#7438c0" opacity="0.17"/>
<circle cx="243.2" cy="773.7" r="0.5" fill="#7438c0" opacity="0.26"/>
<circle cx="242.0" cy="743.3" r="0.5" fill="#7438c0" opacity="0.43"/>
<circle cx="237.9" cy="763.4" r="0.9" fill="#7438c0" opacity="0.44"/>
<circle cx="254.3" cy="790.8" r="0.9" fill="#7438c0" opacity="0.23"/>
<circle cx="275.1" cy="764.1" r="0.9" fill="#7438c0" opacity="0.18"/>
<circle cx="251.2" cy="739.0" r="0.8" fill="#7438c0" opacity="0.44"/>
<circle cx="264.8" cy="762.3" r="1.0" fill="#7438c0" opacity="0.47"/>
<circle cx="239.5" cy="785.5" r="0.9" fill="#7438c0" opacity="0.45"/>
<circle cx="235.0" cy="757.8" r="0.6" fill="#7438c0" opacity="0.34"/>
<circle cx="266.0" cy="783.7" r="1.0" fill="#7438c0" opacity="0.23"/>
<circle cx="241.0" cy="741.9" r="0.5" fill="#7438c0" opacity="0.42"/>
<circle cx="250.2" cy="748.3" r="0.5" fill="#7438c0" opacity="0.25"/>
<circle cx="251.2" cy="744.7" r="0.9" fill="#7438c0" opacity="0.21"/>
<circle cx="261.8" cy="774.3" r="1.0" fill="#7438c0" opacity="0.21"/>
<circle cx="270.7" cy="774.9" r="0.5" fill="#7438c0" opacity="0.38"/>
<circle cx="260.8" cy="771.0" r="0.8" fill="#7438c0" opacity="0.46"/>
<circle cx="232.6" cy="774.2" r="0.5" fill="#7438c0" opacity="0.27"/>
<circle cx="249.9" cy="789.1" r="0.9" fill="#7438c0" opacity="0.42"/>
<circle cx="225.3" cy="759.2" r="0.5" fill="#7438c0" opacity="0.28"/>
<circle cx="244.6" cy="778.5" r="0.9" fill="#7438c0" opacity="0.22"/>
<circle cx="241.7" cy="777.3" r="1.0" fill="#7438c0" opacity="0.37"/>
<circle cx="231.2" cy="766.0" r="1.0" fill="#7438c0" opacity="0.48"/>
<circle cx="228.3" cy="770.6" r="1.0" fill="#7438c0" opacity="0.24"/>
<circle cx="248.1" cy="773.0" r="0.8" fill="#7438c0" opacity="0.42"/>
<circle cx="259.0" cy="779.5" r="1.0" fill="#7438c0" opacity="0.32"/>
<circle cx="229.4" cy="781.4" r="1.0" fill="#7438c0" opacity="0.28"/>
<circle cx="264.8" cy="779.8" r="0.9" fill="#7438c0" opacity="0.47"/>
<circle cx="240.2" cy="750.6" r="0.8" fill="#7438c0" opacity="0.25"/>
<circle cx="230.3" cy="770.4" r="1.0" fill="#7438c0" opacity="0.47"/>
<circle cx="266.2" cy="755.1" r="1.0" fill="#7438c0" opacity="0.20"/>
<circle cx="268.6" cy="753.1" r="1.0" fill="#7438c0" opacity="0.29"/>
<circle cx="253.1" cy="763.6" r="1.0" fill="#7438c0" opacity="0.44"/>
<circle cx="230.4" cy="782.3" r="0.6" fill="#7438c0" opacity="0.41"/>
<circle cx="230.7" cy="767.5" r="0.6" fill="#7438c0" opacity="0.43"/>
<circle cx="247.6" cy="755.5" r="1.0" fill="#7438c0" opacity="0.23"/>
<circle cx="235.6" cy="776.8" r="0.8" fill="#7438c0" opacity="0.46"/>
<circle cx="269.9" cy="756.3" r="0.7" fill="#7438c0" opacity="0.19"/>
<circle cx="267.2" cy="772.5" r="0.8" fill="#7438c0" opacity="0.31"/>
<circle cx="266.8" cy="761.9" r="0.7" fill="#7438c0" opacity="0.30"/>
<circle cx="261.6" cy="788.2" r="0.8" fill="#7438c0" opacity="0.34"/>
<circle cx="235.9" cy="770.3" r="0.6" fill="#7438c0" opacity="0.32"/>
<circle cx="222.1" cy="773.2" r="0.8" fill="#7438c0" opacity="0.22"/>
<circle cx="259.3" cy="767.7" r="0.7" fill="#7438c0" opacity="0.42"/>
<circle cx="259.2" cy="755.0" r="0.9" fill="#7438c0" opacity="0.30"/>
<circle cx="228.4" cy="759.1" r="0.5" fill="#7438c0" opacity="0.17"/>
<circle cx="236.9" cy="743.4" r="0.7" fill="#7438c0" opacity="0.47"/>
<circle cx="255.2" cy="749.8" r="0.5" fill="#7438c0" opacity="0.34"/>
<circle cx="241.0" cy="752.8" r="0.5" fill="#7438c0" opacity="0.32"/>
<circle cx="272.4" cy="769.1" r="0.8" fill="#7438c0" opacity="0.25"/>
<circle cx="235.7" cy="768.5" r="0.6" fill="#7438c0" opacity="0.21"/>
<circle cx="256.3" cy="746.4" r="0.9" fill="#7438c0" opacity="0.27"/>
<circle cx="256.3" cy="743.3" r="0.8" fill="#7438c0" opacity="0.29"/>
<circle cx="237.1" cy="759.2" r="1.0" fill="#7438c0" opacity="0.39"/>
<circle cx="226.4" cy="759.3" r="0.5" fill="#7438c0" opacity="0.27"/>
<circle cx="251.8" cy="789.8" r="0.5" fill="#7438c0" opacity="0.31"/>
<circle cx="265.6" cy="745.4" r="0.9" fill="#7438c0" opacity="0.26"/>
<circle cx="251.2" cy="787.6" r="0.6" fill="#7438c0" opacity="0.40"/>
<circle cx="234.0" cy="784.0" r="0.8" fill="#7438c0" opacity="0.44"/>
<circle cx="266.0" cy="762.3" r="1.0" fill="#7438c0" opacity="0.15"/>
<circle cx="252.1" cy="760.5" r="0.8" fill="#7438c0" opacity="0.29"/>
<circle cx="250.6" cy="748.1" r="0.6" fill="#7438c0" opacity="0.42"/>
<circle cx="225.1" cy="756.2" r="0.7" fill="#7438c0" opacity="0.16"/>
<circle cx="250.4" cy="750.7" r="0.7" fill="#7438c0" opacity="0.15"/>
<circle cx="247.3" cy="787.0" r="0.9" fill="#7438c0" opacity="0.37"/>
<circle cx="225.8" cy="772.4" r="0.9" fill="#7438c0" opacity="0.22"/>
<circle cx="227.2" cy="759.1" r="0.9" fill="#7438c0" opacity="0.22"/>
<circle cx="242.4" cy="779.3" r="0.5" fill="#7438c0" opacity="0.27"/>
<circle cx="245.8" cy="742.5" r="0.6" fill="#7438c0" opacity="0.41"/>
<circle cx="266.9" cy="780.4" r="0.5" fill="#7438c0" opacity="0.18"/>
<circle cx="248.4" cy="784.3" r="0.6" fill="#7438c0" opacity="0.46"/>
<circle cx="262.6" cy="758.2" r="0.9" fill="#7438c0" opacity="0.39"/>
<circle cx="235.3" cy="758.5" r="1.0" fill="#7438c0" opacity="0.48"/>
<circle cx="264.9" cy="765.2" r="0.6" fill="#7438c0" opacity="0.22"/>
<circle cx="224.2" cy="775.3" r="0.5" fill="#7438c0" opacity="0.44"/>
<circle cx="247.4" cy="767.0" r="1.0" fill="#7438c0" opacity="0.25"/>
<circle cx="250.9" cy="773.3" r="0.7" fill="#7438c0" opacity="0.19"/>
<circle cx="254.7" cy="776.7" r="0.8" fill="#7438c0" opacity="0.31"/>
<circle cx="241.6" cy="783.3" r="0.9" fill="#7438c0" opacity="0.40"/>
<circle cx="233.5" cy="786.6" r="0.9" fill="#7438c0" opacity="0.35"/>
<circle cx="232.5" cy="766.4" r="0.5" fill="#7438c0" opacity="0.46"/>
<circle cx="241.7" cy="758.3" r="1.0" fill="#7438c0" opacity="0.46"/>
<circle cx="271.9" cy="768.9" r="0.6" fill="#7438c0" opacity="0.34"/>
<circle cx="257.1" cy="749.4" r="0.7" fill="#7438c0" opacity="0.38"/>
<circle cx="256.6" cy="784.9" r="0.7" fill="#7438c0" opacity="0.49"/>
<circle cx="257.7" cy="786.1" r="0.5" fill="#7438c0" opacity="0.25"/>
<circle cx="256.7" cy="771.3" r="0.8" fill="#7438c0" opacity="0.21"/>
<circle cx="251.0" cy="755.4" r="0.8" fill="#7438c0" opacity="0.45"/>
<circle cx="257.9" cy="773.4" r="0.9" fill="#7438c0" opacity="0.31"/>
<circle cx="263.6" cy="757.1" r="0.7" fill="#7438c0" opacity="0.49"/>
<circle cx="233.1" cy="787.1" r="1.0" fill="#7438c0" opacity="0.22"/>
<circle cx="222.2" cy="756.1" r="0.5" fill="#7438c0" opacity="0.45"/>
<circle cx="252.3" cy="739.6" r="0.8" fill="#7438c0" opacity="0.18"/>
<circle cx="257.4" cy="761.5" r="0.9" fill="#7438c0" opacity="0.40"/>
<circle cx="238.9" cy="785.3" r="0.7" fill="#7438c0" opacity="0.41"/>
<circle cx="275.0" cy="771.3" r="0.7" fill="#7438c0" opacity="0.43"/>
<circle cx="223.4" cy="768.5" r="0.6" fill="#7438c0" opacity="0.34"/>
<circle cx="268.2" cy="767.0" r="0.5" fill="#7438c0" opacity="0.45"/>
<circle cx="240.4" cy="747.3" r="1.0" fill="#7438c0" opacity="0.48"/>
<circle cx="256.5" cy="761.7" r="0.9" fill="#7438c0" opacity="0.40"/>
<circle cx="245.8" cy="761.7" r="1.0" fill="#7438c0" opacity="0.30"/>
<circle cx="227.4" cy="749.5" r="0.6" fill="#7438c0" opacity="0.16"/>
<circle cx="261.7" cy="757.1" r="0.5" fill="#7438c0" opacity="0.20"/>
<circle cx="273.0" cy="763.1" r="0.6" fill="#7438c0" opacity="0.20"/>
<circle cx="267.1" cy="750.0" r="0.8" fill="#7438c0" opacity="0.20"/>
<circle cx="225.0" cy="778.2" r="0.5" fill="#7438c0" opacity="0.30"/>
<circle cx="275.2" cy="773.9" r="0.5" fill="#7438c0" opacity="0.48"/>
<circle cx="261.8" cy="743.5" r="0.5" fill="#7438c0" opacity="0.39"/>
<circle cx="228.7" cy="764.8" r="0.5" fill="#7438c0" opacity="0.33"/>
<circle cx="251.9" cy="754.1" r="1.0" fill="#7438c0" opacity="0.30"/>
<circle cx="247.2" cy="777.7" r="0.7" fill="#7438c0" opacity="0.38"/>
<circle cx="224.3" cy="752.5" r="0.8" fill="#7438c0" opacity="0.33"/>
<circle cx="261.8" cy="763.0" r="0.5" fill="#7438c0" opacity="0.26"/>
<circle cx="244.7" cy="773.1" r="0.7" fill="#7438c0" opacity="0.16"/>
<circle cx="266.0" cy="754.5" r="1.0" fill="#7438c0" opacity="0.39"/>
<circle cx="245.5" cy="739.3" r="0.6" fill="#7438c0" opacity="0.41"/>
<circle cx="254.4" cy="784.3" r="0.8" fill="#7438c0" opacity="0.42"/>
<circle cx="256.8" cy="778.4" r="0.9" fill="#7438c0" opacity="0.43"/>
<circle cx="258.3" cy="762.5" r="0.6" fill="#7438c0" opacity="0.19"/>
<circle cx="244.6" cy="739.7" r="0.8" fill="#7438c0" opacity="0.42"/>
<circle cx="227.4" cy="761.8" r="1.0" fill="#7438c0" opacity="0.38"/>
<circle cx="236.5" cy="745.8" r="0.7" fill="#7438c0" opacity="0.41"/>
<circle cx="239.4" cy="759.4" r="0.7" fill="#7438c0" opacity="0.30"/>
<circle cx="229.2" cy="772.7" r="0.7" fill="#7438c0" opacity="0.29"/>
<circle cx="233.1" cy="771.6" r="1.0" fill="#7438c0" opacity="0.18"/>
<circle cx="272.6" cy="766.5" r="0.7" fill="#7438c0" opacity="0.31"/>
<circle cx="234.2" cy="754.5" r="0.6" fill="#7438c0" opacity="0.16"/>
<circle cx="267.9" cy="744.3" r="0.6" fill="#7438c0" opacity="0.31"/>
<circle cx="245.5" cy="770.0" r="1.0" fill="#7438c0" opacity="0.44"/>
<circle cx="249.4" cy="778.2" r="0.9" fill="#7438c0" opacity="0.43"/>
<circle cx="231.2" cy="767.3" r="0.6" fill="#7438c0" opacity="0.43"/>
<circle cx="265.8" cy="744.0" r="0.5" fill="#7438c0" opacity="0.36"/>
<circle cx="272.5" cy="761.7" r="0.7" fill="#7438c0" opacity="0.20"/>
<circle cx="271.2" cy="772.9" r="0.5" fill="#7438c0" opacity="0.43"/>
<circle cx="238.7" cy="747.0" r="1.0" fill="#7438c0" opacity="0.48"/>
<circle cx="241.9" cy="757.9" r="0.8" fill="#7438c0" opacity="0.30"/>
<circle cx="248.7" cy="791.3" r="0.9" fill="#7438c0" opacity="0.19"/>
<circle cx="250.8" cy="780.4" r="0.8" fill="#7438c0" opacity="0.26"/>
<circle cx="224.8" cy="773.4" r="0.6" fill="#7438c0" opacity="0.40"/>
<circle cx="235.2" cy="788.1" r="1.0" fill="#7438c0" opacity="0.26"/>
<circle cx="241.2" cy="758.1" r="0.7" fill="#7438c0" opacity="0.37"/>
<circle cx="237.8" cy="751.2" r="0.5" fill="#7438c0" opacity="0.19"/>
<circle cx="237.7" cy="759.5" r="0.6" fill="#7438c0" opacity="0.37"/>
<circle cx="265.2" cy="752.0" r="0.6" fill="#7438c0" opacity="0.36"/>
<circle cx="244.6" cy="788.7" r="0.5" fill="#7438c0" opacity="0.24"/>
<circle cx="223.5" cy="774.1" r="0.5" fill="#7438c0" opacity="0.22"/>
<circle cx="257.5" cy="773.6" r="0.6" fill="#7438c0" opacity="0.29"/>
<circle cx="249.7" cy="745.9" r="0.7" fill="#7438c0" opacity="0.29"/>
<circle cx="252.7" cy="737.2" r="0.7" fill="#7438c0" opacity="0.47"/>
<circle cx="248.5" cy="792.0" r="0.8" fill="#7438c0" opacity="0.39"/>
<circle cx="237.7" cy="773.9" r="0.5" fill="#7438c0" opacity="0.46"/>
<circle cx="233.5" cy="782.2" r="0.7" fill="#7438c0" opacity="0.33"/>
<circle cx="251.8" cy="775.4" r="0.7" fill="#7438c0" opacity="0.39"/>
<circle cx="247.3" cy="763.5" r="0.9" fill="#7438c0" opacity="0.30"/>
<circle cx="261.8" cy="770.0" r="0.6" fill="#7438c0" opacity="0.44"/>
<circle cx="233.1" cy="758.9" r="0.6" fill="#7438c0" opacity="0.25"/>
<circle cx="245.5" cy="780.3" r="0.9" fill="#7438c0" opacity="0.43"/>
<circle cx="240.0" cy="738.6" r="0.8" fill="#7438c0" opacity="0.19"/>
<circle cx="259.7" cy="767.1" r="0.6" fill="#7438c0" opacity="0.33"/>
<circle cx="258.1" cy="744.3" r="0.7" fill="#7438c0" opacity="0.23"/>
<circle cx="273.1" cy="761.1" r="0.7" fill="#7438c0" opacity="0.17"/>
<circle cx="262.9" cy="762.3" r="1.0" fill="#7438c0" opacity="0.19"/>
<circle cx="238.9" cy="750.0" r="1.0" fill="#7438c0" opacity="0.25"/>
<circle cx="258.8" cy="771.4" r="0.9" fill="#7438c0" opacity="0.49"/>
<circle cx="234.0" cy="745.5" r="0.6" fill="#7438c0" opacity="0.25"/>
<circle cx="272.7" cy="778.5" r="0.5" fill="#7438c0" opacity="0.36"/>
<circle cx="241.4" cy="773.8" r="0.7" fill="#7438c0" opacity="0.48"/>
<circle cx="248.8" cy="775.4" r="0.8" fill="#7438c0" opacity="0.38"/>
<circle cx="236.6" cy="763.1" r="1.0" fill="#7438c0" opacity="0.19"/>
<circle cx="255.0" cy="776.3" r="0.8" fill="#7438c0" opacity="0.32"/>
<circle cx="225.7" cy="755.9" r="1.0" fill="#7438c0" opacity="0.31"/>
<circle cx="273.6" cy="770.6" r="0.5" fill="#7438c0" opacity="0.26"/>
<circle cx="262.3" cy="781.2" r="0.9" fill="#7438c0" opacity="0.20"/>
<circle cx="241.4" cy="789.1" r="0.9" fill="#7438c0" opacity="0.19"/>
<circle cx="238.8" cy="740.6" r="0.7" fill="#7438c0" opacity="0.20"/>
<circle cx="239.9" cy="750.4" r="0.5" fill="#7438c0" opacity="0.21"/>
<circle cx="240.3" cy="769.7" r="0.7" fill="#7438c0" opacity="0.34"/>
<circle cx="231.5" cy="758.1" r="0.9" fill="#7438c0" opacity="0.18"/>
<circle cx="235.4" cy="788.0" r="1.0" fill="#7438c0" opacity="0.47"/>
<circle cx="250.6" cy="743.2" r="0.9" fill="#7438c0" opacity="0.35"/>
<circle cx="259.2" cy="773.6" r="0.5" fill="#7438c0" opacity="0.46"/>
<circle cx="240.7" cy="780.2" r="0.8" fill="#7438c0" opacity="0.19"/>
<circle cx="241.7" cy="739.5" r="0.9" fill="#7438c0" opacity="0.46"/>
<circle cx="244.2" cy="773.8" r="0.9" fill="#7438c0" opacity="0.39"/>
<circle cx="237.1" cy="775.9" r="0.5" fill="#7438c0" opacity="0.44"/>
<circle cx="223.8" cy="770.2" r="0.7" fill="#7438c0" opacity="0.26"/>
<circle cx="224.1" cy="761.9" r="1.0" fill="#7438c0" opacity="0.27"/>
<circle cx="242.3" cy="747.0" r="1.0" fill="#7438c0" opacity="0.42"/>
<circle cx="232.5" cy="758.1" r="0.6" fill="#7438c0" opacity="0.46"/>
<circle cx="253.5" cy="749.0" r="0.5" fill="#7438c0" opacity="0.22"/>
<circle cx="254.1" cy="762.6" r="0.9" fill="#7438c0" opacity="0.34"/>
<circle cx="228.9" cy="757.0" r="0.7" fill="#7438c0" opacity="0.35"/>
<circle cx="271.6" cy="778.5" r="0.5" fill="#7438c0" opacity="0.20"/>
<circle cx="238.0" cy="743.8" r="0.9" fill="#7438c0" opacity="0.39"/>
<circle cx="254.5" cy="761.2" r="0.5" fill="#7438c0" opacity="0.23"/>
<circle cx="250.6" cy="753.0" r="0.8" fill="#7438c0" opacity="0.42"/>
<circle cx="260.1" cy="781.1" r="1.0" fill="#7438c0" opacity="0.41"/>
<circle cx="232.8" cy="775.7" r="0.6" fill="#7438c0" opacity="0.49"/>
<circle cx="253.4" cy="740.9" r="0.6" fill="#7438c0" opacity="0.41"/>
<circle cx="223.3" cy="766.0" r="0.7" fill="#7438c0" opacity="0.46"/>
<circle cx="241.0" cy="746.4" r="0.8" fill="#7438c0" opacity="0.43"/>
<circle cx="221.2" cy="758.8" r="0.5" fill="#7438c0" opacity="0.46"/>
<circle cx="244.2" cy="744.5" r="1.0" fill="#7438c0" opacity="0.20"/>
<circle cx="236.0" cy="784.4" r="0.9" fill="#7438c0" opacity="0.28"/>
<circle cx="271.5" cy="763.1" r="0.5" fill="#7438c0" opacity="0.19"/>
<circle cx="267.6" cy="773.8" r="0.6" fill="#7438c0" opacity="0.24"/>
<circle cx="241.1" cy="766.5" r="1.0" fill="#7438c0" opacity="0.44"/>
<circle cx="230.9" cy="757.1" r="0.6" fill="#7438c0" opacity="0.36"/>
<circle cx="232.6" cy="786.9" r="1.0" fill="#7438c0" opacity="0.40"/>
<circle cx="252.2" cy="757.0" r="0.5" fill="#7438c0" opacity="0.27"/>
<circle cx="261.6" cy="777.1" r="1.0" fill="#7438c0" opacity="0.44"/>
<circle cx="261.5" cy="760.5" r="0.6" fill="#7438c0" opacity="0.16"/>
<circle cx="247.6" cy="770.6" r="0.8" fill="#7438c0" opacity="0.26"/>
<circle cx="238.8" cy="745.0" r="0.8" fill="#7438c0" opacity="0.25"/>
<circle cx="246.4" cy="740.4" r="0.9" fill="#7438c0" opacity="0.31"/>
<circle cx="233.8" cy="767.3" r="0.5" fill="#7438c0" opacity="0.31"/>
<circle cx="239.5" cy="755.7" r="1.0" fill="#7438c0" opacity="0.46"/>
<circle cx="264.2" cy="743.5" r="0.7" fill="#7438c0" opacity="0.21"/>
<circle cx="245.4" cy="788.1" r="1.0" fill="#7438c0" opacity="0.19"/>
<circle cx="265.5" cy="764.6" r="0.7" fill="#7438c0" opacity="0.36"/>
<circle cx="268.5" cy="780.8" r="0.7" fill="#7438c0" opacity="0.47"/>
<circle cx="241.1" cy="777.7" r="0.6" fill="#7438c0" opacity="0.49"/>
<circle cx="226.7" cy="750.1" r="0.5" fill="#7438c0" opacity="0.34"/>
<circle cx="245.6" cy="735.9" r="1.0" fill="#7438c0" opacity="0.19"/>
<circle cx="228.7" cy="784.2" r="0.8" fill="#7438c0" opacity="0.48"/>
<circle cx="248.5" cy="768.4" r="1.0" fill="#7438c0" opacity="0.24"/>
<circle cx="232.8" cy="757.6" r="0.8" fill="#7438c0" opacity="0.48"/>
<circle cx="273.7" cy="755.2" r="0.6" fill="#7438c0" opacity="0.44"/>
<circle cx="266.8" cy="766.0" r="1.0" fill="#7438c0" opacity="0.24"/>
<circle cx="234.0" cy="780.0" r="0.6" fill="#7438c0" opacity="0.40"/>
<circle cx="243.6" cy="756.7" r="1.0" fill="#7438c0" opacity="0.18"/>
<circle cx="243.1" cy="748.1" r="0.5" fill="#7438c0" opacity="0.18"/>
<circle cx="274.0" cy="763.5" r="0.7" fill="#7438c0" opacity="0.43"/>
<circle cx="275.5" cy="758.7" r="0.8" fill="#7438c0" opacity="0.25"/>
<circle cx="220.6" cy="760.6" r="0.9" fill="#7438c0" opacity="0.38"/>
<circle cx="258.6" cy="748.7" r="0.8" fill="#7438c0" opacity="0.45"/>
<circle cx="256.9" cy="788.9" r="0.5" fill="#7438c0" opacity="0.34"/>
<circle cx="238.9" cy="759.0" r="1.0" fill="#7438c0" opacity="0.30"/>
<circle cx="255.8" cy="780.6" r="0.8" fill="#7438c0" opacity="0.30"/>
<circle cx="257.2" cy="764.1" r="0.9" fill="#7438c0" opacity="0.20"/>
<circle cx="247.7" cy="789.4" r="1.0" fill="#7438c0" opacity="0.46"/>
<circle cx="249.5" cy="765.7" r="0.9" fill="#7438c0" opacity="0.36"/>
<circle cx="246.1" cy="766.8" r="0.7" fill="#7438c0" opacity="0.23"/>
<circle cx="224.6" cy="749.1" r="0.6" fill="#7438c0" opacity="0.18"/>
<circle cx="245.4" cy="755.1" r="0.6" fill="#7438c0" opacity="0.30"/>
<circle cx="264.7" cy="762.5" r="0.6" fill="#7438c0" opacity="0.32"/>
<circle cx="258.0" cy="779.3" r="0.9" fill="#7438c0" opacity="0.26"/>
<circle cx="252.1" cy="752.2" r="0.5" fill="#7438c0" opacity="0.37"/>
<circle cx="222.6" cy="771.8" r="0.5" fill="#7438c0" opacity="0.41"/>
<circle cx="240.3" cy="748.8" r="0.5" fill="#7438c0" opacity="0.36"/>
<circle cx="249.6" cy="744.4" r="0.7" fill="#7438c0" opacity="0.39"/>
<circle cx="234.3" cy="752.2" r="0.6" fill="#7438c0" opacity="0.31"/>
<circle cx="223.0" cy="755.6" r="1.0" fill="#7438c0" opacity="0.34"/>
<circle cx="242.2" cy="775.7" r="0.8" fill="#7438c0" opacity="0.41"/>
<circle cx="248.9" cy="787.5" r="1.0" fill="#7438c0" opacity="0.29"/>
<circle cx="266.0" cy="756.9" r="0.8" fill="#7438c0" opacity="0.45"/>
<circle cx="253.4" cy="779.9" r="1.0" fill="#7438c0" opacity="0.17"/>
<circle cx="241.8" cy="782.3" r="0.9" fill="#7438c0" opacity="0.37"/>
<circle cx="269.6" cy="754.0" r="0.5" fill="#7438c0" opacity="0.17"/>
<circle cx="266.8" cy="768.2" r="0.5" fill="#7438c0" opacity="0.33"/>
<circle cx="240.0" cy="754.4" r="1.0" fill="#7438c0" opacity="0.29"/>
<circle cx="265.1" cy="759.7" r="0.8" fill="#7438c0" opacity="0.34"/>
<circle cx="246.6" cy="788.9" r="0.5" fill="#7438c0" opacity="0.24"/>
<circle cx="237.1" cy="788.0" r="0.8" fill="#7438c0" opacity="0.16"/>
<circle cx="241.9" cy="785.0" r="0.9" fill="#7438c0" opacity="0.19"/>
<circle cx="251.8" cy="746.4" r="0.8" fill="#7438c0" opacity="0.30"/>
<circle cx="222.4" cy="774.6" r="1.0" fill="#7438c0" opacity="0.47"/>
<circle cx="246.5" cy="740.2" r="0.5" fill="#7438c0" opacity="0.16"/>
<circle cx="259.9" cy="743.5" r="0.8" fill="#7438c0" opacity="0.26"/>
<circle cx="245.7" cy="791.0" r="0.8" fill="#7438c0" opacity="0.16"/>
<circle cx="239.6" cy="778.0" r="0.5" fill="#7438c0" opacity="0.49"/>
<circle cx="269.6" cy="749.2" r="0.5" fill="#7438c0" opacity="0.30"/>
<circle cx="267.1" cy="779.5" r="0.9" fill="#7438c0" opacity="0.43"/>
<circle cx="251.2" cy="754.4" r="0.5" fill="#7438c0" opacity="0.18"/>
<circle cx="262.8" cy="742.3" r="0.8" fill="#7438c0" opacity="0.23"/>
<circle cx="254.7" cy="756.2" r="0.6" fill="#7438c0" opacity="0.15"/>
<circle cx="266.8" cy="761.9" r="0.9" fill="#7438c0" opacity="0.43"/>
<circle cx="223.9" cy="750.1" r="0.9" fill="#7438c0" opacity="0.47"/>
<circle cx="256.5" cy="762.0" r="0.9" fill="#7438c0" opacity="0.23"/>
<circle cx="241.1" cy="778.7" r="1.0" fill="#7438c0" opacity="0.17"/>
<circle cx="239.3" cy="767.9" r="1.0" fill="#7438c0" opacity="0.32"/>
<circle cx="242.5" cy="744.3" r="0.9" fill="#7438c0" opacity="0.27"/>
<circle cx="227.6" cy="776.6" r="0.9" fill="#7438c0" opacity="0.46"/>
<circle cx="239.1" cy="788.3" r="0.9" fill="#7438c0" opacity="0.35"/>
<circle cx="230.7" cy="775.6" r="0.5" fill="#7438c0" opacity="0.18"/>
<circle cx="244.8" cy="773.1" r="0.5" fill="#7438c0" opacity="0.40"/>
<circle cx="246.0" cy="741.8" r="0.6" fill="#7438c0" opacity="0.40"/>
<circle cx="258.9" cy="744.0" r="0.6" fill="#7438c0" opacity="0.35"/>
<circle cx="237.0" cy="773.0" r="0.5" fill="#7438c0" opacity="0.45"/>
<circle cx="230.1" cy="743.6" r="0.6" fill="#7438c0" opacity="0.24"/>
<circle cx="241.7" cy="763.5" r="0.6" fill="#7438c0" opacity="0.34"/>
<circle cx="221.7" cy="767.0" r="0.8" fill="#7438c0" opacity="0.37"/>
<circle cx="226.9" cy="751.1" r="0.7" fill="#7438c0" opacity="0.15"/>
<circle cx="273.7" cy="760.8" r="0.5" fill="#7438c0" opacity="0.19"/>
<circle cx="252.6" cy="786.6" r="0.5" fill="#7438c0" opacity="0.16"/>
<circle cx="246.4" cy="764.0" r="0.6" fill="#7438c0" opacity="0.28"/>
<circle cx="249.0" cy="765.3" r="0.6" fill="#7438c0" opacity="0.24"/>
<circle cx="240.4" cy="780.2" r="0.7" fill="#7438c0" opacity="0.26"/>
<circle cx="274.4" cy="767.0" r="0.9" fill="#7438c0" opacity="0.32"/>
<circle cx="262.3" cy="764.1" r="1.0" fill="#7438c0" opacity="0.31"/>
<circle cx="255.7" cy="788.6" r="1.0" fill="#7438c0" opacity="0.19"/>
<circle cx="227.3" cy="763.8" r="0.5" fill="#7438c0" opacity="0.26"/>
<circle cx="231.4" cy="748.1" r="0.8" fill="#7438c0" opacity="0.37"/>
<circle cx="243.2" cy="769.1" r="0.5" fill="#7438c0" opacity="0.44"/>
<circle cx="266.5" cy="743.6" r="0.5" fill="#7438c0" opacity="0.42"/>
<circle cx="256.5" cy="778.6" r="0.6" fill="#7438c0" opacity="0.45"/>
<circle cx="259.5" cy="740.4" r="0.7" fill="#7438c0" opacity="0.48"/>
<circle cx="247.2" cy="785.4" r="0.9" fill="#7438c0" opacity="0.23"/>
<circle cx="242.0" cy="770.0" r="0.9" fill="#7438c0" opacity="0.21"/>
<circle cx="258.4" cy="775.2" r="0.8" fill="#7438c0" opacity="0.37"/>
<circle cx="222.7" cy="759.8" r="0.9" fill="#7438c0" opacity="0.22"/>
<circle cx="237.2" cy="761.4" r="0.6" fill="#7438c0" opacity="0.20"/>
<circle cx="263.5" cy="771.7" r="1.0" fill="#7438c0" opacity="0.38"/>
<circle cx="259.9" cy="770.9" r="0.8" fill="#7438c0" opacity="0.34"/>
<circle cx="257.2" cy="765.4" r="0.8" fill="#7438c0" opacity="0.36"/>
<circle cx="270.5" cy="776.0" r="0.6" fill="#7438c0" opacity="0.36"/>
<circle cx="232.3" cy="760.8" r="1.0" fill="#7438c0" opacity="0.29"/>
<circle cx="230.1" cy="773.6" r="1.0" fill="#7438c0" opacity="0.50"/>
<circle cx="251.2" cy="743.2" r="0.9" fill="#7438c0" opacity="0.37"/>
<circle cx="275.7" cy="756.8" r="0.9" fill="#7438c0" opacity="0.23"/>
<circle cx="231.5" cy="756.0" r="0.6" fill="#7438c0" opacity="0.42"/>
<circle cx="252.9" cy="787.5" r="0.7" fill="#7438c0" opacity="0.30"/>
<circle cx="242.1" cy="740.6" r="1.0" fill="#7438c0" opacity="0.50"/>
<circle cx="253.1" cy="750.0" r="0.9" fill="#7438c0" opacity="0.32"/>
<circle cx="266.3" cy="757.0" r="0.7" fill="#7438c0" opacity="0.16"/>
<circle cx="228.2" cy="767.8" r="0.6" fill="#7438c0" opacity="0.19"/>
<circle cx="241.1" cy="764.7" r="0.6" fill="#7438c0" opacity="0.31"/>
<circle cx="237.0" cy="780.3" r="0.8" fill="#7438c0" opacity="0.29"/>
<circle cx="251.2" cy="766.8" r="0.8" fill="#7438c0" opacity="0.49"/>
<circle cx="245.3" cy="780.4" r="0.6" fill="#7438c0" opacity="0.41"/>
<circle cx="223.3" cy="765.0" r="0.5" fill="#7438c0" opacity="0.20"/>
<circle cx="253.2" cy="780.0" r="0.8" fill="#6420b8" opacity="0.67"/>
<circle cx="266.4" cy="760.0" r="1.0" fill="#6420b8" opacity="0.93"/>
<circle cx="235.3" cy="747.4" r="1.4" fill="#6420b8" opacity="0.65"/>
<circle cx="274.9" cy="769.9" r="0.9" fill="#6420b8" opacity="0.76"/>
<circle cx="270.3" cy="773.6" r="0.8" fill="#6420b8" opacity="0.79"/>
<circle cx="243.1" cy="789.7" r="0.7" fill="#6420b8" opacity="0.62"/>
<circle cx="258.8" cy="755.9" r="0.7" fill="#6420b8" opacity="0.72"/>
<circle cx="257.9" cy="762.8" r="0.6" fill="#6420b8" opacity="0.86"/>
<circle cx="264.4" cy="772.0" r="1.3" fill="#6420b8" opacity="0.82"/>
<circle cx="251.1" cy="754.8" r="1.5" fill="#6420b8" opacity="0.66"/>
<circle cx="256.0" cy="746.5" r="1.5" fill="#6420b8" opacity="0.72"/>
<circle cx="248.1" cy="774.6" r="0.9" fill="#6420b8" opacity="0.52"/>
<circle cx="261.9" cy="786.0" r="1.0" fill="#6420b8" opacity="0.89"/>
<circle cx="259.7" cy="779.4" r="0.8" fill="#6420b8" opacity="0.55"/>
<circle cx="246.4" cy="790.3" r="1.2" fill="#6420b8" opacity="0.73"/>
<circle cx="228.9" cy="747.7" r="1.6" fill="#6420b8" opacity="0.77"/>
<circle cx="273.0" cy="771.9" r="0.6" fill="#6420b8" opacity="0.61"/>
<circle cx="261.4" cy="778.9" r="1.0" fill="#6420b8" opacity="0.71"/>
<circle cx="238.4" cy="765.8" r="1.2" fill="#6420b8" opacity="0.74"/>
<circle cx="239.5" cy="787.3" r="1.6" fill="#6420b8" opacity="0.92"/>
<circle cx="255.8" cy="763.2" r="0.8" fill="#6420b8" opacity="0.70"/>
<circle cx="247.6" cy="787.6" r="1.5" fill="#6420b8" opacity="0.56"/>
<circle cx="221.5" cy="762.9" r="1.5" fill="#6420b8" opacity="0.70"/>
<circle cx="263.3" cy="775.3" r="0.9" fill="#6420b8" opacity="0.85"/>
<circle cx="254.3" cy="777.3" r="1.7" fill="#6420b8" opacity="0.51"/>
<circle cx="242.1" cy="758.4" r="1.2" fill="#6420b8" opacity="0.69"/>
<circle cx="260.2" cy="758.0" r="1.4" fill="#6420b8" opacity="0.60"/>
<circle cx="256.3" cy="766.3" r="0.6" fill="#6420b8" opacity="0.67"/>
<circle cx="264.8" cy="761.0" r="1.2" fill="#6420b8" opacity="0.52"/>
<circle cx="228.5" cy="761.9" r="0.6" fill="#6420b8" opacity="0.76"/>
<circle cx="233.7" cy="769.1" r="1.4" fill="#6420b8" opacity="0.81"/>
<circle cx="255.1" cy="770.1" r="0.6" fill="#6420b8" opacity="0.62"/>
<circle cx="230.9" cy="743.4" r="1.6" fill="#6420b8" opacity="0.89"/>
<circle cx="266.0" cy="781.2" r="1.2" fill="#6420b8" opacity="0.71"/>
<circle cx="269.9" cy="763.3" r="0.6" fill="#6420b8" opacity="0.60"/>
<circle cx="263.4" cy="779.6" r="1.0" fill="#6420b8" opacity="0.89"/>
<circle cx="251.3" cy="764.1" r="1.6" fill="#6420b8" opacity="0.62"/>
<circle cx="246.3" cy="789.4" r="0.6" fill="#6420b8" opacity="0.86"/>
<circle cx="265.1" cy="751.4" r="1.0" fill="#6420b8" opacity="0.50"/>
<circle cx="231.7" cy="750.5" r="1.3" fill="#6420b8" opacity="0.73"/>
<circle cx="258.4" cy="772.4" r="1.1" fill="#6420b8" opacity="0.54"/>
<circle cx="259.4" cy="772.5" r="1.3" fill="#6420b8" opacity="0.75"/>
<circle cx="231.8" cy="785.1" r="1.0" fill="#6420b8" opacity="0.61"/>
<circle cx="225.2" cy="753.7" r="0.7" fill="#6420b8" opacity="0.70"/>
<circle cx="224.4" cy="751.1" r="1.0" fill="#6420b8" opacity="0.58"/>
<circle cx="235.0" cy="756.2" r="0.8" fill="#6420b8" opacity="0.82"/>
<circle cx="268.1" cy="766.4" r="0.7" fill="#6420b8" opacity="0.77"/>
<circle cx="256.7" cy="746.9" r="1.0" fill="#6420b8" opacity="0.63"/>
<circle cx="247.9" cy="783.6" r="0.9" fill="#6420b8" opacity="0.60"/>
<circle cx="250.4" cy="744.5" r="0.7" fill="#6420b8" opacity="0.61"/>
<circle cx="262.2" cy="741.5" r="1.6" fill="#6420b8" opacity="0.61"/>
<circle cx="268.3" cy="773.4" r="0.6" fill="#6420b8" opacity="0.89"/>
<circle cx="241.7" cy="749.5" r="0.8" fill="#6420b8" opacity="0.81"/>
<circle cx="257.5" cy="778.0" r="1.3" fill="#6420b8" opacity="0.81"/>
<circle cx="241.0" cy="759.4" r="0.7" fill="#6420b8" opacity="0.62"/>
<circle cx="270.2" cy="768.2" r="1.0" fill="#6420b8" opacity="0.92"/>
<circle cx="223.7" cy="755.0" r="0.8" fill="#6420b8" opacity="0.73"/>
<circle cx="244.9" cy="782.3" r="1.6" fill="#6420b8" opacity="0.72"/>
<circle cx="265.0" cy="764.1" r="0.6" fill="#6420b8" opacity="0.78"/>
<circle cx="229.6" cy="762.8" r="1.5" fill="#6420b8" opacity="0.84"/>
<circle cx="252.7" cy="766.4" r="1.1" fill="#6420b8" opacity="0.77"/>
<circle cx="237.4" cy="748.0" r="0.6" fill="#6420b8" opacity="0.70"/>
<circle cx="259.5" cy="745.5" r="0.6" fill="#6420b8" opacity="0.56"/>
<circle cx="265.4" cy="752.4" r="0.6" fill="#6420b8" opacity="0.82"/>
<circle cx="271.4" cy="752.2" r="1.1" fill="#6420b8" opacity="0.86"/>
<circle cx="264.6" cy="773.7" r="1.3" fill="#6420b8" opacity="0.65"/>
<circle cx="264.5" cy="784.0" r="1.1" fill="#6420b8" opacity="0.50"/>
<circle cx="267.5" cy="771.9" r="1.6" fill="#6420b8" opacity="0.78"/>
<circle cx="255.0" cy="757.6" r="1.0" fill="#6420b8" opacity="0.58"/>
<circle cx="243.4" cy="773.2" r="0.8" fill="#6420b8" opacity="0.52"/>
<circle cx="236.3" cy="745.5" r="1.5" fill="#6420b8" opacity="0.85"/>
<circle cx="271.4" cy="775.6" r="0.9" fill="#6420b8" opacity="0.92"/>
<circle cx="240.8" cy="764.3" r="1.1" fill="#6420b8" opacity="0.58"/>
<circle cx="268.7" cy="761.9" r="1.5" fill="#6420b8" opacity="0.72"/>
<circle cx="238.2" cy="783.8" r="1.2" fill="#6420b8" opacity="0.71"/>
<circle cx="245.7" cy="781.5" r="1.2" fill="#6420b8" opacity="0.60"/>
<circle cx="259.1" cy="779.9" r="1.1" fill="#6420b8" opacity="0.53"/>
<circle cx="244.9" cy="790.8" r="0.7" fill="#6420b8" opacity="0.85"/>
<circle cx="245.8" cy="771.5" r="0.9" fill="#6420b8" opacity="0.89"/>
<circle cx="249.6" cy="757.9" r="1.1" fill="#6420b8" opacity="0.78"/>
<circle cx="226.3" cy="766.4" r="0.9" fill="#6420b8" opacity="0.58"/>
<circle cx="245.3" cy="754.6" r="0.7" fill="#6420b8" opacity="0.88"/>
<circle cx="230.7" cy="755.7" r="1.2" fill="#6420b8" opacity="0.72"/>
<circle cx="233.3" cy="777.5" r="0.6" fill="#6420b8" opacity="0.66"/>
<circle cx="275.3" cy="770.6" r="1.5" fill="#6420b8" opacity="0.79"/>
<circle cx="262.5" cy="785.3" r="0.7" fill="#6420b8" opacity="0.86"/>
<circle cx="236.1" cy="746.5" r="1.2" fill="#6420b8" opacity="0.62"/>
<circle cx="258.8" cy="746.4" r="1.2" fill="#6420b8" opacity="0.88"/>
<circle cx="248.1" cy="781.5" r="0.7" fill="#6420b8" opacity="0.53"/>
<circle cx="264.8" cy="747.8" r="0.9" fill="#6420b8" opacity="0.75"/>
</g>
<circle cx="248.6" cy="763.9" r="28.5" fill="none" stroke="#6e5a9e" stroke-width="1" stroke-opacity="0.5"/>
<circle cx="307" cy="763.9" r="29" fill="url(#dishg)"/>
<g filter="url(#b05)">
<circle cx="312.5" cy="758.8" r="0.7" fill="#7438c0" opacity="0.39"/>
<circle cx="287.4" cy="759.6" r="0.6" fill="#7438c0" opacity="0.23"/>
<circle cx="299.0" cy="749.3" r="1.0" fill="#7438c0" opacity="0.47"/>
<circle cx="321.7" cy="761.1" r="0.8" fill="#7438c0" opacity="0.19"/>
<circle cx="302.1" cy="769.9" r="0.8" fill="#7438c0" opacity="0.48"/>
<circle cx="308.3" cy="746.8" r="0.6" fill="#7438c0" opacity="0.48"/>
<circle cx="331.7" cy="772.4" r="1.0" fill="#7438c0" opacity="0.17"/>
<circle cx="328.8" cy="757.0" r="0.7" fill="#7438c0" opacity="0.30"/>
<circle cx="291.0" cy="750.9" r="1.0" fill="#7438c0" opacity="0.46"/>
<circle cx="305.8" cy="766.3" r="0.9" fill="#7438c0" opacity="0.38"/>
<circle cx="302.6" cy="757.5" r="0.5" fill="#7438c0" opacity="0.46"/>
<circle cx="294.2" cy="778.6" r="1.0" fill="#7438c0" opacity="0.22"/>
<circle cx="302.3" cy="758.6" r="0.8" fill="#7438c0" opacity="0.41"/>
<circle cx="320.6" cy="784.6" r="1.0" fill="#7438c0" opacity="0.44"/>
<circle cx="314.0" cy="737.1" r="0.9" fill="#7438c0" opacity="0.34"/>
<circle cx="318.5" cy="741.1" r="0.8" fill="#7438c0" opacity="0.38"/>
<circle cx="314.2" cy="778.8" r="0.6" fill="#7438c0" opacity="0.45"/>
<circle cx="310.0" cy="748.9" r="1.0" fill="#7438c0" opacity="0.17"/>
<circle cx="322.1" cy="770.0" r="0.5" fill="#7438c0" opacity="0.48"/>
<circle cx="295.8" cy="777.6" r="1.0" fill="#7438c0" opacity="0.34"/>
<circle cx="294.1" cy="750.1" r="0.7" fill="#7438c0" opacity="0.49"/>
<circle cx="303.5" cy="784.2" r="0.7" fill="#7438c0" opacity="0.20"/>
<circle cx="319.3" cy="780.0" r="0.9" fill="#7438c0" opacity="0.30"/>
<circle cx="332.6" cy="773.9" r="0.5" fill="#7438c0" opacity="0.46"/>
<circle cx="329.0" cy="770.3" r="0.5" fill="#7438c0" opacity="0.24"/>
<circle cx="285.2" cy="775.6" r="0.7" fill="#7438c0" opacity="0.30"/>
<circle cx="290.2" cy="775.7" r="0.6" fill="#7438c0" opacity="0.48"/>
<circle cx="310.8" cy="773.5" r="0.8" fill="#7438c0" opacity="0.27"/>
<circle cx="306.0" cy="758.3" r="0.9" fill="#7438c0" opacity="0.28"/>
<circle cx="321.0" cy="757.0" r="0.7" fill="#7438c0" opacity="0.26"/>
<circle cx="292.3" cy="760.8" r="0.9" fill="#7438c0" opacity="0.29"/>
<circle cx="303.0" cy="749.1" r="0.7" fill="#7438c0" opacity="0.34"/>
<circle cx="302.5" cy="741.4" r="0.7" fill="#7438c0" opacity="0.18"/>
<circle cx="315.3" cy="771.0" r="0.6" fill="#7438c0" opacity="0.21"/>
<circle cx="298.3" cy="749.8" r="1.0" fill="#7438c0" opacity="0.23"/>
<circle cx="307.3" cy="776.1" r="0.5" fill="#7438c0" opacity="0.39"/>
<circle cx="294.4" cy="757.2" r="0.9" fill="#7438c0" opacity="0.39"/>
<circle cx="287.0" cy="773.5" r="0.8" fill="#7438c0" opacity="0.30"/>
<circle cx="321.4" cy="773.2" r="1.0" fill="#7438c0" opacity="0.28"/>
<circle cx="301.6" cy="757.4" r="0.9" fill="#7438c0" opacity="0.45"/>
<circle cx="294.9" cy="776.3" r="0.8" fill="#7438c0" opacity="0.24"/>
<circle cx="309.5" cy="773.8" r="0.9" fill="#7438c0" opacity="0.33"/>
<circle cx="333.8" cy="756.3" r="1.0" fill="#7438c0" opacity="0.48"/>
<circle cx="309.3" cy="760.1" r="0.5" fill="#7438c0" opacity="0.49"/>
<circle cx="322.6" cy="748.0" r="0.8" fill="#7438c0" opacity="0.30"/>
<circle cx="297.3" cy="768.8" r="0.8" fill="#7438c0" opacity="0.25"/>
<circle cx="326.1" cy="782.3" r="0.8" fill="#7438c0" opacity="0.46"/>
<circle cx="301.1" cy="784.7" r="0.6" fill="#7438c0" opacity="0.44"/>
<circle cx="312.8" cy="786.0" r="0.8" fill="#7438c0" opacity="0.26"/>
<circle cx="324.4" cy="773.5" r="0.8" fill="#7438c0" opacity="0.44"/>
<circle cx="310.6" cy="775.6" r="0.6" fill="#7438c0" opacity="0.43"/>
<circle cx="309.5" cy="786.4" r="0.5" fill="#7438c0" opacity="0.18"/>
<circle cx="301.8" cy="744.6" r="0.5" fill="#7438c0" opacity="0.32"/>
<circle cx="323.5" cy="757.4" r="0.8" fill="#7438c0" opacity="0.30"/>
<circle cx="301.1" cy="763.7" r="1.0" fill="#7438c0" opacity="0.35"/>
<circle cx="298.3" cy="776.3" r="0.6" fill="#7438c0" opacity="0.48"/>
<circle cx="316.5" cy="749.2" r="0.8" fill="#7438c0" opacity="0.34"/>
<circle cx="308.6" cy="768.8" r="0.9" fill="#7438c0" opacity="0.21"/>
<circle cx="303.6" cy="762.4" r="0.5" fill="#7438c0" opacity="0.21"/>
<circle cx="294.3" cy="745.6" r="1.0" fill="#7438c0" opacity="0.38"/>
<circle cx="303.8" cy="763.4" r="1.0" fill="#7438c0" opacity="0.32"/>
<circle cx="310.7" cy="759.4" r="1.0" fill="#7438c0" opacity="0.32"/>
<circle cx="310.8" cy="781.6" r="0.5" fill="#7438c0" opacity="0.35"/>
<circle cx="311.6" cy="787.3" r="0.6" fill="#7438c0" opacity="0.39"/>
<circle cx="289.3" cy="747.8" r="1.0" fill="#7438c0" opacity="0.25"/>
<circle cx="299.7" cy="747.6" r="1.0" fill="#7438c0" opacity="0.44"/>
<circle cx="308.9" cy="742.0" r="0.6" fill="#7438c0" opacity="0.47"/>
<circle cx="334.2" cy="758.5" r="0.7" fill="#7438c0" opacity="0.44"/>
<circle cx="295.7" cy="740.4" r="0.9" fill="#7438c0" opacity="0.31"/>
<circle cx="287.0" cy="779.4" r="0.8" fill="#7438c0" opacity="0.34"/>
<circle cx="310.6" cy="760.3" r="0.5" fill="#7438c0" opacity="0.31"/>
<circle cx="328.4" cy="778.9" r="0.5" fill="#7438c0" opacity="0.46"/>
<circle cx="308.6" cy="774.2" r="0.9" fill="#7438c0" opacity="0.39"/>
<circle cx="288.4" cy="775.6" r="0.8" fill="#7438c0" opacity="0.48"/>
<circle cx="286.1" cy="762.9" r="0.7" fill="#7438c0" opacity="0.29"/>
<circle cx="303.5" cy="755.1" r="0.9" fill="#7438c0" opacity="0.48"/>
<circle cx="308.5" cy="743.0" r="0.7" fill="#7438c0" opacity="0.18"/>
<circle cx="324.5" cy="775.3" r="1.0" fill="#7438c0" opacity="0.45"/>
<circle cx="317.0" cy="786.4" r="0.9" fill="#7438c0" opacity="0.32"/>
<circle cx="314.7" cy="754.4" r="0.7" fill="#7438c0" opacity="0.33"/>
<circle cx="304.2" cy="745.1" r="0.6" fill="#7438c0" opacity="0.45"/>
<circle cx="292.7" cy="775.5" r="0.6" fill="#7438c0" opacity="0.32"/>
<circle cx="302.4" cy="747.5" r="0.8" fill="#7438c0" opacity="0.32"/>
<circle cx="334.8" cy="766.0" r="0.6" fill="#7438c0" opacity="0.34"/>
<circle cx="319.5" cy="760.6" r="0.5" fill="#7438c0" opacity="0.22"/>
<circle cx="322.0" cy="785.4" r="0.8" fill="#7438c0" opacity="0.16"/>
<circle cx="304.2" cy="784.0" r="0.6" fill="#7438c0" opacity="0.26"/>
<circle cx="322.6" cy="753.2" r="0.6" fill="#7438c0" opacity="0.36"/>
<circle cx="322.6" cy="777.2" r="0.8" fill="#7438c0" opacity="0.18"/>
<circle cx="291.9" cy="759.2" r="0.9" fill="#7438c0" opacity="0.37"/>
<circle cx="325.7" cy="752.0" r="0.6" fill="#7438c0" opacity="0.21"/>
<circle cx="299.7" cy="739.4" r="0.5" fill="#7438c0" opacity="0.30"/>
<circle cx="303.0" cy="782.9" r="1.0" fill="#7438c0" opacity="0.35"/>
<circle cx="306.1" cy="739.1" r="0.6" fill="#7438c0" opacity="0.37"/>
<circle cx="293.1" cy="777.7" r="0.8" fill="#7438c0" opacity="0.38"/>
<circle cx="319.8" cy="786.6" r="0.5" fill="#7438c0" opacity="0.26"/>
<circle cx="323.5" cy="741.0" r="0.7" fill="#7438c0" opacity="0.48"/>
<circle cx="334.0" cy="770.4" r="0.6" fill="#7438c0" opacity="0.16"/>
<circle cx="307.9" cy="752.5" r="0.9" fill="#7438c0" opacity="0.15"/>
<circle cx="319.1" cy="775.8" r="0.5" fill="#7438c0" opacity="0.31"/>
<circle cx="293.1" cy="784.0" r="0.7" fill="#7438c0" opacity="0.49"/>
<circle cx="313.5" cy="754.1" r="1.0" fill="#7438c0" opacity="0.46"/>
<circle cx="288.1" cy="755.7" r="0.6" fill="#7438c0" opacity="0.26"/>
<circle cx="309.3" cy="776.3" r="0.8" fill="#7438c0" opacity="0.26"/>
<circle cx="309.4" cy="742.5" r="0.9" fill="#7438c0" opacity="0.18"/>
<circle cx="318.6" cy="747.3" r="0.8" fill="#7438c0" opacity="0.23"/>
<circle cx="301.0" cy="746.8" r="0.9" fill="#7438c0" opacity="0.35"/>
<circle cx="316.9" cy="775.9" r="0.9" fill="#7438c0" opacity="0.16"/>
<circle cx="292.8" cy="748.4" r="0.9" fill="#7438c0" opacity="0.27"/>
<circle cx="287.6" cy="766.7" r="0.9" fill="#7438c0" opacity="0.18"/>
<circle cx="292.5" cy="763.0" r="0.8" fill="#7438c0" opacity="0.24"/>
<circle cx="310.7" cy="777.1" r="1.0" fill="#7438c0" opacity="0.28"/>
<circle cx="324.8" cy="747.2" r="0.6" fill="#7438c0" opacity="0.34"/>
<circle cx="334.4" cy="765.4" r="0.8" fill="#7438c0" opacity="0.19"/>
<circle cx="287.1" cy="761.5" r="0.9" fill="#7438c0" opacity="0.25"/>
<circle cx="325.9" cy="751.9" r="0.5" fill="#7438c0" opacity="0.44"/>
<circle cx="318.7" cy="753.5" r="0.9" fill="#7438c0" opacity="0.45"/>
<circle cx="312.6" cy="758.8" r="1.0" fill="#7438c0" opacity="0.24"/>
<circle cx="314.5" cy="741.6" r="0.7" fill="#7438c0" opacity="0.47"/>
<circle cx="316.3" cy="737.1" r="1.0" fill="#7438c0" opacity="0.35"/>
<circle cx="304.8" cy="740.7" r="0.7" fill="#7438c0" opacity="0.32"/>
<circle cx="293.8" cy="763.3" r="0.6" fill="#7438c0" opacity="0.45"/>
<circle cx="320.5" cy="744.4" r="0.9" fill="#7438c0" opacity="0.33"/>
<circle cx="286.2" cy="753.6" r="0.5" fill="#7438c0" opacity="0.31"/>
<circle cx="319.7" cy="761.5" r="0.7" fill="#7438c0" opacity="0.18"/>
<circle cx="306.2" cy="789.7" r="0.5" fill="#7438c0" opacity="0.43"/>
<circle cx="314.9" cy="738.6" r="0.6" fill="#7438c0" opacity="0.48"/>
<circle cx="293.8" cy="777.7" r="1.0" fill="#7438c0" opacity="0.34"/>
<circle cx="303.0" cy="755.3" r="0.5" fill="#7438c0" opacity="0.24"/>
<circle cx="327.3" cy="779.8" r="0.6" fill="#7438c0" opacity="0.49"/>
<circle cx="301.6" cy="752.7" r="0.9" fill="#7438c0" opacity="0.26"/>
<circle cx="299.3" cy="762.6" r="0.9" fill="#7438c0" opacity="0.43"/>
<circle cx="286.4" cy="752.4" r="0.7" fill="#7438c0" opacity="0.19"/>
<circle cx="295.9" cy="785.7" r="0.8" fill="#7438c0" opacity="0.20"/>
<circle cx="308.1" cy="783.5" r="0.5" fill="#7438c0" opacity="0.17"/>
<circle cx="297.1" cy="767.1" r="1.0" fill="#7438c0" opacity="0.20"/>
<circle cx="306.9" cy="738.6" r="0.6" fill="#7438c0" opacity="0.34"/>
<circle cx="329.3" cy="762.8" r="0.7" fill="#7438c0" opacity="0.49"/>
<circle cx="305.3" cy="791.6" r="0.6" fill="#7438c0" opacity="0.30"/>
<circle cx="297.8" cy="784.9" r="1.0" fill="#7438c0" opacity="0.39"/>
<circle cx="318.7" cy="789.6" r="0.9" fill="#7438c0" opacity="0.33"/>
<circle cx="312.5" cy="756.4" r="0.8" fill="#7438c0" opacity="0.43"/>
<circle cx="310.9" cy="740.9" r="0.5" fill="#7438c0" opacity="0.32"/>
<circle cx="304.4" cy="785.9" r="0.7" fill="#7438c0" opacity="0.31"/>
<circle cx="285.8" cy="758.8" r="1.0" fill="#7438c0" opacity="0.25"/>
<circle cx="305.1" cy="776.0" r="0.5" fill="#7438c0" opacity="0.45"/>
<circle cx="315.8" cy="759.0" r="0.7" fill="#7438c0" opacity="0.47"/>
<circle cx="325.5" cy="742.7" r="1.0" fill="#7438c0" opacity="0.26"/>
<circle cx="320.0" cy="769.7" r="0.8" fill="#7438c0" opacity="0.16"/>
<circle cx="306.6" cy="783.4" r="0.9" fill="#7438c0" opacity="0.20"/>
<circle cx="318.7" cy="775.3" r="0.5" fill="#7438c0" opacity="0.19"/>
<circle cx="327.3" cy="779.2" r="1.0" fill="#7438c0" opacity="0.16"/>
<circle cx="315.8" cy="739.3" r="0.8" fill="#7438c0" opacity="0.25"/>
<circle cx="310.5" cy="756.6" r="0.5" fill="#7438c0" opacity="0.48"/>
<circle cx="311.9" cy="790.6" r="0.9" fill="#7438c0" opacity="0.17"/>
<circle cx="325.9" cy="776.7" r="0.5" fill="#7438c0" opacity="0.38"/>
<circle cx="300.6" cy="751.8" r="0.7" fill="#7438c0" opacity="0.22"/>
<circle cx="322.6" cy="747.6" r="0.9" fill="#7438c0" opacity="0.37"/>
<circle cx="331.8" cy="773.9" r="0.9" fill="#7438c0" opacity="0.33"/>
<circle cx="290.2" cy="753.2" r="0.9" fill="#7438c0" opacity="0.34"/>
<circle cx="303.5" cy="784.0" r="0.6" fill="#7438c0" opacity="0.15"/>
<circle cx="280.7" cy="760.4" r="0.9" fill="#7438c0" opacity="0.22"/>
<circle cx="285.3" cy="762.8" r="0.8" fill="#7438c0" opacity="0.31"/>
<circle cx="283.5" cy="762.5" r="1.0" fill="#7438c0" opacity="0.33"/>
<circle cx="312.0" cy="741.0" r="0.5" fill="#7438c0" opacity="0.24"/>
<circle cx="300.4" cy="779.5" r="0.7" fill="#7438c0" opacity="0.25"/>
<circle cx="331.3" cy="763.6" r="0.7" fill="#7438c0" opacity="0.39"/>
<circle cx="317.1" cy="758.7" r="0.8" fill="#7438c0" opacity="0.49"/>
<circle cx="288.1" cy="782.7" r="0.9" fill="#7438c0" opacity="0.26"/>
<circle cx="322.7" cy="784.0" r="0.7" fill="#7438c0" opacity="0.27"/>
<circle cx="283.4" cy="769.4" r="1.0" fill="#7438c0" opacity="0.47"/>
<circle cx="308.2" cy="752.0" r="0.7" fill="#7438c0" opacity="0.15"/>
<circle cx="312.1" cy="779.7" r="0.6" fill="#7438c0" opacity="0.32"/>
<circle cx="322.5" cy="780.8" r="0.7" fill="#7438c0" opacity="0.24"/>
<circle cx="300.6" cy="748.9" r="0.5" fill="#7438c0" opacity="0.44"/>
<circle cx="307.7" cy="737.3" r="0.6" fill="#7438c0" opacity="0.24"/>
<circle cx="303.4" cy="753.6" r="1.0" fill="#7438c0" opacity="0.38"/>
<circle cx="300.8" cy="762.0" r="0.6" fill="#7438c0" opacity="0.30"/>
<circle cx="317.7" cy="762.6" r="0.8" fill="#7438c0" opacity="0.18"/>
<circle cx="331.2" cy="759.5" r="0.9" fill="#7438c0" opacity="0.41"/>
<circle cx="313.0" cy="776.5" r="0.5" fill="#7438c0" opacity="0.34"/>
<circle cx="317.8" cy="769.9" r="0.6" fill="#7438c0" opacity="0.47"/>
<circle cx="310.7" cy="749.2" r="1.0" fill="#7438c0" opacity="0.21"/>
<circle cx="318.1" cy="777.5" r="0.9" fill="#7438c0" opacity="0.18"/>
<circle cx="312.1" cy="743.6" r="0.9" fill="#7438c0" opacity="0.27"/>
<circle cx="315.6" cy="766.2" r="0.9" fill="#7438c0" opacity="0.33"/>
<circle cx="308.1" cy="751.3" r="0.6" fill="#7438c0" opacity="0.22"/>
<circle cx="321.1" cy="744.7" r="0.5" fill="#7438c0" opacity="0.40"/>
<circle cx="325.8" cy="768.6" r="0.6" fill="#7438c0" opacity="0.42"/>
<circle cx="302.4" cy="740.9" r="0.6" fill="#7438c0" opacity="0.17"/>
<circle cx="291.9" cy="745.6" r="0.5" fill="#7438c0" opacity="0.44"/>
<circle cx="320.7" cy="753.6" r="0.8" fill="#7438c0" opacity="0.38"/>
<circle cx="327.5" cy="753.6" r="0.8" fill="#7438c0" opacity="0.42"/>
<circle cx="301.9" cy="764.2" r="0.8" fill="#7438c0" opacity="0.29"/>
<circle cx="297.9" cy="779.2" r="0.6" fill="#7438c0" opacity="0.26"/>
<circle cx="306.5" cy="737.2" r="0.7" fill="#7438c0" opacity="0.45"/>
<circle cx="321.4" cy="778.4" r="0.9" fill="#7438c0" opacity="0.42"/>
<circle cx="298.2" cy="771.5" r="1.0" fill="#7438c0" opacity="0.36"/>
<circle cx="297.4" cy="750.2" r="0.5" fill="#7438c0" opacity="0.35"/>
<circle cx="284.9" cy="779.0" r="0.8" fill="#7438c0" opacity="0.41"/>
<circle cx="284.7" cy="753.4" r="0.5" fill="#7438c0" opacity="0.50"/>
<circle cx="287.8" cy="753.2" r="0.6" fill="#7438c0" opacity="0.18"/>
<circle cx="300.3" cy="740.6" r="0.8" fill="#7438c0" opacity="0.24"/>
<circle cx="282.2" cy="766.0" r="0.8" fill="#7438c0" opacity="0.47"/>
<circle cx="328.2" cy="777.2" r="0.5" fill="#7438c0" opacity="0.37"/>
<circle cx="299.4" cy="762.3" r="0.7" fill="#7438c0" opacity="0.38"/>
<circle cx="312.3" cy="758.1" r="0.8" fill="#7438c0" opacity="0.43"/>
<circle cx="326.9" cy="781.9" r="1.0" fill="#7438c0" opacity="0.27"/>
<circle cx="309.8" cy="774.4" r="0.6" fill="#7438c0" opacity="0.30"/>
<circle cx="299.7" cy="737.4" r="0.8" fill="#7438c0" opacity="0.48"/>
<circle cx="286.3" cy="774.1" r="0.5" fill="#7438c0" opacity="0.30"/>
<circle cx="317.2" cy="765.4" r="0.9" fill="#7438c0" opacity="0.19"/>
<circle cx="300.7" cy="783.5" r="0.8" fill="#7438c0" opacity="0.16"/>
<circle cx="325.0" cy="778.9" r="0.7" fill="#7438c0" opacity="0.18"/>
<circle cx="289.8" cy="766.2" r="1.0" fill="#7438c0" opacity="0.17"/>
<circle cx="310.3" cy="770.9" r="0.8" fill="#7438c0" opacity="0.49"/>
<circle cx="308.6" cy="754.5" r="0.8" fill="#7438c0" opacity="0.28"/>
<circle cx="330.7" cy="760.5" r="0.8" fill="#7438c0" opacity="0.24"/>
<circle cx="288.0" cy="771.9" r="0.7" fill="#7438c0" opacity="0.35"/>
<circle cx="322.6" cy="773.8" r="1.0" fill="#7438c0" opacity="0.29"/>
<circle cx="282.3" cy="763.0" r="0.9" fill="#7438c0" opacity="0.41"/>
<circle cx="289.4" cy="780.2" r="0.6" fill="#7438c0" opacity="0.37"/>
<circle cx="319.4" cy="765.1" r="0.6" fill="#7438c0" opacity="0.27"/>
<circle cx="306.7" cy="759.8" r="1.0" fill="#7438c0" opacity="0.18"/>
<circle cx="333.4" cy="755.4" r="0.8" fill="#7438c0" opacity="0.44"/>
<circle cx="324.7" cy="757.0" r="1.0" fill="#7438c0" opacity="0.16"/>
<circle cx="311.4" cy="741.4" r="0.9" fill="#7438c0" opacity="0.20"/>
<circle cx="324.8" cy="774.2" r="0.8" fill="#7438c0" opacity="0.39"/>
<circle cx="316.2" cy="783.2" r="1.0" fill="#7438c0" opacity="0.24"/>
<circle cx="318.8" cy="738.7" r="0.9" fill="#7438c0" opacity="0.30"/>
<circle cx="290.1" cy="773.4" r="0.5" fill="#7438c0" opacity="0.18"/>
<circle cx="304.8" cy="775.5" r="1.0" fill="#7438c0" opacity="0.28"/>
<circle cx="322.1" cy="748.9" r="1.0" fill="#7438c0" opacity="0.46"/>
<circle cx="302.4" cy="745.4" r="0.6" fill="#7438c0" opacity="0.35"/>
<circle cx="297.2" cy="787.8" r="0.5" fill="#7438c0" opacity="0.37"/>
<circle cx="297.2" cy="779.5" r="0.8" fill="#7438c0" opacity="0.49"/>
<circle cx="324.0" cy="763.2" r="1.0" fill="#7438c0" opacity="0.48"/>
<circle cx="286.0" cy="760.4" r="0.6" fill="#7438c0" opacity="0.43"/>
<circle cx="282.3" cy="766.2" r="1.0" fill="#7438c0" opacity="0.37"/>
<circle cx="299.9" cy="744.1" r="0.5" fill="#7438c0" opacity="0.31"/>
<circle cx="318.2" cy="768.5" r="1.0" fill="#7438c0" opacity="0.28"/>
<circle cx="319.4" cy="778.0" r="0.5" fill="#7438c0" opacity="0.36"/>
<circle cx="308.8" cy="777.0" r="0.8" fill="#7438c0" opacity="0.47"/>
<circle cx="330.9" cy="766.0" r="0.8" fill="#7438c0" opacity="0.32"/>
<circle cx="304.4" cy="765.3" r="0.7" fill="#7438c0" opacity="0.33"/>
<circle cx="292.5" cy="788.2" r="0.7" fill="#7438c0" opacity="0.45"/>
<circle cx="316.4" cy="740.4" r="0.7" fill="#7438c0" opacity="0.32"/>
<circle cx="312.4" cy="755.8" r="0.6" fill="#7438c0" opacity="0.15"/>
<circle cx="287.9" cy="764.9" r="1.0" fill="#7438c0" opacity="0.48"/>
<circle cx="290.4" cy="775.1" r="0.5" fill="#7438c0" opacity="0.41"/>
<circle cx="295.4" cy="762.5" r="1.0" fill="#7438c0" opacity="0.16"/>
<circle cx="313.9" cy="782.3" r="1.0" fill="#7438c0" opacity="0.20"/>
<circle cx="304.4" cy="789.0" r="0.7" fill="#7438c0" opacity="0.48"/>
<circle cx="320.8" cy="765.5" r="0.6" fill="#7438c0" opacity="0.45"/>
<circle cx="325.7" cy="777.9" r="1.0" fill="#7438c0" opacity="0.49"/>
<circle cx="309.2" cy="757.9" r="0.7" fill="#7438c0" opacity="0.23"/>
<circle cx="317.1" cy="773.6" r="0.9" fill="#7438c0" opacity="0.35"/>
<circle cx="317.4" cy="775.0" r="0.5" fill="#7438c0" opacity="0.47"/>
<circle cx="307.5" cy="744.4" r="1.0" fill="#7438c0" opacity="0.49"/>
<circle cx="310.9" cy="777.7" r="0.6" fill="#7438c0" opacity="0.37"/>
<circle cx="290.1" cy="752.4" r="0.9" fill="#7438c0" opacity="0.34"/>
<circle cx="297.8" cy="785.2" r="1.0" fill="#7438c0" opacity="0.17"/>
<circle cx="296.4" cy="764.8" r="0.9" fill="#7438c0" opacity="0.30"/>
<circle cx="319.3" cy="744.2" r="1.0" fill="#7438c0" opacity="0.35"/>
<circle cx="283.9" cy="748.0" r="0.9" fill="#7438c0" opacity="0.27"/>
<circle cx="328.7" cy="780.4" r="0.5" fill="#7438c0" opacity="0.47"/>
<circle cx="328.1" cy="754.5" r="1.0" fill="#7438c0" opacity="0.36"/>
<circle cx="306.4" cy="742.0" r="0.6" fill="#7438c0" opacity="0.18"/>
<circle cx="306.2" cy="744.8" r="0.5" fill="#7438c0" opacity="0.35"/>
<circle cx="305.6" cy="778.4" r="1.0" fill="#7438c0" opacity="0.37"/>
<circle cx="306.7" cy="738.2" r="0.7" fill="#7438c0" opacity="0.31"/>
<circle cx="291.5" cy="770.9" r="0.9" fill="#7438c0" opacity="0.46"/>
<circle cx="299.9" cy="786.8" r="0.6" fill="#7438c0" opacity="0.15"/>
<circle cx="297.1" cy="740.9" r="0.6" fill="#7438c0" opacity="0.50"/>
<circle cx="303.9" cy="748.1" r="0.9" fill="#7438c0" opacity="0.45"/>
<circle cx="324.3" cy="784.8" r="0.7" fill="#7438c0" opacity="0.25"/>
<circle cx="292.1" cy="778.3" r="0.8" fill="#7438c0" opacity="0.25"/>
<circle cx="328.0" cy="772.2" r="0.9" fill="#7438c0" opacity="0.39"/>
<circle cx="286.0" cy="779.8" r="0.5" fill="#7438c0" opacity="0.20"/>
<circle cx="328.0" cy="766.3" r="0.8" fill="#7438c0" opacity="0.23"/>
<circle cx="305.3" cy="763.6" r="0.5" fill="#7438c0" opacity="0.49"/>
<circle cx="312.6" cy="759.0" r="0.8" fill="#7438c0" opacity="0.33"/>
<circle cx="281.7" cy="757.7" r="0.8" fill="#7438c0" opacity="0.48"/>
<circle cx="295.7" cy="739.2" r="0.5" fill="#7438c0" opacity="0.44"/>
<circle cx="295.5" cy="788.6" r="0.9" fill="#7438c0" opacity="0.49"/>
<circle cx="307.6" cy="746.1" r="0.8" fill="#7438c0" opacity="0.42"/>
<circle cx="326.5" cy="771.3" r="0.8" fill="#7438c0" opacity="0.40"/>
<circle cx="294.9" cy="782.4" r="0.9" fill="#7438c0" opacity="0.28"/>
<circle cx="295.8" cy="739.3" r="0.7" fill="#7438c0" opacity="0.33"/>
<circle cx="281.1" cy="766.5" r="0.6" fill="#7438c0" opacity="0.25"/>
<circle cx="289.1" cy="778.2" r="0.5" fill="#7438c0" opacity="0.49"/>
<circle cx="282.7" cy="763.4" r="0.7" fill="#7438c0" opacity="0.16"/>
<circle cx="290.8" cy="778.1" r="0.5" fill="#7438c0" opacity="0.49"/>
<circle cx="290.6" cy="753.9" r="0.5" fill="#7438c0" opacity="0.24"/>
<circle cx="295.1" cy="783.4" r="0.6" fill="#7438c0" opacity="0.32"/>
<circle cx="304.2" cy="785.1" r="0.9" fill="#7438c0" opacity="0.33"/>
<circle cx="307.0" cy="741.5" r="0.5" fill="#7438c0" opacity="0.38"/>
<circle cx="282.4" cy="766.4" r="1.0" fill="#7438c0" opacity="0.27"/>
<circle cx="315.0" cy="752.9" r="0.8" fill="#7438c0" opacity="0.15"/>
<circle cx="315.6" cy="747.0" r="0.7" fill="#7438c0" opacity="0.32"/>
<circle cx="297.5" cy="773.7" r="0.9" fill="#7438c0" opacity="0.37"/>
<circle cx="320.9" cy="768.9" r="1.0" fill="#7438c0" opacity="0.25"/>
<circle cx="301.2" cy="784.7" r="0.7" fill="#7438c0" opacity="0.48"/>
<circle cx="317.2" cy="762.8" r="0.6" fill="#7438c0" opacity="0.21"/>
<circle cx="292.8" cy="769.1" r="0.9" fill="#7438c0" opacity="0.46"/>
<circle cx="311.1" cy="765.9" r="0.5" fill="#7438c0" opacity="0.26"/>
<circle cx="319.5" cy="777.8" r="0.7" fill="#7438c0" opacity="0.40"/>
<circle cx="334.5" cy="758.1" r="0.7" fill="#7438c0" opacity="0.38"/>
<circle cx="322.0" cy="780.3" r="1.0" fill="#7438c0" opacity="0.46"/>
<circle cx="314.4" cy="772.8" r="1.0" fill="#7438c0" opacity="0.39"/>
<circle cx="307.6" cy="756.5" r="0.8" fill="#7438c0" opacity="0.16"/>
<circle cx="304.9" cy="738.7" r="0.6" fill="#7438c0" opacity="0.15"/>
<circle cx="304.0" cy="735.7" r="0.8" fill="#7438c0" opacity="0.28"/>
<circle cx="294.8" cy="786.4" r="1.0" fill="#7438c0" opacity="0.28"/>
<circle cx="312.1" cy="791.8" r="0.7" fill="#7438c0" opacity="0.30"/>
<circle cx="298.0" cy="786.4" r="1.0" fill="#7438c0" opacity="0.31"/>
<circle cx="318.0" cy="749.7" r="0.7" fill="#7438c0" opacity="0.43"/>
<circle cx="331.3" cy="759.4" r="0.9" fill="#7438c0" opacity="0.44"/>
<circle cx="331.2" cy="750.4" r="0.8" fill="#7438c0" opacity="0.29"/>
<circle cx="327.6" cy="764.8" r="0.7" fill="#7438c0" opacity="0.15"/>
<circle cx="322.7" cy="763.2" r="1.0" fill="#7438c0" opacity="0.16"/>
<circle cx="291.0" cy="783.3" r="0.9" fill="#7438c0" opacity="0.39"/>
<circle cx="298.4" cy="764.5" r="0.9" fill="#7438c0" opacity="0.42"/>
<circle cx="285.9" cy="766.9" r="0.9" fill="#7438c0" opacity="0.32"/>
<circle cx="287.4" cy="766.9" r="0.9" fill="#7438c0" opacity="0.41"/>
<circle cx="294.3" cy="785.5" r="0.7" fill="#7438c0" opacity="0.39"/>
<circle cx="287.7" cy="782.7" r="1.0" fill="#7438c0" opacity="0.42"/>
<circle cx="294.6" cy="775.3" r="0.7" fill="#7438c0" opacity="0.36"/>
<circle cx="327.5" cy="768.3" r="1.0" fill="#7438c0" opacity="0.17"/>
<circle cx="323.7" cy="750.3" r="1.0" fill="#7438c0" opacity="0.40"/>
<circle cx="302.2" cy="739.7" r="0.7" fill="#7438c0" opacity="0.19"/>
<circle cx="323.3" cy="742.8" r="0.9" fill="#7438c0" opacity="0.23"/>
<circle cx="286.6" cy="764.0" r="0.7" fill="#7438c0" opacity="0.32"/>
<circle cx="279.9" cy="771.3" r="0.8" fill="#7438c0" opacity="0.49"/>
<circle cx="317.0" cy="757.4" r="0.9" fill="#7438c0" opacity="0.28"/>
<circle cx="289.5" cy="751.7" r="0.9" fill="#7438c0" opacity="0.26"/>
<circle cx="299.4" cy="748.4" r="0.9" fill="#7438c0" opacity="0.32"/>
<circle cx="289.4" cy="741.7" r="0.6" fill="#7438c0" opacity="0.15"/>
<circle cx="323.3" cy="751.3" r="0.8" fill="#7438c0" opacity="0.44"/>
<circle cx="320.6" cy="752.7" r="1.0" fill="#7438c0" opacity="0.29"/>
<circle cx="303.2" cy="738.3" r="0.7" fill="#7438c0" opacity="0.30"/>
<circle cx="295.9" cy="776.3" r="0.7" fill="#7438c0" opacity="0.45"/>
<circle cx="333.2" cy="774.4" r="0.9" fill="#7438c0" opacity="0.35"/>
<circle cx="297.3" cy="751.8" r="0.9" fill="#7438c0" opacity="0.46"/>
<circle cx="292.2" cy="777.5" r="0.6" fill="#7438c0" opacity="0.24"/>
<circle cx="320.6" cy="745.6" r="0.7" fill="#7438c0" opacity="0.37"/>
<circle cx="307.7" cy="765.5" r="0.7" fill="#7438c0" opacity="0.35"/>
<circle cx="315.4" cy="783.1" r="0.6" fill="#7438c0" opacity="0.24"/>
<circle cx="305.9" cy="746.9" r="0.9" fill="#7438c0" opacity="0.41"/>
<circle cx="303.4" cy="767.5" r="1.0" fill="#7438c0" opacity="0.34"/>
<circle cx="286.4" cy="752.6" r="0.8" fill="#7438c0" opacity="0.47"/>
<circle cx="334.9" cy="765.4" r="0.8" fill="#7438c0" opacity="0.29"/>
<circle cx="329.5" cy="749.1" r="0.8" fill="#7438c0" opacity="0.15"/>
<circle cx="294.0" cy="751.1" r="0.8" fill="#7438c0" opacity="0.44"/>
<circle cx="324.7" cy="783.1" r="0.6" fill="#7438c0" opacity="0.24"/>
<circle cx="316.0" cy="766.1" r="0.6" fill="#7438c0" opacity="0.34"/>
<circle cx="318.0" cy="759.6" r="0.6" fill="#7438c0" opacity="0.28"/>
<circle cx="296.2" cy="750.9" r="0.9" fill="#7438c0" opacity="0.20"/>
<circle cx="327.8" cy="769.8" r="0.9" fill="#7438c0" opacity="0.20"/>
<circle cx="329.2" cy="770.8" r="0.5" fill="#7438c0" opacity="0.47"/>
<circle cx="302.9" cy="753.3" r="0.7" fill="#7438c0" opacity="0.17"/>
<circle cx="321.4" cy="772.7" r="1.0" fill="#7438c0" opacity="0.47"/>
<circle cx="307.5" cy="741.2" r="0.8" fill="#7438c0" opacity="0.33"/>
<circle cx="295.8" cy="747.3" r="0.7" fill="#7438c0" opacity="0.44"/>
<circle cx="301.3" cy="781.1" r="0.9" fill="#7438c0" opacity="0.49"/>
<circle cx="296.5" cy="779.4" r="0.7" fill="#7438c0" opacity="0.22"/>
<circle cx="291.5" cy="783.9" r="0.6" fill="#7438c0" opacity="0.32"/>
<circle cx="302.4" cy="785.0" r="0.9" fill="#7438c0" opacity="0.19"/>
<circle cx="294.7" cy="764.9" r="0.8" fill="#7438c0" opacity="0.39"/>
<circle cx="309.5" cy="777.3" r="0.6" fill="#7438c0" opacity="0.26"/>
<circle cx="327.8" cy="747.3" r="0.9" fill="#7438c0" opacity="0.29"/>
<circle cx="294.7" cy="767.3" r="0.7" fill="#7438c0" opacity="0.48"/>
<circle cx="322.0" cy="773.6" r="0.6" fill="#7438c0" opacity="0.45"/>
<circle cx="300.7" cy="782.7" r="0.5" fill="#7438c0" opacity="0.39"/>
<circle cx="281.7" cy="761.7" r="0.9" fill="#7438c0" opacity="0.41"/>
<circle cx="305.9" cy="778.1" r="0.8" fill="#7438c0" opacity="0.17"/>
<circle cx="329.3" cy="754.6" r="0.7" fill="#7438c0" opacity="0.28"/>
<circle cx="325.7" cy="773.8" r="0.9" fill="#7438c0" opacity="0.19"/>
<circle cx="326.1" cy="777.6" r="0.7" fill="#7438c0" opacity="0.43"/>
<circle cx="283.1" cy="778.8" r="1.0" fill="#7438c0" opacity="0.26"/>
<circle cx="285.8" cy="758.9" r="0.7" fill="#7438c0" opacity="0.44"/>
<circle cx="299.9" cy="739.2" r="0.6" fill="#7438c0" opacity="0.33"/>
<circle cx="286.1" cy="758.0" r="0.5" fill="#7438c0" opacity="0.43"/>
<circle cx="296.3" cy="767.5" r="1.0" fill="#7438c0" opacity="0.34"/>
<circle cx="305.5" cy="739.5" r="0.8" fill="#7438c0" opacity="0.47"/>
<circle cx="322.4" cy="769.5" r="0.5" fill="#7438c0" opacity="0.37"/>
<circle cx="307.9" cy="768.6" r="0.5" fill="#7438c0" opacity="0.21"/>
<circle cx="288.4" cy="759.1" r="0.7" fill="#7438c0" opacity="0.15"/>
<circle cx="292.9" cy="761.4" r="0.5" fill="#7438c0" opacity="0.17"/>
<circle cx="317.5" cy="778.5" r="0.6" fill="#7438c0" opacity="0.31"/>
<circle cx="319.6" cy="784.8" r="1.0" fill="#7438c0" opacity="0.26"/>
<circle cx="332.1" cy="776.1" r="0.5" fill="#7438c0" opacity="0.38"/>
<circle cx="307.8" cy="744.2" r="1.0" fill="#7438c0" opacity="0.20"/>
<circle cx="302.0" cy="737.3" r="1.0" fill="#7438c0" opacity="0.45"/>
<circle cx="288.3" cy="771.8" r="1.0" fill="#7438c0" opacity="0.28"/>
<circle cx="306.8" cy="768.9" r="0.6" fill="#7438c0" opacity="0.20"/>
<circle cx="321.3" cy="757.1" r="0.7" fill="#7438c0" opacity="0.49"/>
<circle cx="300.2" cy="746.5" r="0.5" fill="#7438c0" opacity="0.28"/>
<circle cx="300.0" cy="790.7" r="0.7" fill="#7438c0" opacity="0.49"/>
<circle cx="306.2" cy="770.0" r="1.0" fill="#7438c0" opacity="0.18"/>
<circle cx="312.2" cy="742.6" r="0.6" fill="#7438c0" opacity="0.44"/>
<circle cx="281.6" cy="776.0" r="0.8" fill="#7438c0" opacity="0.48"/>
<circle cx="322.8" cy="756.5" r="0.9" fill="#7438c0" opacity="0.40"/>
<circle cx="304.6" cy="760.3" r="0.9" fill="#7438c0" opacity="0.42"/>
<circle cx="310.0" cy="772.1" r="0.5" fill="#7438c0" opacity="0.34"/>
<circle cx="327.6" cy="780.1" r="0.7" fill="#7438c0" opacity="0.50"/>
<circle cx="305.1" cy="745.4" r="0.6" fill="#7438c0" opacity="0.30"/>
<circle cx="286.4" cy="747.5" r="1.0" fill="#7438c0" opacity="0.26"/>
<circle cx="329.9" cy="767.3" r="0.9" fill="#7438c0" opacity="0.38"/>
<circle cx="315.4" cy="739.7" r="0.8" fill="#7438c0" opacity="0.44"/>
<circle cx="326.5" cy="783.5" r="0.8" fill="#7438c0" opacity="0.18"/>
<circle cx="318.2" cy="783.7" r="0.6" fill="#7438c0" opacity="0.48"/>
<circle cx="303.4" cy="783.4" r="0.8" fill="#7438c0" opacity="0.48"/>
<circle cx="298.1" cy="789.2" r="0.9" fill="#7438c0" opacity="0.35"/>
<circle cx="332.2" cy="755.0" r="0.9" fill="#7438c0" opacity="0.34"/>
<circle cx="319.8" cy="767.5" r="0.8" fill="#7438c0" opacity="0.19"/>
<circle cx="296.6" cy="750.8" r="0.7" fill="#7438c0" opacity="0.44"/>
<circle cx="320.3" cy="743.2" r="0.7" fill="#7438c0" opacity="0.34"/>
<circle cx="334.2" cy="761.4" r="0.8" fill="#7438c0" opacity="0.18"/>
<circle cx="311.9" cy="760.4" r="0.5" fill="#7438c0" opacity="0.38"/>
<circle cx="315.2" cy="787.2" r="0.9" fill="#7438c0" opacity="0.21"/>
<circle cx="330.8" cy="748.4" r="0.8" fill="#7438c0" opacity="0.49"/>
<circle cx="313.2" cy="745.4" r="0.9" fill="#7438c0" opacity="0.48"/>
<circle cx="304.3" cy="756.1" r="0.7" fill="#7438c0" opacity="0.40"/>
<circle cx="299.3" cy="772.6" r="0.7" fill="#7438c0" opacity="0.20"/>
<circle cx="298.2" cy="765.3" r="0.9" fill="#7438c0" opacity="0.22"/>
<circle cx="315.6" cy="760.2" r="0.8" fill="#7438c0" opacity="0.38"/>
<circle cx="314.1" cy="785.3" r="0.8" fill="#7438c0" opacity="0.37"/>
<circle cx="314.8" cy="781.9" r="1.0" fill="#7438c0" opacity="0.37"/>
<circle cx="307.6" cy="780.3" r="1.0" fill="#7438c0" opacity="0.17"/>
<circle cx="286.8" cy="766.7" r="0.7" fill="#7438c0" opacity="0.15"/>
<circle cx="327.5" cy="780.1" r="0.7" fill="#7438c0" opacity="0.25"/>
<circle cx="300.8" cy="765.8" r="0.5" fill="#7438c0" opacity="0.44"/>
<circle cx="307.8" cy="751.3" r="0.6" fill="#7438c0" opacity="0.18"/>
<circle cx="298.5" cy="782.6" r="0.9" fill="#7438c0" opacity="0.33"/>
<circle cx="323.4" cy="740.7" r="0.8" fill="#7438c0" opacity="0.17"/>
<circle cx="322.5" cy="781.3" r="0.5" fill="#7438c0" opacity="0.46"/>
<circle cx="313.3" cy="766.1" r="1.0" fill="#7438c0" opacity="0.29"/>
<circle cx="286.4" cy="756.5" r="0.5" fill="#7438c0" opacity="0.27"/>
<circle cx="290.4" cy="781.8" r="0.9" fill="#7438c0" opacity="0.39"/>
<circle cx="315.1" cy="781.4" r="1.0" fill="#7438c0" opacity="0.21"/>
<circle cx="294.0" cy="782.0" r="1.0" fill="#7438c0" opacity="0.16"/>
<circle cx="300.0" cy="745.9" r="0.8" fill="#7438c0" opacity="0.44"/>
<circle cx="325.1" cy="776.4" r="0.6" fill="#7438c0" opacity="0.41"/>
<circle cx="302.9" cy="746.0" r="0.5" fill="#7438c0" opacity="0.42"/>
<circle cx="300.5" cy="743.6" r="0.9" fill="#7438c0" opacity="0.48"/>
<circle cx="307.8" cy="787.5" r="0.9" fill="#7438c0" opacity="0.24"/>
<circle cx="320.1" cy="754.8" r="1.0" fill="#7438c0" opacity="0.35"/>
<circle cx="333.3" cy="759.4" r="0.9" fill="#7438c0" opacity="0.28"/>
<circle cx="286.0" cy="769.6" r="0.9" fill="#7438c0" opacity="0.30"/>
<circle cx="317.7" cy="756.0" r="0.8" fill="#7438c0" opacity="0.20"/>
<circle cx="314.3" cy="777.4" r="0.5" fill="#7438c0" opacity="0.35"/>
<circle cx="294.0" cy="751.6" r="0.9" fill="#7438c0" opacity="0.34"/>
<circle cx="303.6" cy="756.3" r="0.6" fill="#7438c0" opacity="0.16"/>
<circle cx="321.1" cy="786.0" r="0.5" fill="#7438c0" opacity="0.36"/>
<circle cx="290.3" cy="780.1" r="1.0" fill="#7438c0" opacity="0.44"/>
<circle cx="334.3" cy="757.8" r="0.7" fill="#7438c0" opacity="0.50"/>
<circle cx="308.2" cy="749.0" r="0.6" fill="#7438c0" opacity="0.33"/>
<circle cx="312.0" cy="756.5" r="1.0" fill="#7438c0" opacity="0.38"/>
<circle cx="291.9" cy="753.9" r="0.7" fill="#7438c0" opacity="0.29"/>
<circle cx="303.0" cy="745.4" r="0.9" fill="#7438c0" opacity="0.46"/>
<circle cx="310.3" cy="765.9" r="1.0" fill="#7438c0" opacity="0.22"/>
<circle cx="314.1" cy="747.3" r="0.6" fill="#7438c0" opacity="0.15"/>
<circle cx="287.2" cy="773.4" r="0.5" fill="#7438c0" opacity="0.15"/>
<circle cx="300.8" cy="789.8" r="0.9" fill="#7438c0" opacity="0.24"/>
<circle cx="291.9" cy="774.4" r="0.9" fill="#7438c0" opacity="0.25"/>
<circle cx="294.6" cy="779.8" r="0.6" fill="#7438c0" opacity="0.30"/>
<circle cx="306.7" cy="743.7" r="0.5" fill="#7438c0" opacity="0.27"/>
<circle cx="294.6" cy="758.1" r="0.7" fill="#7438c0" opacity="0.35"/>
<circle cx="299.0" cy="773.0" r="1.0" fill="#7438c0" opacity="0.17"/>
<circle cx="314.3" cy="759.0" r="0.8" fill="#7438c0" opacity="0.34"/>
<circle cx="288.1" cy="776.0" r="1.0" fill="#7438c0" opacity="0.26"/>
<circle cx="318.8" cy="768.6" r="1.0" fill="#7438c0" opacity="0.36"/>
<circle cx="307.5" cy="746.2" r="0.6" fill="#7438c0" opacity="0.39"/>
<circle cx="282.3" cy="752.6" r="0.5" fill="#7438c0" opacity="0.27"/>
<circle cx="297.2" cy="738.7" r="0.7" fill="#7438c0" opacity="0.43"/>
<circle cx="324.6" cy="778.3" r="0.6" fill="#7438c0" opacity="0.39"/>
<circle cx="303.4" cy="775.6" r="0.6" fill="#7438c0" opacity="0.40"/>
<circle cx="300.6" cy="737.5" r="0.7" fill="#7438c0" opacity="0.17"/>
<circle cx="312.2" cy="750.5" r="0.9" fill="#7438c0" opacity="0.32"/>
<circle cx="302.3" cy="765.6" r="0.6" fill="#7438c0" opacity="0.41"/>
<circle cx="281.2" cy="770.6" r="0.9" fill="#7438c0" opacity="0.34"/>
<circle cx="308.4" cy="763.7" r="0.7" fill="#7438c0" opacity="0.34"/>
<circle cx="332.0" cy="772.7" r="0.5" fill="#7438c0" opacity="0.35"/>
<circle cx="304.7" cy="781.3" r="0.7" fill="#7438c0" opacity="0.25"/>
<circle cx="318.0" cy="784.3" r="0.8" fill="#7438c0" opacity="0.18"/>
<circle cx="316.1" cy="762.3" r="0.6" fill="#7438c0" opacity="0.25"/>
<circle cx="293.9" cy="778.9" r="1.0" fill="#7438c0" opacity="0.19"/>
<circle cx="286.9" cy="753.8" r="0.6" fill="#7438c0" opacity="0.27"/>
<circle cx="281.8" cy="773.0" r="0.9" fill="#7438c0" opacity="0.32"/>
<circle cx="322.4" cy="771.0" r="0.9" fill="#7438c0" opacity="0.30"/>
<circle cx="289.4" cy="778.3" r="0.5" fill="#7438c0" opacity="0.38"/>
<circle cx="303.2" cy="755.1" r="0.7" fill="#7438c0" opacity="0.45"/>
<circle cx="305.4" cy="784.5" r="0.7" fill="#7438c0" opacity="0.34"/>
<circle cx="294.1" cy="774.5" r="1.0" fill="#7438c0" opacity="0.39"/>
<circle cx="323.4" cy="763.8" r="0.7" fill="#7438c0" opacity="0.28"/>
<circle cx="318.5" cy="751.1" r="0.9" fill="#7438c0" opacity="0.21"/>
<circle cx="292.8" cy="760.0" r="1.0" fill="#7438c0" opacity="0.28"/>
<circle cx="327.5" cy="757.6" r="0.7" fill="#7438c0" opacity="0.34"/>
<circle cx="328.5" cy="753.9" r="0.9" fill="#7438c0" opacity="0.35"/>
<circle cx="299.2" cy="756.7" r="0.9" fill="#7438c0" opacity="0.37"/>
<circle cx="297.7" cy="751.3" r="0.9" fill="#7438c0" opacity="0.33"/>
<circle cx="294.9" cy="789.5" r="0.9" fill="#7438c0" opacity="0.39"/>
<circle cx="319.7" cy="743.9" r="0.7" fill="#7438c0" opacity="0.48"/>
<circle cx="326.3" cy="750.9" r="0.7" fill="#7438c0" opacity="0.33"/>
<circle cx="332.7" cy="771.5" r="0.9" fill="#7438c0" opacity="0.36"/>
<circle cx="282.1" cy="769.3" r="0.5" fill="#7438c0" opacity="0.29"/>
<circle cx="306.9" cy="786.1" r="0.7" fill="#7438c0" opacity="0.36"/>
<circle cx="321.6" cy="753.0" r="0.5" fill="#7438c0" opacity="0.15"/>
<circle cx="316.9" cy="747.2" r="0.7" fill="#7438c0" opacity="0.16"/>
<circle cx="307.6" cy="764.3" r="1.0" fill="#7438c0" opacity="0.17"/>
<circle cx="298.5" cy="781.5" r="0.8" fill="#7438c0" opacity="0.23"/>
<circle cx="293.2" cy="745.9" r="1.0" fill="#7438c0" opacity="0.18"/>
<circle cx="304.4" cy="772.6" r="0.6" fill="#7438c0" opacity="0.22"/>
<circle cx="332.1" cy="768.7" r="0.6" fill="#7438c0" opacity="0.41"/>
<circle cx="316.9" cy="740.6" r="0.5" fill="#7438c0" opacity="0.36"/>
<circle cx="320.4" cy="745.7" r="0.8" fill="#7438c0" opacity="0.30"/>
<circle cx="316.1" cy="745.3" r="0.7" fill="#7438c0" opacity="0.32"/>
<circle cx="294.9" cy="766.1" r="0.9" fill="#7438c0" opacity="0.44"/>
<circle cx="305.4" cy="761.5" r="0.7" fill="#7438c0" opacity="0.42"/>
<circle cx="320.7" cy="778.7" r="0.9" fill="#7438c0" opacity="0.34"/>
<circle cx="305.2" cy="767.1" r="0.9" fill="#7438c0" opacity="0.21"/>
<circle cx="290.4" cy="751.7" r="0.9" fill="#7438c0" opacity="0.19"/>
<circle cx="331.2" cy="759.9" r="1.0" fill="#7438c0" opacity="0.21"/>
<circle cx="303.8" cy="746.7" r="0.9" fill="#7438c0" opacity="0.39"/>
<circle cx="283.8" cy="778.9" r="0.7" fill="#7438c0" opacity="0.31"/>
<circle cx="304.6" cy="753.1" r="1.0" fill="#7438c0" opacity="0.27"/>
<circle cx="315.2" cy="756.9" r="0.5" fill="#7438c0" opacity="0.36"/>
<circle cx="308.1" cy="782.7" r="0.6" fill="#7438c0" opacity="0.40"/>
<circle cx="305.1" cy="740.4" r="0.5" fill="#7438c0" opacity="0.17"/>
<circle cx="300.0" cy="759.9" r="0.9" fill="#7438c0" opacity="0.34"/>
<circle cx="330.4" cy="753.3" r="0.8" fill="#7438c0" opacity="0.44"/>
<circle cx="291.7" cy="763.2" r="0.5" fill="#7438c0" opacity="0.40"/>
<circle cx="295.6" cy="744.4" r="0.8" fill="#7438c0" opacity="0.31"/>
<circle cx="322.2" cy="755.4" r="0.5" fill="#7438c0" opacity="0.48"/>
<circle cx="308.9" cy="737.1" r="1.0" fill="#7438c0" opacity="0.30"/>
<circle cx="318.2" cy="780.4" r="0.7" fill="#7438c0" opacity="0.29"/>
<circle cx="310.2" cy="750.1" r="1.0" fill="#7438c0" opacity="0.22"/>
<circle cx="301.5" cy="789.2" r="0.6" fill="#7438c0" opacity="0.40"/>
<circle cx="304.3" cy="781.9" r="0.7" fill="#7438c0" opacity="0.24"/>
<circle cx="319.2" cy="739.2" r="1.0" fill="#7438c0" opacity="0.21"/>
<circle cx="325.6" cy="766.9" r="0.9" fill="#7438c0" opacity="0.34"/>
<circle cx="334.4" cy="757.0" r="0.9" fill="#7438c0" opacity="0.24"/>
<circle cx="301.1" cy="768.1" r="0.7" fill="#7438c0" opacity="0.41"/>
<circle cx="302.1" cy="775.1" r="0.8" fill="#7438c0" opacity="0.46"/>
<circle cx="301.3" cy="756.4" r="0.7" fill="#7438c0" opacity="0.23"/>
<circle cx="314.0" cy="746.9" r="0.7" fill="#7438c0" opacity="0.46"/>
<circle cx="301.5" cy="782.1" r="1.0" fill="#7438c0" opacity="0.26"/>
<circle cx="284.8" cy="758.3" r="0.7" fill="#7438c0" opacity="0.37"/>
<circle cx="284.2" cy="776.2" r="0.8" fill="#7438c0" opacity="0.40"/>
<circle cx="285.7" cy="753.4" r="0.7" fill="#7438c0" opacity="0.20"/>
<circle cx="296.4" cy="776.2" r="0.5" fill="#7438c0" opacity="0.42"/>
<circle cx="287.5" cy="760.8" r="0.9" fill="#7438c0" opacity="0.17"/>
<circle cx="323.9" cy="781.0" r="0.5" fill="#7438c0" opacity="0.45"/>
<circle cx="279.1" cy="762.5" r="1.0" fill="#7438c0" opacity="0.29"/>
<circle cx="296.6" cy="779.5" r="0.9" fill="#7438c0" opacity="0.31"/>
<circle cx="301.7" cy="736.1" r="0.9" fill="#7438c0" opacity="0.33"/>
<circle cx="306.0" cy="743.9" r="0.8" fill="#7438c0" opacity="0.30"/>
<circle cx="332.9" cy="752.7" r="0.8" fill="#7438c0" opacity="0.35"/>
<circle cx="324.0" cy="776.8" r="1.0" fill="#7438c0" opacity="0.23"/>
<circle cx="309.2" cy="749.7" r="0.9" fill="#7438c0" opacity="0.25"/>
<circle cx="286.4" cy="749.8" r="0.5" fill="#7438c0" opacity="0.44"/>
<circle cx="293.1" cy="761.8" r="0.6" fill="#7438c0" opacity="0.34"/>
<circle cx="306.3" cy="751.9" r="0.5" fill="#7438c0" opacity="0.23"/>
<circle cx="295.0" cy="750.4" r="0.9" fill="#7438c0" opacity="0.40"/>
<circle cx="292.3" cy="780.0" r="0.5" fill="#7438c0" opacity="0.36"/>
<circle cx="298.7" cy="752.9" r="0.8" fill="#7438c0" opacity="0.20"/>
<circle cx="327.7" cy="760.2" r="1.0" fill="#7438c0" opacity="0.38"/>
<circle cx="312.4" cy="787.6" r="0.8" fill="#7438c0" opacity="0.28"/>
<circle cx="298.3" cy="740.7" r="0.9" fill="#7438c0" opacity="0.23"/>
<circle cx="333.5" cy="758.1" r="0.7" fill="#7438c0" opacity="0.47"/>
<circle cx="323.7" cy="763.2" r="0.6" fill="#7438c0" opacity="0.24"/>
<circle cx="296.2" cy="764.6" r="0.6" fill="#7438c0" opacity="0.41"/>
<circle cx="329.1" cy="766.5" r="0.7" fill="#7438c0" opacity="0.40"/>
<circle cx="305.9" cy="783.5" r="0.6" fill="#7438c0" opacity="0.16"/>
<circle cx="318.3" cy="750.9" r="0.6" fill="#7438c0" opacity="0.48"/>
<circle cx="292.7" cy="779.1" r="0.5" fill="#7438c0" opacity="0.29"/>
<circle cx="325.3" cy="745.7" r="0.9" fill="#7438c0" opacity="0.47"/>
<circle cx="307.8" cy="770.4" r="0.5" fill="#7438c0" opacity="0.38"/>
<circle cx="290.4" cy="759.0" r="0.9" fill="#7438c0" opacity="0.23"/>
<circle cx="292.7" cy="752.4" r="0.5" fill="#7438c0" opacity="0.42"/>
<circle cx="317.2" cy="787.2" r="0.9" fill="#7438c0" opacity="0.30"/>
<circle cx="294.7" cy="767.6" r="0.5" fill="#7438c0" opacity="0.39"/>
<circle cx="292.3" cy="779.4" r="0.7" fill="#7438c0" opacity="0.24"/>
<circle cx="319.9" cy="785.1" r="0.7" fill="#7438c0" opacity="0.20"/>
<circle cx="314.8" cy="755.9" r="0.6" fill="#7438c0" opacity="0.21"/>
<circle cx="283.7" cy="754.7" r="0.5" fill="#7438c0" opacity="0.47"/>
<circle cx="299.4" cy="739.1" r="0.7" fill="#7438c0" opacity="0.30"/>
<circle cx="319.1" cy="772.0" r="1.0" fill="#7438c0" opacity="0.25"/>
<circle cx="328.1" cy="748.8" r="1.0" fill="#7438c0" opacity="0.20"/>
<circle cx="284.0" cy="776.0" r="0.6" fill="#7438c0" opacity="0.24"/>
<circle cx="327.6" cy="766.6" r="0.8" fill="#7438c0" opacity="0.22"/>
<circle cx="305.7" cy="786.5" r="0.6" fill="#7438c0" opacity="0.43"/>
<circle cx="319.8" cy="750.6" r="0.5" fill="#7438c0" opacity="0.35"/>
<circle cx="304.4" cy="772.7" r="0.9" fill="#7438c0" opacity="0.35"/>
<circle cx="305.1" cy="777.9" r="0.9" fill="#7438c0" opacity="0.47"/>
<circle cx="294.0" cy="781.4" r="0.6" fill="#7438c0" opacity="0.31"/>
<circle cx="293.3" cy="756.3" r="0.8" fill="#7438c0" opacity="0.34"/>
<circle cx="316.4" cy="766.5" r="0.7" fill="#7438c0" opacity="0.20"/>
<circle cx="286.0" cy="757.6" r="0.8" fill="#7438c0" opacity="0.46"/>
<circle cx="288.2" cy="748.7" r="0.6" fill="#6420b8" opacity="0.89"/>
<circle cx="326.2" cy="754.8" r="1.4" fill="#6420b8" opacity="0.75"/>
<circle cx="296.9" cy="768.3" r="0.9" fill="#6420b8" opacity="0.82"/>
<circle cx="314.2" cy="738.9" r="0.9" fill="#6420b8" opacity="0.93"/>
<circle cx="304.4" cy="766.6" r="0.8" fill="#6420b8" opacity="0.74"/>
<circle cx="308.9" cy="750.7" r="0.6" fill="#6420b8" opacity="0.83"/>
<circle cx="316.2" cy="787.6" r="1.0" fill="#6420b8" opacity="0.56"/>
<circle cx="283.0" cy="760.7" r="0.7" fill="#6420b8" opacity="0.93"/>
<circle cx="317.0" cy="767.6" r="1.0" fill="#6420b8" opacity="0.80"/>
<circle cx="285.8" cy="748.0" r="0.6" fill="#6420b8" opacity="0.52"/>
<circle cx="291.1" cy="760.1" r="0.8" fill="#6420b8" opacity="0.68"/>
<circle cx="317.9" cy="754.0" r="1.1" fill="#6420b8" opacity="0.76"/>
<circle cx="301.4" cy="789.6" r="0.7" fill="#6420b8" opacity="0.64"/>
<circle cx="315.1" cy="785.5" r="1.1" fill="#6420b8" opacity="0.66"/>
<circle cx="322.7" cy="778.2" r="0.7" fill="#6420b8" opacity="0.75"/>
<circle cx="306.4" cy="763.1" r="0.6" fill="#6420b8" opacity="0.87"/>
<circle cx="312.5" cy="757.9" r="0.7" fill="#6420b8" opacity="0.69"/>
<circle cx="314.6" cy="750.6" r="1.6" fill="#6420b8" opacity="0.54"/>
<circle cx="312.4" cy="760.2" r="1.0" fill="#6420b8" opacity="0.94"/>
<circle cx="302.3" cy="738.0" r="0.7" fill="#6420b8" opacity="0.93"/>
<circle cx="318.9" cy="755.7" r="1.3" fill="#6420b8" opacity="0.91"/>
<circle cx="310.9" cy="780.7" r="1.3" fill="#6420b8" opacity="0.76"/>
<circle cx="322.8" cy="754.9" r="0.8" fill="#6420b8" opacity="0.58"/>
<circle cx="303.1" cy="789.4" r="0.7" fill="#6420b8" opacity="0.90"/>
<circle cx="313.8" cy="744.2" r="0.7" fill="#6420b8" opacity="0.50"/>
<circle cx="325.5" cy="780.8" r="1.6" fill="#6420b8" opacity="0.93"/>
<circle cx="302.0" cy="790.1" r="0.8" fill="#6420b8" opacity="0.67"/>
<circle cx="328.0" cy="750.4" r="1.1" fill="#6420b8" opacity="0.63"/>
<circle cx="316.2" cy="771.2" r="0.7" fill="#6420b8" opacity="0.59"/>
<circle cx="293.1" cy="757.2" r="0.7" fill="#6420b8" opacity="0.89"/>
<circle cx="306.0" cy="765.0" r="0.6" fill="#6420b8" opacity="0.75"/>
<circle cx="327.2" cy="767.7" r="0.6" fill="#6420b8" opacity="0.71"/>
<circle cx="292.1" cy="750.2" r="0.7" fill="#6420b8" opacity="0.88"/>
<circle cx="331.5" cy="759.6" r="1.6" fill="#6420b8" opacity="0.94"/>
<circle cx="293.3" cy="778.9" r="0.8" fill="#6420b8" opacity="0.85"/>
<circle cx="313.5" cy="775.3" r="0.8" fill="#6420b8" opacity="0.74"/>
<circle cx="322.9" cy="763.0" r="0.6" fill="#6420b8" opacity="0.67"/>
<circle cx="313.1" cy="757.9" r="0.9" fill="#6420b8" opacity="0.77"/>
<circle cx="315.4" cy="750.5" r="1.0" fill="#6420b8" opacity="0.93"/>
<circle cx="327.4" cy="760.3" r="0.7" fill="#6420b8" opacity="0.79"/>
<circle cx="304.2" cy="741.4" r="1.1" fill="#6420b8" opacity="0.67"/>
<circle cx="303.5" cy="747.9" r="0.7" fill="#6420b8" opacity="0.54"/>
<circle cx="296.3" cy="760.2" r="0.7" fill="#6420b8" opacity="0.63"/>
<circle cx="294.7" cy="776.7" r="1.6" fill="#6420b8" opacity="0.74"/>
<circle cx="290.4" cy="758.6" r="0.9" fill="#6420b8" opacity="0.87"/>
<circle cx="287.5" cy="761.1" r="0.7" fill="#6420b8" opacity="0.58"/>
<circle cx="308.9" cy="771.9" r="0.7" fill="#6420b8" opacity="0.52"/>
<circle cx="289.0" cy="774.4" r="0.6" fill="#6420b8" opacity="0.84"/>
<circle cx="286.2" cy="770.4" r="0.8" fill="#6420b8" opacity="0.86"/>
<circle cx="302.9" cy="755.2" r="0.9" fill="#6420b8" opacity="0.62"/>
<circle cx="306.7" cy="747.1" r="0.7" fill="#6420b8" opacity="0.52"/>
<circle cx="316.5" cy="763.1" r="0.7" fill="#6420b8" opacity="0.92"/>
<circle cx="323.8" cy="769.5" r="0.8" fill="#6420b8" opacity="0.81"/>
<circle cx="312.5" cy="737.3" r="0.7" fill="#6420b8" opacity="0.54"/>
<circle cx="307.4" cy="765.8" r="0.7" fill="#6420b8" opacity="0.78"/>
<circle cx="313.8" cy="758.5" r="0.7" fill="#6420b8" opacity="0.90"/>
<circle cx="292.1" cy="754.8" r="0.6" fill="#6420b8" opacity="0.53"/>
<circle cx="311.4" cy="785.1" r="0.6" fill="#6420b8" opacity="0.73"/>
<circle cx="307.6" cy="762.7" r="0.7" fill="#6420b8" opacity="0.69"/>
<circle cx="288.8" cy="748.9" r="1.1" fill="#6420b8" opacity="0.70"/>
<circle cx="295.5" cy="782.5" r="0.8" fill="#6420b8" opacity="0.92"/>
<circle cx="286.3" cy="760.1" r="1.1" fill="#6420b8" opacity="0.72"/>
<circle cx="284.6" cy="765.0" r="1.0" fill="#6420b8" opacity="0.95"/>
<circle cx="300.4" cy="782.1" r="1.6" fill="#6420b8" opacity="0.87"/>
<circle cx="292.7" cy="758.8" r="0.6" fill="#6420b8" opacity="0.69"/>
<circle cx="290.8" cy="772.0" r="0.7" fill="#6420b8" opacity="0.72"/>
<circle cx="299.1" cy="760.0" r="1.1" fill="#6420b8" opacity="0.82"/>
<circle cx="311.6" cy="776.8" r="0.6" fill="#6420b8" opacity="0.71"/>
<circle cx="299.0" cy="748.1" r="1.0" fill="#6420b8" opacity="0.77"/>
<circle cx="313.1" cy="765.7" r="0.9" fill="#6420b8" opacity="0.92"/>
<circle cx="302.0" cy="746.2" r="0.7" fill="#6420b8" opacity="0.56"/>
<circle cx="292.4" cy="744.8" r="0.8" fill="#6420b8" opacity="0.54"/>
<circle cx="303.1" cy="786.7" r="1.3" fill="#6420b8" opacity="0.68"/>
<circle cx="320.1" cy="752.7" r="0.6" fill="#6420b8" opacity="0.59"/>
<circle cx="324.8" cy="749.2" r="0.6" fill="#6420b8" opacity="0.63"/>
<circle cx="291.9" cy="775.6" r="0.6" fill="#6420b8" opacity="0.91"/>
<circle cx="293.1" cy="761.2" r="0.6" fill="#6420b8" opacity="0.76"/>
<circle cx="328.3" cy="754.3" r="1.4" fill="#6420b8" opacity="0.89"/>
<circle cx="303.7" cy="758.2" r="0.7" fill="#6420b8" opacity="0.76"/>
<circle cx="295.9" cy="770.4" r="0.6" fill="#6420b8" opacity="0.89"/>
<circle cx="299.5" cy="750.8" r="0.8" fill="#6420b8" opacity="0.89"/>
<circle cx="320.5" cy="781.1" r="0.7" fill="#6420b8" opacity="0.91"/>
<circle cx="315.4" cy="738.4" r="0.8" fill="#6420b8" opacity="0.73"/>
<circle cx="299.9" cy="778.6" r="1.6" fill="#6420b8" opacity="0.94"/>
<circle cx="333.2" cy="762.9" r="0.9" fill="#6420b8" opacity="0.80"/>
<circle cx="322.1" cy="754.0" r="1.5" fill="#6420b8" opacity="0.86"/>
<circle cx="303.5" cy="780.0" r="1.1" fill="#6420b8" opacity="0.57"/>
<circle cx="306.5" cy="776.0" r="0.6" fill="#6420b8" opacity="0.91"/>
<circle cx="332.0" cy="763.5" r="0.9" fill="#6420b8" opacity="0.84"/>
<circle cx="299.9" cy="747.0" r="0.9" fill="#6420b8" opacity="0.56"/>
<circle cx="307.8" cy="780.0" r="0.7" fill="#6420b8" opacity="0.80"/>
<circle cx="307.7" cy="777.3" r="1.4" fill="#6420b8" opacity="0.85"/>
<circle cx="329.1" cy="753.9" r="0.6" fill="#6420b8" opacity="0.72"/>
<circle cx="319.5" cy="742.5" r="0.7" fill="#6420b8" opacity="0.72"/>
<circle cx="304.5" cy="762.4" r="0.7" fill="#6420b8" opacity="0.83"/>
<circle cx="297.8" cy="747.9" r="1.0" fill="#6420b8" opacity="0.74"/>
<circle cx="302.4" cy="770.5" r="1.2" fill="#6420b8" opacity="0.85"/>
<circle cx="284.8" cy="773.5" r="1.4" fill="#6420b8" opacity="0.81"/>
<circle cx="316.7" cy="738.6" r="0.6" fill="#6420b8" opacity="0.92"/>
<circle cx="283.8" cy="771.1" r="1.2" fill="#6420b8" opacity="0.54"/>
<circle cx="300.0" cy="759.6" r="1.2" fill="#6420b8" opacity="0.65"/>
<circle cx="296.7" cy="774.0" r="1.3" fill="#6420b8" opacity="0.79"/>
<circle cx="299.9" cy="786.5" r="0.6" fill="#6420b8" opacity="0.86"/>
<circle cx="287.9" cy="749.2" r="1.0" fill="#6420b8" opacity="0.94"/>
<circle cx="300.7" cy="746.2" r="1.0" fill="#6420b8" opacity="0.76"/>
<circle cx="303.6" cy="778.8" r="1.3" fill="#6420b8" opacity="0.87"/>
<circle cx="329.3" cy="759.0" r="0.9" fill="#6420b8" opacity="0.68"/>
<circle cx="300.8" cy="742.6" r="1.6" fill="#6420b8" opacity="0.84"/>
<circle cx="296.2" cy="773.6" r="0.6" fill="#6420b8" opacity="0.85"/>
<circle cx="291.5" cy="771.5" r="0.6" fill="#6420b8" opacity="0.72"/>
<circle cx="318.6" cy="755.2" r="1.2" fill="#6420b8" opacity="0.84"/>
<circle cx="295.6" cy="745.9" r="0.7" fill="#6420b8" opacity="0.80"/>
<circle cx="283.6" cy="750.2" r="0.9" fill="#6420b8" opacity="0.66"/>
<circle cx="325.1" cy="751.8" r="0.7" fill="#6420b8" opacity="0.79"/>
<circle cx="313.9" cy="773.7" r="1.5" fill="#6420b8" opacity="0.71"/>
<circle cx="311.1" cy="751.8" r="0.8" fill="#6420b8" opacity="0.61"/>
<circle cx="313.9" cy="743.7" r="0.8" fill="#6420b8" opacity="0.67"/>
<circle cx="310.0" cy="776.2" r="1.1" fill="#6420b8" opacity="0.64"/>
<circle cx="320.6" cy="774.3" r="0.8" fill="#6420b8" opacity="0.94"/>
<circle cx="293.9" cy="775.4" r="1.6" fill="#6420b8" opacity="0.82"/>
</g>
<circle cx="307" cy="763.9" r="28.5" fill="none" stroke="#6e5a9e" stroke-width="1" stroke-opacity="0.5"/>
<text x="210.3" y="645.9" font-size="18" text-anchor="end">hsa-miR-4640-5p-NC</text>
<text x="98.4" y="662.3" font-size="14">+<tspan font-size="9" dy="-6.5">131</tspan><tspan dy="6.5">I</tspan></text>
<text x="210.1" y="704.7" font-size="18" text-anchor="end">hsa-miR-4640-5p mimics</text>
<text x="96.7" y="721.3" font-size="14">+<tspan font-size="9" dy="-6.5">131</tspan><tspan dy="6.5">I</tspan></text>
<text x="214.2" y="763.5" font-size="18" text-anchor="end">hsa-miR-4640-5p inhibitor</text>
<text x="103.8" y="779.6" font-size="14">+<tspan font-size="9" dy="-6.5">131</tspan><tspan dy="6.5">I</tspan></text>
<line x1="418.4" y1="570.5" x2="418.4" y2="818.0" stroke="#000" stroke-width="2"/>
<line x1="408.6" y1="817.0" x2="527.2" y2="817.0" stroke="#000" stroke-width="2"/>
<line x1="408.6" y1="817.0" x2="418.4" y2="817.0" stroke="#000" stroke-width="2"/>
<text x="404.0" y="823.7" font-size="18" text-anchor="end">0</text>
<line x1="408.6" y1="735.1" x2="418.4" y2="735.1" stroke="#000" stroke-width="2"/>
<text x="404.0" y="741.8" font-size="18" text-anchor="end">50</text>
<line x1="408.6" y1="653.3" x2="418.4" y2="653.3" stroke="#000" stroke-width="2"/>
<text x="404.0" y="660.0" font-size="18" text-anchor="end">100</text>
<line x1="408.6" y1="571.5" x2="418.4" y2="571.5" stroke="#000" stroke-width="2"/>
<text x="404.0" y="578.1" font-size="18" text-anchor="end">150</text>
<rect x="429.1" y="688.1" width="21.4" height="128.9" fill="#0000fa"/>
<line x1="439.8" y1="688.1" x2="439.8" y2="674.4" stroke="#000" stroke-width="2"/>
<line x1="434.5" y1="674.4" x2="445.1" y2="674.4" stroke="#000" stroke-width="2"/>
<rect x="462.1" y="714.2" width="21.4" height="102.8" fill="#0000fa"/>
<line x1="472.8" y1="714.2" x2="472.8" y2="699.4" stroke="#000" stroke-width="2"/>
<line x1="467.5" y1="699.4" x2="478.1" y2="699.4" stroke="#000" stroke-width="2"/>
<rect x="494.8" y="631.1" width="21.3" height="185.9" fill="#0000fa"/>
<line x1="505.5" y1="631.1" x2="505.5" y2="615.6" stroke="#000" stroke-width="2"/>
<line x1="500.1" y1="615.6" x2="510.8" y2="615.6" stroke="#000" stroke-width="2"/>
<line x1="439.8" y1="817.0" x2="439.8" y2="827.0" stroke="#000" stroke-width="2"/>
<line x1="472.3" y1="817.0" x2="472.3" y2="827.0" stroke="#000" stroke-width="2"/>
<line x1="505.4" y1="817.0" x2="505.4" y2="827.0" stroke="#000" stroke-width="2"/>
<polyline points="435.4,590.6 435.4,579.0 504.4,579.0 504.4,590.6" fill="none" stroke="#000" stroke-width="2" stroke-linejoin="miter"/>
<text x="472.2" y="564.4" font-size="18" text-anchor="middle">BCPAP</text>
<text x="457.2" y="608.4" font-size="18" font-style="italic">P</text>
<text x="471.0" y="608.4" font-size="18">=</text>
<text x="486.4" y="608.4" font-size="18">0.008</text>
<text x="371.4" y="678.0" font-size="17.7" text-anchor="middle" transform="rotate(-90 371.4 678.0)">Colony numbers</text>
<text x="442.8" y="836.0" font-size="18" text-anchor="end" transform="rotate(-45 442.8 836.0)">hsa-miR-4640-5p-NC<tspan font-size="13">+</tspan><tspan font-size="8.5" dy="-6.5">131</tspan><tspan font-size="13" dy="6.5">I</tspan></text>
<text x="475.3" y="836.0" font-size="18" text-anchor="end" transform="rotate(-45 475.3 836.0)">hsa-miR-4640-5p mimics<tspan font-size="13">+</tspan><tspan font-size="8.5" dy="-6.5">131</tspan><tspan font-size="13" dy="6.5">I</tspan></text>
<text x="508.4" y="836.0" font-size="18" text-anchor="end" transform="rotate(-45 508.4 836.0)">hsa-miR-4640-5p inhibitor<tspan font-size="13">+</tspan><tspan font-size="8.5" dy="-6.5">131</tspan><tspan font-size="13" dy="6.5">I</tspan></text>
<line x1="613.1" y1="569.3" x2="613.1" y2="817.7" stroke="#000" stroke-width="2"/>
<line x1="602.8" y1="816.7" x2="721.8" y2="816.7" stroke="#000" stroke-width="2"/>
<line x1="602.8" y1="816.7" x2="613.1" y2="816.7" stroke="#000" stroke-width="2"/>
<text x="598.6" y="823.4" font-size="18" text-anchor="end">0</text>
<line x1="602.8" y1="755.1" x2="613.1" y2="755.1" stroke="#000" stroke-width="2"/>
<text x="598.6" y="761.8" font-size="18" text-anchor="end">50</text>
<line x1="602.8" y1="693.5" x2="613.1" y2="693.5" stroke="#000" stroke-width="2"/>
<text x="598.6" y="700.2" font-size="18" text-anchor="end">100</text>
<line x1="602.8" y1="631.9" x2="613.1" y2="631.9" stroke="#000" stroke-width="2"/>
<text x="598.6" y="638.6" font-size="18" text-anchor="end">150</text>
<line x1="602.8" y1="570.3" x2="613.1" y2="570.3" stroke="#000" stroke-width="2"/>
<text x="598.6" y="577.0" font-size="18" text-anchor="end">200</text>
<rect x="623.3" y="723.1" width="21.9" height="93.6" fill="#0000fa"/>
<line x1="634.2" y1="723.1" x2="634.2" y2="712.6" stroke="#000" stroke-width="2"/>
<line x1="628.8" y1="712.6" x2="639.7" y2="712.6" stroke="#000" stroke-width="2"/>
<rect x="656.2" y="743.2" width="21.4" height="73.5" fill="#0000fa"/>
<line x1="666.9" y1="743.2" x2="666.9" y2="733.8" stroke="#000" stroke-width="2"/>
<line x1="661.6" y1="733.8" x2="672.3" y2="733.8" stroke="#000" stroke-width="2"/>
<rect x="688.9" y="621.1" width="21.7" height="195.6" fill="#0000fa"/>
<line x1="699.8" y1="621.1" x2="699.8" y2="588.5" stroke="#000" stroke-width="2"/>
<line x1="694.3" y1="588.5" x2="705.2" y2="588.5" stroke="#000" stroke-width="2"/>
<line x1="633.6" y1="816.7" x2="633.6" y2="827.0" stroke="#000" stroke-width="2"/>
<line x1="666.6" y1="816.7" x2="666.6" y2="827.0" stroke="#000" stroke-width="2"/>
<line x1="699.2" y1="816.7" x2="699.2" y2="827.0" stroke="#000" stroke-width="2"/>
<polyline points="644.3,564.2 644.3,552.7 700.5,552.7 700.5,564.2" fill="none" stroke="#000" stroke-width="2" stroke-linejoin="miter"/>
<text x="674.6" y="545.9" font-size="18" text-anchor="middle">K1</text>
<text x="651.5" y="579.7" font-size="18" font-style="italic">P</text>
<text x="664.8" y="579.7" font-size="18">=</text>
<text x="681.0" y="579.7" font-size="18">0.011</text>
<text x="560.8" y="693.0" font-size="17.7" text-anchor="middle" transform="rotate(-90 560.8 693.0)">Colony numbers</text>
<text x="636.6" y="836.0" font-size="18" text-anchor="end" transform="rotate(-45 636.6 836.0)">hsa-miR-4640-5p-NC<tspan font-size="13">+</tspan><tspan font-size="8.5" dy="-6.5">131</tspan><tspan font-size="13" dy="6.5">I</tspan></text>
<text x="669.6" y="836.0" font-size="18" text-anchor="end" transform="rotate(-45 669.6 836.0)">hsa-miR-4640-5p mimics<tspan font-size="13">+</tspan><tspan font-size="8.5" dy="-6.5">131</tspan><tspan font-size="13" dy="6.5">I</tspan></text>
<text x="702.2" y="836.0" font-size="18" text-anchor="end" transform="rotate(-45 702.2 836.0)">hsa-miR-4640-5p inhibitor<tspan font-size="13">+</tspan><tspan font-size="8.5" dy="-6.5">131</tspan><tspan font-size="13" dy="6.5">I</tspan></text>
<line x1="837.7" y1="573.7" x2="837.7" y2="813.3" stroke="#000" stroke-width="2"/>
<line x1="825.0" y1="812.3" x2="947.5" y2="812.3" stroke="#000" stroke-width="2"/>
<line x1="825.0" y1="812.3" x2="837.7" y2="812.3" stroke="#000" stroke-width="2"/>
<text x="820.6" y="819.0" font-size="18" text-anchor="end">0.0</text>
<line x1="825.0" y1="764.8" x2="837.7" y2="764.8" stroke="#000" stroke-width="2"/>
<text x="820.6" y="771.4" font-size="18" text-anchor="end">0.5</text>
<line x1="825.0" y1="717.3" x2="837.7" y2="717.3" stroke="#000" stroke-width="2"/>
<text x="820.6" y="723.9" font-size="18" text-anchor="end">1.0</text>
<line x1="825.0" y1="669.7" x2="837.7" y2="669.7" stroke="#000" stroke-width="2"/>
<text x="820.6" y="676.4" font-size="18" text-anchor="end">1.5</text>
<line x1="825.0" y1="622.2" x2="837.7" y2="622.2" stroke="#000" stroke-width="2"/>
<text x="820.6" y="628.9" font-size="18" text-anchor="end">2.0</text>
<line x1="825.0" y1="574.7" x2="837.7" y2="574.7" stroke="#000" stroke-width="2"/>
<text x="820.6" y="581.4" font-size="18" text-anchor="end">2.5</text>
<rect x="848.3" y="716.1" width="21.2" height="96.2" fill="#0000fa"/>
<line x1="858.9" y1="716.1" x2="858.9" y2="692.6" stroke="#000" stroke-width="2"/>
<line x1="853.6" y1="692.6" x2="864.2" y2="692.6" stroke="#000" stroke-width="2"/>
<rect x="881.1" y="641.2" width="21.5" height="171.1" fill="#0000fa"/>
<line x1="891.9" y1="641.2" x2="891.9" y2="580.4" stroke="#000" stroke-width="2"/>
<line x1="886.5" y1="580.4" x2="897.2" y2="580.4" stroke="#000" stroke-width="2"/>
<rect x="914.1" y="767.8" width="21.7" height="44.5" fill="#0000fa"/>
<line x1="925.0" y1="767.8" x2="925.0" y2="756.0" stroke="#000" stroke-width="2"/>
<line x1="919.5" y1="756.0" x2="930.4" y2="756.0" stroke="#000" stroke-width="2"/>
<line x1="858.8" y1="812.3" x2="858.8" y2="825.0" stroke="#000" stroke-width="2"/>
<line x1="891.8" y1="812.3" x2="891.8" y2="825.0" stroke="#000" stroke-width="2"/>
<line x1="924.6" y1="812.3" x2="924.6" y2="825.0" stroke="#000" stroke-width="2"/>
<polyline points="852.3,577.7 852.3,565.5 920.2,565.5 920.2,577.7" fill="none" stroke="#000" stroke-width="2" stroke-linejoin="miter"/>
<text x="884.4" y="550.8" font-size="18" text-anchor="middle">BCPAP</text>
<text x="899.4" y="597.0" font-size="18" font-style="italic">p</text>
<text x="916.2" y="597.0" font-size="18">=</text>
<text x="931.2" y="597.0" font-size="18">0.026</text>
<text x="788.5" y="700.4" font-size="17.7" text-anchor="middle" transform="rotate(-90 788.5 700.4)">Relative  expression of NIS</text>
<text x="860.3" y="835.3" font-size="18" text-anchor="end" transform="rotate(-45 860.3 835.3)">hsa-miR-4640-5p-NC</text>
<text x="893.3" y="835.3" font-size="18" text-anchor="end" transform="rotate(-45 893.3 835.3)">hsa-miR-4640-5p minics</text>
<text x="927.6" y="838.3" font-size="18" text-anchor="end" transform="rotate(-45 927.6 838.3)">hsa-miR-4640-5p inhibitor</text>
<line x1="1066.9" y1="567.5" x2="1066.9" y2="810.2" stroke="#000" stroke-width="2"/>
<line x1="1054.1" y1="809.2" x2="1184.2" y2="809.2" stroke="#000" stroke-width="2"/>
<line x1="1054.1" y1="809.2" x2="1066.9" y2="809.2" stroke="#000" stroke-width="2"/>
<text x="1049.2" y="815.9" font-size="18" text-anchor="end">0.0</text>
<line x1="1054.1" y1="761.1" x2="1066.9" y2="761.1" stroke="#000" stroke-width="2"/>
<text x="1049.2" y="767.7" font-size="18" text-anchor="end">0.5</text>
<line x1="1054.1" y1="712.9" x2="1066.9" y2="712.9" stroke="#000" stroke-width="2"/>
<text x="1049.2" y="719.6" font-size="18" text-anchor="end">1.0</text>
<line x1="1054.1" y1="664.8" x2="1066.9" y2="664.8" stroke="#000" stroke-width="2"/>
<text x="1049.2" y="671.4" font-size="18" text-anchor="end">1.5</text>
<line x1="1054.1" y1="616.6" x2="1066.9" y2="616.6" stroke="#000" stroke-width="2"/>
<text x="1049.2" y="623.3" font-size="18" text-anchor="end">2.0</text>
<line x1="1054.1" y1="568.5" x2="1066.9" y2="568.5" stroke="#000" stroke-width="2"/>
<text x="1049.2" y="575.1" font-size="18" text-anchor="end">2.5</text>
<rect x="1077.8" y="708.3" width="23.2" height="100.9" fill="#0000fa"/>
<line x1="1089.4" y1="708.3" x2="1089.4" y2="674.4" stroke="#000" stroke-width="2"/>
<line x1="1083.6" y1="674.4" x2="1095.2" y2="674.4" stroke="#000" stroke-width="2"/>
<rect x="1112.8" y="645.6" width="23.6" height="163.6" fill="#0000fa"/>
<line x1="1124.6" y1="645.6" x2="1124.6" y2="606.0" stroke="#000" stroke-width="2"/>
<line x1="1118.7" y1="606.0" x2="1130.5" y2="606.0" stroke="#000" stroke-width="2"/>
<rect x="1148.2" y="774.8" width="23.6" height="34.4" fill="#0000fa"/>
<line x1="1160.0" y1="774.8" x2="1160.0" y2="761.5" stroke="#000" stroke-width="2"/>
<line x1="1154.1" y1="761.5" x2="1165.9" y2="761.5" stroke="#000" stroke-width="2"/>
<line x1="1089.1" y1="809.2" x2="1089.1" y2="822.5" stroke="#000" stroke-width="2"/>
<line x1="1124.7" y1="809.2" x2="1124.7" y2="822.5" stroke="#000" stroke-width="2"/>
<line x1="1160.1" y1="809.2" x2="1160.1" y2="822.5" stroke="#000" stroke-width="2"/>
<polyline points="1080.2,604.4 1080.2,593.0 1153.3,593.0 1153.3,604.4" fill="none" stroke="#000" stroke-width="2" stroke-linejoin="miter"/>
<text x="1118.2" y="568.8" font-size="18" text-anchor="middle">K1</text>
<text x="1143.0" y="625.4" font-size="18" font-style="italic">p</text>
<text x="1157.1" y="625.4" font-size="18">=</text>
<text x="1171.8" y="625.4" font-size="18">0.034</text>
<text x="1013.0" y="685.2" font-size="17.7" text-anchor="middle" transform="rotate(-90 1013.0 685.2)">Relative  expression of NIS</text>
<text x="1095.1" y="830.7" font-size="18" text-anchor="end" transform="rotate(-45 1095.1 830.7)">hsa-miR-4640-5p-NC</text>
<text x="1130.7" y="830.7" font-size="18" text-anchor="end" transform="rotate(-45 1130.7 830.7)">hsa-miR-4640-5p mimics</text>
<text x="1166.1" y="830.7" font-size="18" text-anchor="end" transform="rotate(-45 1166.1 830.7)">hsa-miR-4640-5p inhibitor</text>
<text x="252.6" y="1057.4" font-size="18" text-anchor="end">hsa-miR-4640-5p-NC</text>
<text x="252.4" y="1086.5" font-size="18" text-anchor="end">hsa-miR-4640-5p mimics</text>
<text x="252.1" y="1115.7" font-size="18" text-anchor="end">hsa-miR-4640-5p inhibitor</text>
<text x="286.4" y="1053.8" font-size="18" text-anchor="middle">+</text>
<text x="405.0" y="1054.0" font-size="18" text-anchor="middle">-</text>
<text x="518.3" y="1054.0" font-size="18" text-anchor="middle">-</text>
<text x="284.8" y="1089.0" font-size="18" text-anchor="middle">-</text>
<text x="406.6" y="1090.3" font-size="18" text-anchor="middle">+</text>
<text x="518.3" y="1089.0" font-size="18" text-anchor="middle">-</text>
<text x="284.8" y="1118.5" font-size="18" text-anchor="middle">-</text>
<text x="405.0" y="1118.5" font-size="18" text-anchor="middle">-</text>
<text x="517.3" y="1118.3" font-size="18" text-anchor="middle">+</text>
<line x1="167.7" y1="1140.0" x2="167.7" y2="1249.0" stroke="#000" stroke-width="2"/>
<line x1="167.7" y1="1274.7" x2="167.7" y2="1386.5" stroke="#000" stroke-width="2"/>
<text x="126.4" y="1204.2" font-size="18" text-anchor="middle">BCPAP</text>
<text x="144.2" y="1341.3" font-size="18" text-anchor="middle">K1</text>
<text x="230.8" y="1169.2" font-size="18" text-anchor="end">NIS</text>
<text x="230.8" y="1232.4" font-size="18" text-anchor="end">β-actin</text>
<text x="230.8" y="1310.2" font-size="18" text-anchor="end">NIS</text>
<text x="230.8" y="1363.6" font-size="18" text-anchor="end">β-actin</text>
<clipPath id="cp1"><rect x="251.6" y="1139.1" width="319.1" height="48.8"/></clipPath>
<g clip-path="url(#cp1)">
<linearGradient id="lg1" x1="0" y1="0" x2="1" y2="0"><stop offset="0" stop-color="#c4c4c4"/><stop offset="0.5" stop-color="#cecece"/><stop offset="1" stop-color="#c8c8c8"/></linearGradient>
<rect x="251.6" y="1139.1" width="319.1" height="48.8" fill="url(#lg1)"/>
<path d="M263.5,1148.5 L327.0,1149.5 A8.5,8.5 0 0 1 327.0,1166.5 L263.5,1167.5 A9.5,9.5 0 0 1 263.5,1148.5 Z" fill="#000" fill-opacity="1" filter="url(#b1)"/>
<path d="M379.5,1148.5 L436.0,1147.5 A11.0,11.0 0 0 1 436.0,1169.5 L379.5,1168.5 A10.0,10.0 0 0 1 379.5,1148.5 Z" fill="#000" fill-opacity="1" filter="url(#b1)"/>
<path d="M488.0,1151.0 L560.5,1153.0 A6.5,6.5 0 0 1 560.5,1166.0 L488.0,1168.0 A8.5,8.5 0 0 1 488.0,1151.0 Z" fill="#000" fill-opacity="1" filter="url(#b1)"/>
<path d="M389.5,1175.5 L441.5,1174.5 A5.5,5.5 0 0 1 441.5,1185.5 L389.5,1184.5 A4.5,4.5 0 0 1 389.5,1175.5 Z" fill="#000" fill-opacity="0.6" filter="url(#b2)"/>
<path d="M503.0,1173.0 L557.0,1173.0 A3.0,3.0 0 0 1 557.0,1179.0 L503.0,1179.0 A3.0,3.0 0 0 1 503.0,1173.0 Z" fill="#000" fill-opacity="0.12" filter="url(#b2)"/>
<rect x="251.6" y="1139.1" width="319.1" height="48.8" fill="#000" opacity="0.5" filter="url(#noise)"/>
</g>
<rect x="251.6" y="1139.1" width="319.1" height="48.8" fill="none" stroke="#1a1414" stroke-width="2"/>
<clipPath id="cp2"><rect x="251.6" y="1205.8" width="319.1" height="48.8"/></clipPath>
<g clip-path="url(#cp2)">
<linearGradient id="lg2" x1="0" y1="0" x2="1" y2="0"><stop offset="0" stop-color="#5e5e5e"/><stop offset="0.05" stop-color="#888888"/><stop offset="0.14" stop-color="#a2a2a2"/><stop offset="0.5" stop-color="#adadad"/><stop offset="0.92" stop-color="#aaaaaa"/><stop offset="1" stop-color="#969696"/></linearGradient>
<rect x="251.6" y="1205.8" width="319.1" height="48.8" fill="url(#lg2)"/>
<path d="M270.0,1211.0 L330.0,1211.0 A15.0,15.0 0 0 1 330.0,1241.0 L270.0,1241.0 A15.0,15.0 0 0 1 270.0,1211.0 Z" fill="#000" fill-opacity="0.22" filter="url(#b5)"/>
<path d="M385.0,1211.0 L440.0,1211.0 A15.0,15.0 0 0 1 440.0,1241.0 L385.0,1241.0 A15.0,15.0 0 0 1 385.0,1211.0 Z" fill="#000" fill-opacity="0.22" filter="url(#b5)"/>
<path d="M495.0,1211.0 L553.0,1211.0 A15.0,15.0 0 0 1 553.0,1241.0 L495.0,1241.0 A15.0,15.0 0 0 1 495.0,1211.0 Z" fill="#000" fill-opacity="0.22" filter="url(#b5)"/>
<path d="M266.5,1218.0 L332.0,1218.5 A8.0,8.0 0 0 1 332.0,1234.5 L266.5,1235.0 A8.5,8.5 0 0 1 266.5,1218.0 Z" fill="#000" fill-opacity="0.97" filter="url(#b3)"/>
<path d="M379.0,1218.5 L444.0,1218.5 A8.0,8.0 0 0 1 444.0,1234.5 L379.0,1234.5 A8.0,8.0 0 0 1 379.0,1218.5 Z" fill="#000" fill-opacity="0.95" filter="url(#b3)"/>
<path d="M489.5,1218.0 L558.0,1218.5 A8.0,8.0 0 0 1 558.0,1234.5 L489.5,1235.0 A8.5,8.5 0 0 1 489.5,1218.0 Z" fill="#000" fill-opacity="0.97" filter="url(#b3)"/>
<rect x="251.6" y="1205.8" width="319.1" height="48.8" fill="#000" opacity="0.35" filter="url(#noise)"/>
</g>
<rect x="251.6" y="1205.8" width="319.1" height="48.8" fill="none" stroke="#1a1414" stroke-width="2"/>
<clipPath id="cp3"><rect x="251.6" y="1273.8" width="319.1" height="47.7"/></clipPath>
<g clip-path="url(#cp3)">
<linearGradient id="lg3" x1="0" y1="0" x2="1" y2="0"><stop offset="0" stop-color="#7e7e7e"/><stop offset="0.3" stop-color="#8e8e8e"/><stop offset="0.55" stop-color="#9e9e9e"/><stop offset="0.75" stop-color="#b4b4b4"/><stop offset="1" stop-color="#c6c6c6"/></linearGradient>
<rect x="251.6" y="1273.8" width="319.1" height="47.7" fill="url(#lg3)"/>
<ellipse cx="294" cy="1293" rx="34" ry="5.5" fill="#000" fill-opacity="0.95" filter="url(#b2)"/>
<ellipse cx="292" cy="1296" rx="20" ry="4.5" fill="#000" fill-opacity="0.9" filter="url(#b2)"/>
<ellipse cx="406" cy="1292.5" rx="24" ry="4.5" fill="#000" fill-opacity="0.9" filter="url(#b2)"/>
<ellipse cx="435" cy="1293" rx="22" ry="3.5" fill="#000" fill-opacity="0.45" filter="url(#b2)"/>
<ellipse cx="530" cy="1290.5" rx="40" ry="4" fill="#000" fill-opacity="0.38" filter="url(#b2)"/>
<ellipse cx="535" cy="1282" rx="35" ry="6" fill="#000" fill-opacity="0.22" filter="url(#b3)"/>
<rect x="398" y="1300" width="22" height="22" fill="#000" fill-opacity="0.28" filter="url(#b3)"/>
<ellipse cx="300" cy="1312" rx="40" ry="8" fill="#000" fill-opacity="0.1" filter="url(#b5)"/>
<rect x="251.6" y="1273.8" width="319.1" height="47.7" fill="#000" opacity="0.3" filter="url(#noise)"/>
</g>
<rect x="251.6" y="1273.8" width="319.1" height="47.7" fill="none" stroke="#1a1414" stroke-width="2"/>
<clipPath id="cp4"><rect x="251.6" y="1340.8" width="319.1" height="48.2"/></clipPath>
<g clip-path="url(#cp4)">
<rect x="251.6" y="1340.8" width="319.1" height="48.2" fill="#e6e6e6"/>
<path d="M262.2,1356.0 L326.2,1356.0 A5.2,5.2 0 0 1 326.2,1366.5 L262.2,1366.5 A5.2,5.2 0 0 1 262.2,1356.0 Z" fill="#000" fill-opacity="1" filter="url(#b1)"/>
<path d="M377.5,1354.5 L440.8,1353.8 A6.2,6.2 0 0 1 440.8,1366.2 L377.5,1365.5 A5.5,5.5 0 0 1 377.5,1354.5 Z" fill="#000" fill-opacity="1" filter="url(#b1)"/>
<path d="M495.5,1352.5 L540.0,1353.0 A6.0,6.0 0 0 1 540.0,1365.0 L495.5,1365.5 A6.5,6.5 0 0 1 495.5,1352.5 Z" fill="#000" fill-opacity="1" filter="url(#b1)"/>
<path d="M543.0,1355.0 L563.5,1355.5 A2.5,2.5 0 0 1 563.5,1360.5 L543.0,1361.0 A3.0,3.0 0 0 1 543.0,1355.0 Z" fill="#000" fill-opacity="0.4" filter="url(#b2)"/>
<rect x="251.6" y="1340.8" width="319.1" height="48.2" fill="#000" opacity="0.1" filter="url(#noise)"/>
</g>
<rect x="251.6" y="1340.8" width="319.1" height="48.2" fill="none" stroke="#1a1414" stroke-width="2"/>
<line x1="689.1" y1="1089.6" x2="689.1" y2="1364.9" stroke="#000" stroke-width="2"/>
<line x1="677.8" y1="1363.9" x2="956.6" y2="1363.9" stroke="#000" stroke-width="2"/>
<line x1="677.8" y1="1363.9" x2="689.1" y2="1363.9" stroke="#000" stroke-width="2"/>
<text x="671.4" y="1370.6" font-size="18" text-anchor="end">0.0</text>
<line x1="677.8" y1="1272.8" x2="689.1" y2="1272.8" stroke="#000" stroke-width="2"/>
<text x="671.4" y="1279.5" font-size="18" text-anchor="end">0.5</text>
<line x1="677.8" y1="1181.7" x2="689.1" y2="1181.7" stroke="#000" stroke-width="2"/>
<text x="671.4" y="1188.4" font-size="18" text-anchor="end">1.0</text>
<line x1="677.8" y1="1090.6" x2="689.1" y2="1090.6" stroke="#000" stroke-width="2"/>
<text x="671.4" y="1097.3" font-size="18" text-anchor="end">1.5</text>
<rect x="702.8" y="1166.1" width="24.6" height="197.8" fill="#d50000"/>
<line x1="715.1" y1="1166.1" x2="715.1" y2="1157.4" stroke="#000" stroke-width="2"/>
<line x1="708.9" y1="1157.4" x2="721.2" y2="1157.4" stroke="#000" stroke-width="2"/>
<rect x="740.0" y="1153.2" width="25.3" height="210.7" fill="#91f53a"/>
<line x1="752.6" y1="1153.2" x2="752.6" y2="1141.8" stroke="#000" stroke-width="2"/>
<line x1="746.3" y1="1141.8" x2="759.0" y2="1141.8" stroke="#000" stroke-width="2"/>
<rect x="778.3" y="1215.4" width="25.3" height="148.5" fill="#0000fa"/>
<line x1="791.0" y1="1215.4" x2="791.0" y2="1208.9" stroke="#000" stroke-width="2"/>
<line x1="784.6" y1="1208.9" x2="797.3" y2="1208.9" stroke="#000" stroke-width="2"/>
<rect x="841.5" y="1185.6" width="25.3" height="178.3" fill="#d50000"/>
<line x1="854.1" y1="1185.6" x2="854.1" y2="1171.7" stroke="#000" stroke-width="2"/>
<line x1="847.8" y1="1171.7" x2="860.5" y2="1171.7" stroke="#000" stroke-width="2"/>
<rect x="879.4" y="1168.7" width="25.3" height="195.2" fill="#91f53a"/>
<line x1="892.0" y1="1168.7" x2="892.0" y2="1162.9" stroke="#000" stroke-width="2"/>
<line x1="885.7" y1="1162.9" x2="898.4" y2="1162.9" stroke="#000" stroke-width="2"/>
<rect x="917.7" y="1304.9" width="25.3" height="59.0" fill="#0000fa"/>
<line x1="930.4" y1="1304.9" x2="930.4" y2="1297.7" stroke="#000" stroke-width="2"/>
<line x1="924.0" y1="1297.7" x2="936.7" y2="1297.7" stroke="#000" stroke-width="2"/>
<line x1="752.4" y1="1363.9" x2="752.4" y2="1375.2" stroke="#000" stroke-width="2"/>
<line x1="891.7" y1="1363.9" x2="891.7" y2="1375.2" stroke="#000" stroke-width="2"/>
<text x="752.4" y="1397.9" font-size="18" text-anchor="middle">BCPAP</text>
<text x="889.6" y="1397.9" font-size="18" text-anchor="middle">K1</text>
<polyline points="712.5,1115.9 712.5,1105.5 786.4,1105.5 786.4,1115.9" fill="none" stroke="#000" stroke-width="2" stroke-linejoin="miter"/>
<polyline points="849.0,1133.7 849.0,1123.3 933.9,1123.3 933.9,1133.7" fill="none" stroke="#000" stroke-width="2" stroke-linejoin="miter"/>
<text x="733.3" y="1133.8" font-size="20" font-style="italic">P</text>
<text x="752.6" y="1133.8" font-size="20">=</text>
<text x="770.3" y="1133.8" font-size="20">0.000</text>
<text x="872.3" y="1155.6" font-size="20" font-style="italic">P</text>
<text x="891.6" y="1155.6" font-size="20">=</text>
<text x="909.3" y="1155.6" font-size="20">0.001</text>
<text x="638.5" y="1218.0" font-size="18" text-anchor="middle" transform="rotate(-90 638.5 1218.0)">Relative protein expression</text>
<rect x="978.9" y="1078.9" width="29.5" height="14.4" fill="#d50000"/>
<rect x="978.9" y="1115.5" width="29.5" height="14.5" fill="#91f53a"/>
<rect x="978.9" y="1151.7" width="29.5" height="14.9" fill="#0000fa"/>
<text x="1022.4" y="1090.0" font-size="18">hsa-miR-4640-5p-NC</text>
<text x="1022.4" y="1126.6" font-size="18">hsa-miR-4640-5p mimics</text>
<text x="1022.4" y="1163.3" font-size="18">hsa-miR-4640-5p inhibitor</text>
<line x1="143.0" y1="1460.3" x2="143.0" y2="1722.0" stroke="#000" stroke-width="2"/>
<line x1="132.7" y1="1721.0" x2="395.8" y2="1721.0" stroke="#000" stroke-width="2"/>
<line x1="132.7" y1="1721.0" x2="143.0" y2="1721.0" stroke="#000" stroke-width="2"/>
<text x="127.2" y="1727.7" font-size="18" text-anchor="end">0</text>
<line x1="132.7" y1="1634.4" x2="143.0" y2="1634.4" stroke="#000" stroke-width="2"/>
<text x="127.2" y="1641.1" font-size="18" text-anchor="end">2000</text>
<line x1="132.7" y1="1547.9" x2="143.0" y2="1547.9" stroke="#000" stroke-width="2"/>
<text x="127.2" y="1554.5" font-size="18" text-anchor="end">4000</text>
<line x1="132.7" y1="1461.3" x2="143.0" y2="1461.3" stroke="#000" stroke-width="2"/>
<text x="127.2" y="1468.0" font-size="18" text-anchor="end">6000</text>
<rect x="152.1" y="1584.8" width="15.7" height="136.2" fill="#d50000"/>
<line x1="159.9" y1="1584.8" x2="159.9" y2="1552.5" stroke="#000" stroke-width="2"/>
<line x1="156.0" y1="1552.5" x2="163.9" y2="1552.5" stroke="#000" stroke-width="2"/>
<rect x="176.3" y="1637.6" width="16.0" height="83.4" fill="#0000fa"/>
<line x1="184.3" y1="1637.6" x2="184.3" y2="1620.2" stroke="#000" stroke-width="2"/>
<line x1="180.3" y1="1620.2" x2="188.3" y2="1620.2" stroke="#000" stroke-width="2"/>
<rect x="216.8" y="1504.8" width="15.7" height="216.2" fill="#d50000"/>
<line x1="224.7" y1="1504.8" x2="224.7" y2="1499.7" stroke="#000" stroke-width="2"/>
<line x1="220.7" y1="1499.7" x2="228.6" y2="1499.7" stroke="#000" stroke-width="2"/>
<rect x="240.6" y="1584.8" width="15.7" height="136.2" fill="#0000fa"/>
<line x1="248.4" y1="1584.8" x2="248.4" y2="1564.4" stroke="#000" stroke-width="2"/>
<line x1="244.5" y1="1564.4" x2="252.4" y2="1564.4" stroke="#000" stroke-width="2"/>
<rect x="280.8" y="1491.9" width="16.0" height="229.1" fill="#d50000"/>
<line x1="288.8" y1="1491.9" x2="288.8" y2="1480.0" stroke="#000" stroke-width="2"/>
<line x1="284.8" y1="1480.0" x2="292.8" y2="1480.0" stroke="#000" stroke-width="2"/>
<rect x="305.3" y="1604.2" width="15.7" height="116.8" fill="#0000fa"/>
<line x1="313.1" y1="1604.2" x2="313.1" y2="1591.3" stroke="#000" stroke-width="2"/>
<line x1="309.2" y1="1591.3" x2="317.1" y2="1591.3" stroke="#000" stroke-width="2"/>
<rect x="345.5" y="1567.8" width="16.0" height="153.2" fill="#d50000"/>
<line x1="353.5" y1="1567.8" x2="353.5" y2="1545.7" stroke="#000" stroke-width="2"/>
<line x1="349.5" y1="1545.7" x2="357.5" y2="1545.7" stroke="#000" stroke-width="2"/>
<rect x="370.0" y="1670.6" width="15.6" height="50.4" fill="#0000fa"/>
<line x1="377.8" y1="1670.6" x2="377.8" y2="1668.9" stroke="#000" stroke-width="2"/>
<line x1="373.9" y1="1668.9" x2="381.7" y2="1668.9" stroke="#000" stroke-width="2"/>
<line x1="171.9" y1="1721.0" x2="171.9" y2="1732.0" stroke="#000" stroke-width="2"/>
<line x1="236.6" y1="1721.0" x2="236.6" y2="1732.0" stroke="#000" stroke-width="2"/>
<line x1="300.5" y1="1721.0" x2="300.5" y2="1732.0" stroke="#000" stroke-width="2"/>
<line x1="365.2" y1="1721.0" x2="365.2" y2="1732.0" stroke="#000" stroke-width="2"/>
<polyline points="161.0,1473.2 161.0,1465.0 224.6,1465.0 224.6,1473.2" fill="none" stroke="#000" stroke-width="2" stroke-linejoin="miter"/>
<polyline points="289.3,1475.6 289.3,1467.4 353.3,1467.4 353.3,1475.6" fill="none" stroke="#000" stroke-width="2" stroke-linejoin="miter"/>
<text x="257.6" y="1453.4" font-size="18" text-anchor="middle">BCPAP</text>
<text x="158.8" y="1490.2" font-size="18" font-style="italic">P</text>
<text x="171.0" y="1490.2" font-size="18">=</text>
<text x="187.5" y="1490.2" font-size="18">0.013</text>
<text x="314.3" y="1490.2" font-size="18" font-style="italic">P</text>
<text x="326.5" y="1490.2" font-size="18">=</text>
<text x="343.8" y="1490.2" font-size="18">0.006</text>
<text x="74.5" y="1578.9" font-size="17.7" text-anchor="middle" transform="rotate(-90 74.5 1578.9)"><tspan font-size="13.5" dy="-7.3">125</tspan><tspan dy="7.3">I uptake (cpm/10</tspan><tspan font-size="13.5" dy="-7.3">6</tspan><tspan dy="7.3"> cells)</tspan></text>
<text x="181.4" y="1745.3" font-size="18" text-anchor="end" transform="rotate(-45 181.4 1745.3)">sh-circSH2B3-NC</text>
<text x="238.1" y="1739.5" font-size="18" text-anchor="end" transform="rotate(-45 238.1 1739.5)">sh-circSH2B3-1</text>
<g transform="translate(316.0 1748.0) rotate(-45)"><text x="-85.5" y="-22.5" font-size="18" text-anchor="middle">sh-circSH2B3-1 +</text><text x="-85.5" y="0" font-size="18" text-anchor="middle">hsa-miR-4640-5p-NC</text></g>
<g transform="translate(396.9 1744.9) rotate(-45)"><text x="-115.6" y="-22.5" font-size="18" text-anchor="middle">sh-circSH2B3-1 +</text><text x="-103.6" y="0" font-size="18" text-anchor="middle">hsa-miR-4640-5p inhibitor</text></g>
<line x1="533.1" y1="1453.0" x2="533.1" y2="1716.0" stroke="#000" stroke-width="2"/>
<line x1="521.4" y1="1715.0" x2="796.3" y2="1715.0" stroke="#000" stroke-width="2"/>
<line x1="521.4" y1="1715.0" x2="533.1" y2="1715.0" stroke="#000" stroke-width="2"/>
<text x="516.7" y="1721.7" font-size="18" text-anchor="end">0</text>
<line x1="521.4" y1="1628.0" x2="533.1" y2="1628.0" stroke="#000" stroke-width="2"/>
<text x="516.7" y="1634.7" font-size="18" text-anchor="end">3000</text>
<line x1="521.4" y1="1541.0" x2="533.1" y2="1541.0" stroke="#000" stroke-width="2"/>
<text x="516.7" y="1547.7" font-size="18" text-anchor="end">6000</text>
<line x1="521.4" y1="1454.0" x2="533.1" y2="1454.0" stroke="#000" stroke-width="2"/>
<text x="516.7" y="1460.7" font-size="18" text-anchor="end">9000</text>
<rect x="542.5" y="1602.5" width="16.5" height="112.5" fill="#d50000"/>
<line x1="550.8" y1="1602.5" x2="550.8" y2="1596.0" stroke="#000" stroke-width="2"/>
<line x1="546.6" y1="1596.0" x2="554.9" y2="1596.0" stroke="#000" stroke-width="2"/>
<rect x="567.8" y="1678.7" width="16.2" height="36.3" fill="#0000fa"/>
<line x1="575.9" y1="1678.7" x2="575.9" y2="1677.0" stroke="#000" stroke-width="2"/>
<line x1="571.8" y1="1677.0" x2="580.0" y2="1677.0" stroke="#000" stroke-width="2"/>
<rect x="609.3" y="1522.1" width="16.8" height="192.9" fill="#d50000"/>
<line x1="617.7" y1="1522.1" x2="617.7" y2="1492.0" stroke="#000" stroke-width="2"/>
<line x1="613.5" y1="1492.0" x2="621.9" y2="1492.0" stroke="#000" stroke-width="2"/>
<rect x="634.9" y="1637.8" width="16.5" height="77.2" fill="#0000fa"/>
<line x1="643.1" y1="1637.8" x2="643.1" y2="1633.0" stroke="#000" stroke-width="2"/>
<line x1="639.0" y1="1633.0" x2="647.3" y2="1633.0" stroke="#000" stroke-width="2"/>
<rect x="676.4" y="1541.6" width="16.8" height="173.4" fill="#d50000"/>
<line x1="684.8" y1="1541.6" x2="684.8" y2="1521.5" stroke="#000" stroke-width="2"/>
<line x1="680.6" y1="1521.5" x2="689.0" y2="1521.5" stroke="#000" stroke-width="2"/>
<rect x="701.6" y="1654.4" width="16.9" height="60.6" fill="#0000fa"/>
<line x1="710.0" y1="1654.4" x2="710.0" y2="1652.4" stroke="#000" stroke-width="2"/>
<line x1="705.8" y1="1652.4" x2="714.3" y2="1652.4" stroke="#000" stroke-width="2"/>
<rect x="743.5" y="1587.9" width="16.5" height="127.1" fill="#d50000"/>
<line x1="751.8" y1="1587.9" x2="751.8" y2="1579.8" stroke="#000" stroke-width="2"/>
<line x1="747.6" y1="1579.8" x2="755.9" y2="1579.8" stroke="#000" stroke-width="2"/>
<rect x="768.7" y="1653.4" width="16.9" height="61.6" fill="#0000fa"/>
<line x1="777.2" y1="1653.4" x2="777.2" y2="1644.6" stroke="#000" stroke-width="2"/>
<line x1="772.9" y1="1644.6" x2="781.4" y2="1644.6" stroke="#000" stroke-width="2"/>
<line x1="562.9" y1="1715.0" x2="562.9" y2="1726.0" stroke="#000" stroke-width="2"/>
<line x1="630.0" y1="1715.0" x2="630.0" y2="1726.0" stroke="#000" stroke-width="2"/>
<line x1="697.4" y1="1715.0" x2="697.4" y2="1726.0" stroke="#000" stroke-width="2"/>
<line x1="764.5" y1="1715.0" x2="764.5" y2="1726.0" stroke="#000" stroke-width="2"/>
<polyline points="552.2,1484.8 552.2,1476.8 616.4,1476.8 616.4,1484.8" fill="none" stroke="#000" stroke-width="2" stroke-linejoin="miter"/>
<polyline points="682.8,1514.7 682.8,1506.9 747.0,1506.9 747.0,1514.7" fill="none" stroke="#000" stroke-width="2" stroke-linejoin="miter"/>
<text x="672.4" y="1453.4" font-size="18" text-anchor="middle">K1</text>
<text x="536.5" y="1501.0" font-size="18" font-style="italic">P</text>
<text x="551.6" y="1501.0" font-size="18">=</text>
<text x="565.4" y="1501.0" font-size="18">0.011</text>
<text x="708.3" y="1528.6" font-size="18" font-style="italic">P</text>
<text x="722.5" y="1528.6" font-size="18">=</text>
<text x="737.2" y="1528.6" font-size="18">0.020</text>
<text x="468.5" y="1578.9" font-size="17.7" text-anchor="middle" transform="rotate(-90 468.5 1578.9)"><tspan font-size="13.5" dy="-7.3">125</tspan><tspan dy="7.3">I uptake (cpm/10</tspan><tspan font-size="13.5" dy="-7.3">6</tspan><tspan dy="7.3"> cells)</tspan></text>
<text x="566.9" y="1744.0" font-size="18" text-anchor="end" transform="rotate(-45 566.9 1744.0)">sh-circSH2B3-NC</text>
<text x="634.0" y="1738.0" font-size="18" text-anchor="end" transform="rotate(-45 634.0 1738.0)">sh-circSH2B3-1</text>
<g transform="translate(712.4 1745.0) rotate(-45)"><text x="-85.5" y="-22.5" font-size="18" text-anchor="middle">sh-circSH2B3-1 +</text><text x="-85.5" y="0" font-size="18" text-anchor="middle">hsa-miR-4640-5p-NC</text></g>
<g transform="translate(795.5 1743.0) rotate(-45)"><text x="-115.6" y="-22.5" font-size="18" text-anchor="middle">sh-circSH2B3-1 +</text><text x="-103.6" y="0" font-size="18" text-anchor="middle">hsa-miR-4640-5p inhibitor</text></g>
<line x1="959.1" y1="1489.5" x2="959.1" y2="1745.1" stroke="#000" stroke-width="2"/>
<line x1="948.7" y1="1744.1" x2="1043.7" y2="1744.1" stroke="#000" stroke-width="2"/>
<line x1="948.7" y1="1744.1" x2="959.1" y2="1744.1" stroke="#000" stroke-width="2"/>
<text x="945.2" y="1750.8" font-size="18" text-anchor="end">0</text>
<line x1="948.7" y1="1693.4" x2="959.1" y2="1693.4" stroke="#000" stroke-width="2"/>
<text x="945.2" y="1700.0" font-size="18" text-anchor="end">10000</text>
<line x1="948.7" y1="1642.7" x2="959.1" y2="1642.7" stroke="#000" stroke-width="2"/>
<text x="945.2" y="1649.3" font-size="18" text-anchor="end">20000</text>
<line x1="948.7" y1="1591.9" x2="959.1" y2="1591.9" stroke="#000" stroke-width="2"/>
<text x="945.2" y="1598.6" font-size="18" text-anchor="end">30000</text>
<line x1="948.7" y1="1541.2" x2="959.1" y2="1541.2" stroke="#000" stroke-width="2"/>
<text x="945.2" y="1547.9" font-size="18" text-anchor="end">40000</text>
<line x1="948.7" y1="1490.5" x2="959.1" y2="1490.5" stroke="#000" stroke-width="2"/>
<text x="945.2" y="1497.2" font-size="18" text-anchor="end">50000</text>
<rect x="973.0" y="1545.7" width="23.3" height="198.4" fill="#d50000"/>
<line x1="984.6" y1="1545.7" x2="984.6" y2="1524.1" stroke="#000" stroke-width="2"/>
<line x1="978.8" y1="1524.1" x2="990.5" y2="1524.1" stroke="#000" stroke-width="2"/>
<rect x="1007.3" y="1627.9" width="23.6" height="116.2" fill="#0000fa"/>
<line x1="1019.1" y1="1627.9" x2="1019.1" y2="1617.7" stroke="#000" stroke-width="2"/>
<line x1="1013.2" y1="1617.7" x2="1025.0" y2="1617.7" stroke="#000" stroke-width="2"/>
<line x1="983.0" y1="1744.1" x2="983.0" y2="1755.0" stroke="#000" stroke-width="2"/>
<line x1="1018.7" y1="1744.1" x2="1018.7" y2="1755.0" stroke="#000" stroke-width="2"/>
<rect x="995.1" y="1448.0" width="24.8" height="9.0" fill="#d50000"/>
<rect x="995.1" y="1479.6" width="24.8" height="8.5" fill="#0000fa"/>
<text x="1026.4" y="1458.9" font-size="18">NaClO <tspan font-size="11" dy="5">4</tspan><tspan dy="-5"> -</tspan></text>
<text x="1028.4" y="1490.5" font-size="18">NaClO <tspan font-size="11" dy="5">4</tspan><tspan dy="-5"> +</tspan></text>
<text x="888.5" y="1605.6" font-size="17.7" text-anchor="middle" transform="rotate(-90 888.5 1605.6)"><tspan font-size="13.5" dy="-7.3">125</tspan><tspan dy="7.3">I uptake (cpm/10</tspan><tspan font-size="13.5" dy="-7.3">6</tspan><tspan dy="7.3"> cells)</tspan></text>
<text x="227.7" y="1946.3" font-size="18" text-anchor="end">sh-circSH2B3-NC</text>
<text x="226.2" y="1978.0" font-size="18" text-anchor="end">sh-circSH2B3-1</text>
<text x="223.4" y="2006.6" font-size="18" text-anchor="end">hsa-miR-4640-5p-NC</text>
<text x="222.9" y="2039.7" font-size="18" text-anchor="end">hsa-miR-4640-5p inhibitor</text>
<text x="263.8" y="1939.0" font-size="18" text-anchor="middle">+</text>
<text x="371.9" y="1939.2" font-size="18" text-anchor="middle">-</text>
<text x="486.4" y="1939.2" font-size="18" text-anchor="middle">-</text>
<text x="600.5" y="1939.2" font-size="18" text-anchor="middle">-</text>
<text x="266.3" y="1977.9" font-size="18" text-anchor="middle">-</text>
<text x="370.9" y="1976.7" font-size="18" text-anchor="middle">+</text>
<text x="483.4" y="1976.7" font-size="18" text-anchor="middle">+</text>
<text x="599.5" y="1976.7" font-size="18" text-anchor="middle">+</text>
<text x="266.3" y="2008.1" font-size="18" text-anchor="middle">-</text>
<text x="371.9" y="2008.1" font-size="18" text-anchor="middle">-</text>
<text x="483.4" y="2005.8" font-size="18" text-anchor="middle">+</text>
<text x="600.5" y="2008.1" font-size="18" text-anchor="middle">-</text>
<text x="266.8" y="2040.7" font-size="18" text-anchor="middle">-</text>
<text x="371.9" y="2040.7" font-size="18" text-anchor="middle">-</text>
<text x="486.4" y="2040.7" font-size="18" text-anchor="middle">-</text>
<text x="599.5" y="2039.5" font-size="18" text-anchor="middle">+</text>
<line x1="147.7" y1="2052.0" x2="147.7" y2="2181.0" stroke="#000" stroke-width="2"/>
<line x1="147.7" y1="2206.0" x2="147.7" y2="2335.0" stroke="#000" stroke-width="2"/>
<text x="104.7" y="2107.7" font-size="18" text-anchor="middle">BCPAP</text>
<text x="121.2" y="2260.9" font-size="18" text-anchor="middle">K1</text>
<text x="215.8" y="2078.5" font-size="18" text-anchor="end">NIS</text>
<text x="215.8" y="2156.2" font-size="18" text-anchor="end">β-actin</text>
<text x="215.8" y="2231.7" font-size="18" text-anchor="end">NIS</text>
<text x="215.8" y="2309.9" font-size="18" text-anchor="end">β-actin</text>
<clipPath id="cp5"><rect x="225" y="2052.2" width="434.3" height="54.9"/></clipPath>
<g clip-path="url(#cp5)">
<rect x="225.0" y="2052.2" width="434.3" height="54.9" fill="#e6e6e6"/>
<path d="M368.0,2052.0 L407.0,2052.0 A18.0,18.0 0 0 1 407.0,2088.0 L368.0,2088.0 A18.0,18.0 0 0 1 368.0,2052.0 Z" fill="#000" fill-opacity="0.25" filter="url(#b5)"/>
<path d="M239.6,2059.0 L305.0,2062.0 A5.0,5.0 0 0 1 305.0,2072.0 L239.6,2075.0 A8.0,8.0 0 0 1 239.6,2059.0 Z" fill="#000" fill-opacity="1" filter="url(#b1)"/>
<path d="M357.0,2062.0 L414.0,2060.0 A12.0,12.0 0 0 1 414.0,2084.0 L357.0,2082.0 A10.0,10.0 0 0 1 357.0,2062.0 Z" fill="#000" fill-opacity="1" filter="url(#b1)"/>
<path d="M359.0,2051.0 L413.0,2051.0 A7.0,7.0 0 0 1 413.0,2065.0 L359.0,2065.0 A7.0,7.0 0 0 1 359.0,2051.0 Z" fill="#000" fill-opacity="0.9" filter="url(#b2)"/>
<path d="M363.0,2086.0 L412.0,2086.0 A8.0,8.0 0 0 1 412.0,2102.0 L363.0,2102.0 A8.0,8.0 0 0 1 363.0,2086.0 Z" fill="#000" fill-opacity="0.2" filter="url(#b3)"/>
<path d="M465.5,2063.8 L530.5,2063.8 A9.0,9.0 0 0 1 530.5,2081.8 L465.5,2081.8 A9.0,9.0 0 0 1 465.5,2063.8 Z" fill="#000" fill-opacity="1" filter="url(#b1)"/>
<path d="M473.5,2055.5 L531.5,2055.5 A3.5,3.5 0 0 1 531.5,2062.5 L473.5,2062.5 A3.5,3.5 0 0 1 473.5,2055.5 Z" fill="#000" fill-opacity="0.35" filter="url(#b2)"/>
<path d="M584.5,2066.3 L649.6,2066.8 A6.0,6.0 0 0 1 649.6,2078.8 L584.5,2079.3 A6.5,6.5 0 0 1 584.5,2066.3 Z" fill="#000" fill-opacity="1" filter="url(#b1)"/>
<rect x="225" y="2052.2" width="434.3" height="54.9" fill="#000" opacity="0.45" filter="url(#noise)"/>
</g>
<rect x="225" y="2052.2" width="434.3" height="54.9" fill="none" stroke="#1a1414" stroke-width="2"/>
<clipPath id="cp6"><rect x="225" y="2127.4" width="434.3" height="54.6"/></clipPath>
<g clip-path="url(#cp6)">
<rect x="225.0" y="2127.4" width="434.3" height="54.6" fill="#f4f4f4"/>
<path d="M243.0,2133.0 L287.0,2133.0 A13.0,13.0 0 0 1 287.0,2159.0 L243.0,2159.0 A13.0,13.0 0 0 1 243.0,2133.0 Z" fill="#000" fill-opacity="0.12" filter="url(#b5)"/>
<path d="M351.0,2138.0 L403.0,2138.0 A13.0,13.0 0 0 1 403.0,2164.0 L351.0,2164.0 A13.0,13.0 0 0 1 351.0,2138.0 Z" fill="#000" fill-opacity="0.12" filter="url(#b5)"/>
<path d="M469.0,2145.0 L521.0,2145.0 A13.0,13.0 0 0 1 521.0,2171.0 L469.0,2171.0 A13.0,13.0 0 0 1 469.0,2145.0 Z" fill="#000" fill-opacity="0.12" filter="url(#b5)"/>
<path d="M591.0,2150.0 L639.0,2150.0 A13.0,13.0 0 0 1 639.0,2176.0 L591.0,2176.0 A13.0,13.0 0 0 1 591.0,2150.0 Z" fill="#000" fill-opacity="0.12" filter="url(#b5)"/>
<path d="M235.5,2141.0 L291.0,2138.0 A7.0,7.0 0 0 1 291.0,2152.0 L235.5,2151.0 A5.0,5.0 0 0 1 235.5,2141.0 Z" fill="#000" fill-opacity="1" filter="url(#b1)"/>
<path d="M345.5,2143.6 L407.5,2144.1 A6.5,6.5 0 0 1 407.5,2157.1 L345.5,2157.6 A7.0,7.0 0 0 1 345.5,2143.6 Z" fill="#000" fill-opacity="1" filter="url(#b1)"/>
<path d="M463.5,2150.6 L525.5,2151.1 A6.5,6.5 0 0 1 525.5,2164.1 L463.5,2164.6 A7.0,7.0 0 0 1 463.5,2150.6 Z" fill="#000" fill-opacity="1" filter="url(#b1)"/>
<path d="M585.5,2155.8 L642.0,2155.3 A8.0,8.0 0 0 1 642.0,2171.3 L585.5,2170.8 A7.5,7.5 0 0 1 585.5,2155.8 Z" fill="#000" fill-opacity="1" filter="url(#b1)"/>
<rect x="225" y="2127.4" width="434.3" height="54.6" fill="#000" opacity="0.06" filter="url(#noise)"/>
</g>
<rect x="225" y="2127.4" width="434.3" height="54.6" fill="none" stroke="#1a1414" stroke-width="2"/>
<clipPath id="cp7"><rect x="225" y="2205.3" width="434.3" height="55.0"/></clipPath>
<g clip-path="url(#cp7)">
<linearGradient id="lg7" x1="0" y1="0" x2="1" y2="0"><stop offset="0" stop-color="#7a7a7a"/><stop offset="0.5" stop-color="#888888"/><stop offset="1" stop-color="#a0a0a0"/></linearGradient>
<rect x="225.0" y="2205.3" width="434.3" height="55.0" fill="url(#lg7)"/>
<path d="M240.5,2218.8 L305.5,2218.8 A7.5,7.5 0 0 1 305.5,2233.8 L240.5,2233.8 A7.5,7.5 0 0 1 240.5,2218.8 Z" fill="#000" fill-opacity="0.8" filter="url(#b3)"/>
<path d="M345.5,2218.5 L416.5,2218.5 A8.5,8.5 0 0 1 416.5,2235.5 L345.5,2235.5 A8.5,8.5 0 0 1 345.5,2218.5 Z" fill="#000" fill-opacity="0.88" filter="url(#b3)"/>
<path d="M460.0,2218.5 L527.0,2218.5 A7.0,7.0 0 0 1 527.0,2232.5 L460.0,2232.5 A7.0,7.0 0 0 1 460.0,2218.5 Z" fill="#000" fill-opacity="0.8" filter="url(#b3)"/>
<path d="M569.0,2222.2 L645.0,2223.2 A5.0,5.0 0 0 1 645.0,2233.2 L569.0,2234.2 A6.0,6.0 0 0 1 569.0,2222.2 Z" fill="#000" fill-opacity="0.62" filter="url(#b3)"/>
<rect x="225" y="2205.3" width="434.3" height="55.0" fill="#000" opacity="0.7" filter="url(#noise)"/>
</g>
<rect x="225" y="2205.3" width="434.3" height="55.0" fill="none" stroke="#1a1414" stroke-width="2"/>
<clipPath id="cp8"><rect x="225" y="2282.4" width="434.3" height="54.6"/></clipPath>
<g clip-path="url(#cp8)">
<rect x="225.0" y="2282.4" width="434.3" height="54.6" fill="#f4f4f4"/>
<path d="M242.0,2290.0 L296.0,2290.0 A12.0,12.0 0 0 1 296.0,2314.0 L242.0,2314.0 A12.0,12.0 0 0 1 242.0,2290.0 Z" fill="#000" fill-opacity="0.12" filter="url(#b5)"/>
<path d="M356.0,2293.0 L408.0,2293.0 A12.0,12.0 0 0 1 408.0,2317.0 L356.0,2317.0 A12.0,12.0 0 0 1 356.0,2293.0 Z" fill="#000" fill-opacity="0.12" filter="url(#b5)"/>
<path d="M472.0,2294.0 L524.0,2294.0 A12.0,12.0 0 0 1 524.0,2318.0 L472.0,2318.0 A12.0,12.0 0 0 1 472.0,2294.0 Z" fill="#000" fill-opacity="0.12" filter="url(#b5)"/>
<path d="M584.0,2293.0 L642.0,2293.0 A12.0,12.0 0 0 1 642.0,2317.0 L584.0,2317.0 A12.0,12.0 0 0 1 584.0,2293.0 Z" fill="#000" fill-opacity="0.12" filter="url(#b5)"/>
<path d="M234.5,2298.0 L300.5,2295.5 A6.5,6.5 0 0 1 300.5,2308.5 L234.5,2306.0 A4.0,4.0 0 0 1 234.5,2298.0 Z" fill="#000" fill-opacity="1" filter="url(#b1)"/>
<path d="M349.5,2299.5 L412.5,2299.5 A5.5,5.5 0 0 1 412.5,2310.5 L349.5,2310.5 A5.5,5.5 0 0 1 349.5,2299.5 Z" fill="#000" fill-opacity="1" filter="url(#b1)"/>
<path d="M466.0,2299.7 L528.0,2299.7 A6.0,6.0 0 0 1 528.0,2311.7 L466.0,2311.7 A6.0,6.0 0 0 1 466.0,2299.7 Z" fill="#000" fill-opacity="1" filter="url(#b1)"/>
<path d="M578.2,2299.8 L645.5,2298.8 A6.5,6.5 0 0 1 645.5,2311.8 L578.2,2310.8 A5.5,5.5 0 0 1 578.2,2299.8 Z" fill="#000" fill-opacity="1" filter="url(#b1)"/>
<rect x="225" y="2282.4" width="434.3" height="54.6" fill="#000" opacity="0.06" filter="url(#noise)"/>
</g>
<rect x="225" y="2282.4" width="434.3" height="54.6" fill="none" stroke="#1a1414" stroke-width="2"/>
<line x1="772.9" y1="2050.2" x2="772.9" y2="2316.2" stroke="#000" stroke-width="2"/>
<line x1="760.8" y1="2315.2" x2="1169.4" y2="2315.2" stroke="#000" stroke-width="2"/>
<line x1="760.8" y1="2315.2" x2="772.9" y2="2315.2" stroke="#000" stroke-width="2"/>
<text x="754.7" y="2321.9" font-size="18" text-anchor="end">0.0</text>
<line x1="760.8" y1="2271.2" x2="772.9" y2="2271.2" stroke="#000" stroke-width="2"/>
<text x="754.7" y="2277.9" font-size="18" text-anchor="end">0.3</text>
<line x1="760.8" y1="2227.2" x2="772.9" y2="2227.2" stroke="#000" stroke-width="2"/>
<text x="754.7" y="2233.9" font-size="18" text-anchor="end">0.6</text>
<line x1="760.8" y1="2183.2" x2="772.9" y2="2183.2" stroke="#000" stroke-width="2"/>
<text x="754.7" y="2189.9" font-size="18" text-anchor="end">0.9</text>
<line x1="760.8" y1="2139.2" x2="772.9" y2="2139.2" stroke="#000" stroke-width="2"/>
<text x="754.7" y="2145.9" font-size="18" text-anchor="end">1.2</text>
<line x1="760.8" y1="2095.2" x2="772.9" y2="2095.2" stroke="#000" stroke-width="2"/>
<text x="754.7" y="2101.9" font-size="18" text-anchor="end">1.5</text>
<line x1="760.8" y1="2051.2" x2="772.9" y2="2051.2" stroke="#000" stroke-width="2"/>
<text x="754.7" y="2057.9" font-size="18" text-anchor="end">1.8</text>
<rect x="787.7" y="2162.1" width="29.2" height="153.1" fill="#d50000"/>
<line x1="802.3" y1="2162.1" x2="802.3" y2="2158.5" stroke="#000" stroke-width="2"/>
<line x1="795.0" y1="2158.5" x2="809.6" y2="2158.5" stroke="#000" stroke-width="2"/>
<rect x="831.7" y="2105.1" width="29.2" height="210.1" fill="#91f53a"/>
<line x1="846.3" y1="2105.1" x2="846.3" y2="2098.4" stroke="#000" stroke-width="2"/>
<line x1="839.0" y1="2098.4" x2="853.6" y2="2098.4" stroke="#000" stroke-width="2"/>
<rect x="875.3" y="2118.6" width="29.2" height="196.6" fill="#9614dc"/>
<line x1="889.9" y1="2118.6" x2="889.9" y2="2115.0" stroke="#000" stroke-width="2"/>
<line x1="882.6" y1="2115.0" x2="897.2" y2="2115.0" stroke="#000" stroke-width="2"/>
<rect x="919.3" y="2144.2" width="29.2" height="171.0" fill="#0000fa"/>
<line x1="933.9" y1="2144.2" x2="933.9" y2="2133.4" stroke="#000" stroke-width="2"/>
<line x1="926.6" y1="2133.4" x2="941.2" y2="2133.4" stroke="#000" stroke-width="2"/>
<rect x="992.9" y="2170.2" width="29.2" height="145.0" fill="#d50000"/>
<line x1="1007.5" y1="2170.2" x2="1007.5" y2="2160.3" stroke="#000" stroke-width="2"/>
<line x1="1000.2" y1="2160.3" x2="1014.8" y2="2160.3" stroke="#000" stroke-width="2"/>
<rect x="1036.9" y="2120.8" width="29.2" height="194.4" fill="#91f53a"/>
<line x1="1051.5" y1="2120.8" x2="1051.5" y2="2113.2" stroke="#000" stroke-width="2"/>
<line x1="1044.2" y1="2113.2" x2="1058.8" y2="2113.2" stroke="#000" stroke-width="2"/>
<rect x="1080.9" y="2130.7" width="29.2" height="184.5" fill="#9614dc"/>
<line x1="1095.5" y1="2130.7" x2="1095.5" y2="2127.5" stroke="#000" stroke-width="2"/>
<line x1="1088.2" y1="2127.5" x2="1102.8" y2="2127.5" stroke="#000" stroke-width="2"/>
<rect x="1124.5" y="2152.2" width="29.1" height="163.0" fill="#0000fa"/>
<line x1="1139.0" y1="2152.2" x2="1139.0" y2="2143.3" stroke="#000" stroke-width="2"/>
<line x1="1131.8" y1="2143.3" x2="1146.3" y2="2143.3" stroke="#000" stroke-width="2"/>
<line x1="867.7" y1="2315.2" x2="867.7" y2="2325.1" stroke="#000" stroke-width="2"/>
<line x1="1072.8" y1="2315.2" x2="1072.8" y2="2325.1" stroke="#000" stroke-width="2"/>
<text x="870.8" y="2347.5" font-size="18" text-anchor="middle">BCPAP</text>
<text x="1071.7" y="2347.5" font-size="18" text-anchor="middle">K1</text>
<polyline points="802.1,2076.8 802.1,2065.7 848.4,2065.7 848.4,2076.8" fill="none" stroke="#000" stroke-width="2" stroke-linejoin="miter"/>
<polyline points="888.8,2086.2 888.8,2076.0 932.8,2076.0 932.8,2086.2" fill="none" stroke="#000" stroke-width="2" stroke-linejoin="miter"/>
<polyline points="1004.1,2084.9 1004.1,2073.8 1050.4,2073.8 1050.4,2084.9" fill="none" stroke="#000" stroke-width="2" stroke-linejoin="miter"/>
<polyline points="1101.1,2102.9 1101.1,2091.7 1138.8,2091.7 1138.8,2102.9" fill="none" stroke="#000" stroke-width="2" stroke-linejoin="miter"/>
<text x="785.9" y="2090.7" font-size="19" font-style="italic">P</text>
<text x="803.3" y="2090.7" font-size="19">=</text>
<text x="821.3" y="2090.7" font-size="19">0.002</text>
<text x="873.4" y="2106.9" font-size="19" font-style="italic">P</text>
<text x="890.8" y="2106.9" font-size="19">=</text>
<text x="908.9" y="2106.9" font-size="19">0.013</text>
<text x="988.5" y="2104.6" font-size="19" font-style="italic">P</text>
<text x="1005.9" y="2104.6" font-size="19">=</text>
<text x="1023.9" y="2104.6" font-size="19">0.000</text>
<text x="1085.7" y="2116.6" font-size="19" font-style="italic">P</text>
<text x="1103.1" y="2116.6" font-size="19">=</text>
<text x="1121.2" y="2116.6" font-size="19">0.016</text>
<text x="715.5" y="2180.3" font-size="18" text-anchor="middle" transform="rotate(-90 715.5 2180.3)">Relative protein expression</text>
<rect x="839.5" y="1930.3" width="28.5" height="14.0" fill="#d50000"/>
<rect x="839.5" y="1961.2" width="28.5" height="14.0" fill="#91f53a"/>
<rect x="839.5" y="1991.7" width="28.5" height="14.0" fill="#9614dc"/>
<rect x="839.5" y="2026.6" width="28.5" height="14.0" fill="#0000fa"/>
<text x="873.2" y="1937.7" font-size="18">sh-circSH2B3-NC</text>
<text x="873.2" y="1971.2" font-size="18">sh-circSH2B3-1</text>
<text x="873.2" y="2004.8" font-size="18">sh-circSH2B3-1+hsa-miR-4640-5p-NC</text>
<text x="873.2" y="2038.3" font-size="18">sh-circSH2B3-1+hsa-miR-4640-5p inhibitor</text>
</svg></body></html>
